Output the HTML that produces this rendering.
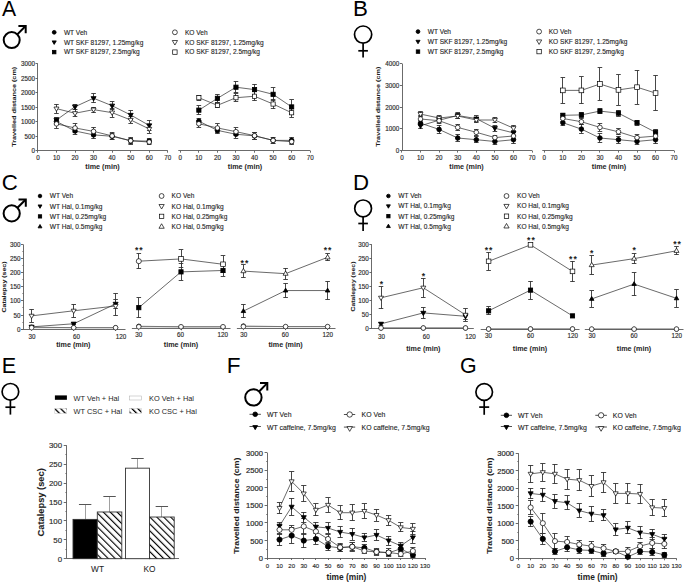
<!DOCTYPE html>
<html><head><meta charset="utf-8"><style>
html,body{margin:0;padding:0;background:#fff;width:685px;height:583px;overflow:hidden}
svg{display:block;font-family:"Liberation Sans", sans-serif}
</style></head><body>
<svg width="685" height="583" viewBox="0 0 685 583">
<rect width="685" height="583" fill="#fff"/>
<text transform="translate(1.88 15.70) scale(0.98 1)" font-size="21.6" fill="#000">A</text>
<circle cx="11.7" cy="40.1" r="8.0" fill="none" stroke="#000" stroke-width="2.0"/>
<line x1="17.32" y1="34.40" x2="25.14" y2="26.47" stroke="#000" stroke-width="2.0"/>
<polyline points="18.40,25.90 25.70,25.90 25.70,33.20" fill="none" stroke="#000" stroke-width="2.0" stroke-linecap="butt" stroke-linejoin="miter"/>
<circle cx="54.20" cy="32.30" r="1.89" fill="#000" stroke="#000" stroke-width="0.85"/>
<text x="63.90" y="34.68" font-size="6.6" text-anchor="start" font-weight="normal" fill="#1e1e1e" stroke="#1e1e1e" stroke-width="0.12">WT Veh</text>
<polygon points="52.15,40.89 56.25,40.89 54.20,44.41" fill="#000" stroke="#000" stroke-width="0.85" stroke-linejoin="miter"/>
<text x="63.90" y="44.58" font-size="6.6" text-anchor="start" font-weight="normal" fill="#1e1e1e" stroke="#1e1e1e" stroke-width="0.12">WT SKF 81297, 1.25mg/kg</text>
<rect x="52.48" y="50.38" width="3.44" height="3.44" fill="#000" stroke="#000" stroke-width="0.85"/>
<text x="63.90" y="54.48" font-size="6.6" text-anchor="start" font-weight="normal" fill="#1e1e1e" stroke="#1e1e1e" stroke-width="0.12">WT SKF 81297, 2.5mg/kg</text>
<circle cx="174.90" cy="32.30" r="2.42" fill="#fff" stroke="#000" stroke-width="0.7"/>
<text x="184.90" y="34.68" font-size="6.6" text-anchor="start" font-weight="normal" fill="#1e1e1e" stroke="#1e1e1e" stroke-width="0.12">KO Veh</text>
<polygon points="172.28,40.52 177.53,40.52 174.90,45.03" fill="#fff" stroke="#000" stroke-width="0.7" stroke-linejoin="miter"/>
<text x="184.90" y="44.58" font-size="6.6" text-anchor="start" font-weight="normal" fill="#1e1e1e" stroke="#1e1e1e" stroke-width="0.12">KO SKF 81297, 1.25mg/kg</text>
<rect x="172.69" y="49.89" width="4.41" height="4.41" fill="#fff" stroke="#000" stroke-width="0.7"/>
<text x="184.90" y="54.48" font-size="6.6" text-anchor="start" font-weight="normal" fill="#1e1e1e" stroke="#1e1e1e" stroke-width="0.12">KO SKF 81297, 2.5mg/kg</text>
<line x1="37.50" y1="150.70" x2="37.50" y2="63.80" stroke="#5a5a5a" stroke-width="0.9"/>
<line x1="35.50" y1="150.50" x2="37.90" y2="150.50" stroke="#5a5a5a" stroke-width="0.9"/>
<text x="34.90" y="153.00" font-size="6.3" text-anchor="end" font-weight="normal" fill="#2a2a2a" stroke="#2a2a2a" stroke-width="0.15">0</text>
<line x1="35.50" y1="136.50" x2="37.90" y2="136.50" stroke="#5a5a5a" stroke-width="0.9"/>
<text x="34.90" y="139.00" font-size="6.3" text-anchor="end" font-weight="normal" fill="#2a2a2a" stroke="#2a2a2a" stroke-width="0.15">500</text>
<line x1="35.50" y1="121.50" x2="37.90" y2="121.50" stroke="#5a5a5a" stroke-width="0.9"/>
<text x="34.90" y="124.00" font-size="6.3" text-anchor="end" font-weight="normal" fill="#2a2a2a" stroke="#2a2a2a" stroke-width="0.15">1000</text>
<line x1="35.50" y1="107.50" x2="37.90" y2="107.50" stroke="#5a5a5a" stroke-width="0.9"/>
<text x="34.90" y="110.00" font-size="6.3" text-anchor="end" font-weight="normal" fill="#2a2a2a" stroke="#2a2a2a" stroke-width="0.15">1500</text>
<line x1="35.50" y1="92.50" x2="37.90" y2="92.50" stroke="#5a5a5a" stroke-width="0.9"/>
<text x="34.90" y="95.00" font-size="6.3" text-anchor="end" font-weight="normal" fill="#2a2a2a" stroke="#2a2a2a" stroke-width="0.15">2000</text>
<line x1="35.50" y1="78.50" x2="37.90" y2="78.50" stroke="#5a5a5a" stroke-width="0.9"/>
<text x="34.90" y="81.00" font-size="6.3" text-anchor="end" font-weight="normal" fill="#2a2a2a" stroke="#2a2a2a" stroke-width="0.15">2500</text>
<line x1="35.50" y1="63.50" x2="37.90" y2="63.50" stroke="#5a5a5a" stroke-width="0.9"/>
<text x="34.90" y="66.00" font-size="6.3" text-anchor="end" font-weight="normal" fill="#2a2a2a" stroke="#2a2a2a" stroke-width="0.15">3000</text>
<line x1="37.90" y1="150.50" x2="167.80" y2="150.50" stroke="#5a5a5a" stroke-width="0.9"/>
<line x1="37.50" y1="150.70" x2="37.50" y2="152.70" stroke="#5a5a5a" stroke-width="0.9"/>
<text x="37.90" y="160.10" font-size="6.3" text-anchor="middle" font-weight="normal" fill="#2a2a2a" stroke="#2a2a2a" stroke-width="0.15">0</text>
<line x1="56.50" y1="150.70" x2="56.50" y2="152.70" stroke="#5a5a5a" stroke-width="0.9"/>
<text x="56.46" y="160.10" font-size="6.3" text-anchor="middle" font-weight="normal" fill="#2a2a2a" stroke="#2a2a2a" stroke-width="0.15">10</text>
<line x1="75.50" y1="150.70" x2="75.50" y2="152.70" stroke="#5a5a5a" stroke-width="0.9"/>
<text x="75.01" y="160.10" font-size="6.3" text-anchor="middle" font-weight="normal" fill="#2a2a2a" stroke="#2a2a2a" stroke-width="0.15">20</text>
<line x1="93.50" y1="150.70" x2="93.50" y2="152.70" stroke="#5a5a5a" stroke-width="0.9"/>
<text x="93.57" y="160.10" font-size="6.3" text-anchor="middle" font-weight="normal" fill="#2a2a2a" stroke="#2a2a2a" stroke-width="0.15">30</text>
<line x1="112.50" y1="150.70" x2="112.50" y2="152.70" stroke="#5a5a5a" stroke-width="0.9"/>
<text x="112.13" y="160.10" font-size="6.3" text-anchor="middle" font-weight="normal" fill="#2a2a2a" stroke="#2a2a2a" stroke-width="0.15">40</text>
<line x1="130.50" y1="150.70" x2="130.50" y2="152.70" stroke="#5a5a5a" stroke-width="0.9"/>
<text x="130.69" y="160.10" font-size="6.3" text-anchor="middle" font-weight="normal" fill="#2a2a2a" stroke="#2a2a2a" stroke-width="0.15">50</text>
<line x1="149.50" y1="150.70" x2="149.50" y2="152.70" stroke="#5a5a5a" stroke-width="0.9"/>
<text x="149.24" y="160.10" font-size="6.3" text-anchor="middle" font-weight="normal" fill="#2a2a2a" stroke="#2a2a2a" stroke-width="0.15">60</text>
<line x1="167.50" y1="150.70" x2="167.50" y2="152.70" stroke="#5a5a5a" stroke-width="0.9"/>
<text x="167.80" y="160.10" font-size="6.3" text-anchor="middle" font-weight="normal" fill="#2a2a2a" stroke="#2a2a2a" stroke-width="0.15">70</text>
<line x1="178.30" y1="150.50" x2="310.20" y2="150.50" stroke="#5a5a5a" stroke-width="0.9"/>
<line x1="180.50" y1="150.70" x2="180.50" y2="152.70" stroke="#5a5a5a" stroke-width="0.9"/>
<text x="180.30" y="160.10" font-size="6.3" text-anchor="middle" font-weight="normal" fill="#2a2a2a" stroke="#2a2a2a" stroke-width="0.15">0</text>
<line x1="198.50" y1="150.70" x2="198.50" y2="152.70" stroke="#5a5a5a" stroke-width="0.9"/>
<text x="198.86" y="160.10" font-size="6.3" text-anchor="middle" font-weight="normal" fill="#2a2a2a" stroke="#2a2a2a" stroke-width="0.15">10</text>
<line x1="217.50" y1="150.70" x2="217.50" y2="152.70" stroke="#5a5a5a" stroke-width="0.9"/>
<text x="217.41" y="160.10" font-size="6.3" text-anchor="middle" font-weight="normal" fill="#2a2a2a" stroke="#2a2a2a" stroke-width="0.15">20</text>
<line x1="235.50" y1="150.70" x2="235.50" y2="152.70" stroke="#5a5a5a" stroke-width="0.9"/>
<text x="235.97" y="160.10" font-size="6.3" text-anchor="middle" font-weight="normal" fill="#2a2a2a" stroke="#2a2a2a" stroke-width="0.15">30</text>
<line x1="254.50" y1="150.70" x2="254.50" y2="152.70" stroke="#5a5a5a" stroke-width="0.9"/>
<text x="254.53" y="160.10" font-size="6.3" text-anchor="middle" font-weight="normal" fill="#2a2a2a" stroke="#2a2a2a" stroke-width="0.15">40</text>
<line x1="273.50" y1="150.70" x2="273.50" y2="152.70" stroke="#5a5a5a" stroke-width="0.9"/>
<text x="273.09" y="160.10" font-size="6.3" text-anchor="middle" font-weight="normal" fill="#2a2a2a" stroke="#2a2a2a" stroke-width="0.15">50</text>
<line x1="291.50" y1="150.70" x2="291.50" y2="152.70" stroke="#5a5a5a" stroke-width="0.9"/>
<text x="291.64" y="160.10" font-size="6.3" text-anchor="middle" font-weight="normal" fill="#2a2a2a" stroke="#2a2a2a" stroke-width="0.15">60</text>
<line x1="310.50" y1="150.70" x2="310.50" y2="152.70" stroke="#5a5a5a" stroke-width="0.9"/>
<text x="310.20" y="160.10" font-size="6.3" text-anchor="middle" font-weight="normal" fill="#2a2a2a" stroke="#2a2a2a" stroke-width="0.15">70</text>
<text transform="translate(13.60 106.80) rotate(-90) scale(1 0.83)" font-size="7.26" text-anchor="middle" font-weight="bold" fill="#1e1e1e" stroke="#1e1e1e" stroke-width="0.1" dominant-baseline="central">Travelled distance (cm)</text>
<text x="102.50" y="169.30" font-size="7.2" text-anchor="middle" font-weight="bold" fill="#1e1e1e">time (min)</text>
<text x="245.00" y="169.30" font-size="7.2" text-anchor="middle" font-weight="bold" fill="#1e1e1e">time (min)</text>
<line x1="56.50" y1="121.47" x2="56.50" y2="118.00" stroke="#333" stroke-width="0.9"/>
<line x1="54.16" y1="117.50" x2="58.76" y2="117.50" stroke="#333" stroke-width="0.9"/>
<line x1="56.50" y1="121.47" x2="56.50" y2="124.95" stroke="#333" stroke-width="0.9"/>
<line x1="54.16" y1="124.50" x2="58.76" y2="124.50" stroke="#333" stroke-width="0.9"/>
<line x1="75.50" y1="130.97" x2="75.50" y2="127.50" stroke="#333" stroke-width="0.9"/>
<line x1="72.71" y1="127.50" x2="77.31" y2="127.50" stroke="#333" stroke-width="0.9"/>
<line x1="75.50" y1="130.97" x2="75.50" y2="134.45" stroke="#333" stroke-width="0.9"/>
<line x1="72.71" y1="134.50" x2="77.31" y2="134.50" stroke="#333" stroke-width="0.9"/>
<line x1="93.50" y1="134.88" x2="93.50" y2="130.83" stroke="#333" stroke-width="0.9"/>
<line x1="91.27" y1="130.50" x2="95.87" y2="130.50" stroke="#333" stroke-width="0.9"/>
<line x1="93.50" y1="134.88" x2="93.50" y2="138.94" stroke="#333" stroke-width="0.9"/>
<line x1="91.27" y1="138.50" x2="95.87" y2="138.50" stroke="#333" stroke-width="0.9"/>
<line x1="112.50" y1="136.27" x2="112.50" y2="133.09" stroke="#333" stroke-width="0.9"/>
<line x1="109.83" y1="133.50" x2="114.43" y2="133.50" stroke="#333" stroke-width="0.9"/>
<line x1="112.50" y1="136.27" x2="112.50" y2="139.46" stroke="#333" stroke-width="0.9"/>
<line x1="109.83" y1="139.50" x2="114.43" y2="139.50" stroke="#333" stroke-width="0.9"/>
<line x1="130.50" y1="140.79" x2="130.50" y2="138.19" stroke="#333" stroke-width="0.9"/>
<line x1="128.39" y1="138.50" x2="132.99" y2="138.50" stroke="#333" stroke-width="0.9"/>
<line x1="130.50" y1="140.79" x2="130.50" y2="143.40" stroke="#333" stroke-width="0.9"/>
<line x1="128.39" y1="143.50" x2="132.99" y2="143.50" stroke="#333" stroke-width="0.9"/>
<line x1="149.50" y1="141.14" x2="149.50" y2="138.82" stroke="#333" stroke-width="0.9"/>
<line x1="146.94" y1="138.50" x2="151.54" y2="138.50" stroke="#333" stroke-width="0.9"/>
<line x1="149.50" y1="141.14" x2="149.50" y2="143.46" stroke="#333" stroke-width="0.9"/>
<line x1="146.94" y1="143.50" x2="151.54" y2="143.50" stroke="#333" stroke-width="0.9"/>
<line x1="56.50" y1="123.88" x2="56.50" y2="119.53" stroke="#333" stroke-width="0.9"/>
<line x1="54.16" y1="119.50" x2="58.76" y2="119.50" stroke="#333" stroke-width="0.9"/>
<line x1="56.50" y1="123.88" x2="56.50" y2="128.22" stroke="#333" stroke-width="0.9"/>
<line x1="54.16" y1="128.50" x2="58.76" y2="128.50" stroke="#333" stroke-width="0.9"/>
<line x1="75.50" y1="127.96" x2="75.50" y2="123.62" stroke="#333" stroke-width="0.9"/>
<line x1="72.71" y1="123.50" x2="77.31" y2="123.50" stroke="#333" stroke-width="0.9"/>
<line x1="75.50" y1="127.96" x2="75.50" y2="132.31" stroke="#333" stroke-width="0.9"/>
<line x1="72.71" y1="132.50" x2="77.31" y2="132.50" stroke="#333" stroke-width="0.9"/>
<line x1="93.50" y1="131.38" x2="93.50" y2="127.03" stroke="#333" stroke-width="0.9"/>
<line x1="91.27" y1="127.50" x2="95.87" y2="127.50" stroke="#333" stroke-width="0.9"/>
<line x1="93.50" y1="131.38" x2="93.50" y2="135.72" stroke="#333" stroke-width="0.9"/>
<line x1="91.27" y1="135.50" x2="95.87" y2="135.50" stroke="#333" stroke-width="0.9"/>
<line x1="112.50" y1="135.87" x2="112.50" y2="132.10" stroke="#333" stroke-width="0.9"/>
<line x1="109.83" y1="132.50" x2="114.43" y2="132.50" stroke="#333" stroke-width="0.9"/>
<line x1="112.50" y1="135.87" x2="112.50" y2="139.63" stroke="#333" stroke-width="0.9"/>
<line x1="109.83" y1="139.50" x2="114.43" y2="139.50" stroke="#333" stroke-width="0.9"/>
<line x1="130.50" y1="140.79" x2="130.50" y2="137.03" stroke="#333" stroke-width="0.9"/>
<line x1="128.39" y1="137.50" x2="132.99" y2="137.50" stroke="#333" stroke-width="0.9"/>
<line x1="130.50" y1="140.79" x2="130.50" y2="144.56" stroke="#333" stroke-width="0.9"/>
<line x1="128.39" y1="144.50" x2="132.99" y2="144.50" stroke="#333" stroke-width="0.9"/>
<line x1="149.50" y1="142.01" x2="149.50" y2="139.11" stroke="#333" stroke-width="0.9"/>
<line x1="146.94" y1="139.50" x2="151.54" y2="139.50" stroke="#333" stroke-width="0.9"/>
<line x1="149.50" y1="142.01" x2="149.50" y2="144.91" stroke="#333" stroke-width="0.9"/>
<line x1="146.94" y1="144.50" x2="151.54" y2="144.50" stroke="#333" stroke-width="0.9"/>
<line x1="56.50" y1="119.97" x2="56.50" y2="117.36" stroke="#333" stroke-width="0.9"/>
<line x1="54.16" y1="117.50" x2="58.76" y2="117.50" stroke="#333" stroke-width="0.9"/>
<line x1="56.50" y1="119.97" x2="56.50" y2="122.57" stroke="#333" stroke-width="0.9"/>
<line x1="54.16" y1="122.50" x2="58.76" y2="122.50" stroke="#333" stroke-width="0.9"/>
<line x1="75.50" y1="106.76" x2="75.50" y2="104.44" stroke="#333" stroke-width="0.9"/>
<line x1="72.71" y1="104.50" x2="77.31" y2="104.50" stroke="#333" stroke-width="0.9"/>
<line x1="75.50" y1="106.76" x2="75.50" y2="109.07" stroke="#333" stroke-width="0.9"/>
<line x1="72.71" y1="109.50" x2="77.31" y2="109.50" stroke="#333" stroke-width="0.9"/>
<line x1="93.50" y1="98.24" x2="93.50" y2="93.61" stroke="#333" stroke-width="0.9"/>
<line x1="91.27" y1="93.50" x2="95.87" y2="93.50" stroke="#333" stroke-width="0.9"/>
<line x1="93.50" y1="98.24" x2="93.50" y2="102.88" stroke="#333" stroke-width="0.9"/>
<line x1="91.27" y1="102.50" x2="95.87" y2="102.50" stroke="#333" stroke-width="0.9"/>
<line x1="112.50" y1="105.74" x2="112.50" y2="101.60" stroke="#333" stroke-width="0.9"/>
<line x1="109.83" y1="101.50" x2="114.43" y2="101.50" stroke="#333" stroke-width="0.9"/>
<line x1="112.50" y1="105.74" x2="112.50" y2="109.89" stroke="#333" stroke-width="0.9"/>
<line x1="109.83" y1="109.50" x2="114.43" y2="109.50" stroke="#333" stroke-width="0.9"/>
<line x1="130.50" y1="114.96" x2="130.50" y2="110.32" stroke="#333" stroke-width="0.9"/>
<line x1="128.39" y1="110.50" x2="132.99" y2="110.50" stroke="#333" stroke-width="0.9"/>
<line x1="130.50" y1="114.96" x2="130.50" y2="119.59" stroke="#333" stroke-width="0.9"/>
<line x1="128.39" y1="119.50" x2="132.99" y2="119.50" stroke="#333" stroke-width="0.9"/>
<line x1="149.50" y1="125.47" x2="149.50" y2="120.40" stroke="#333" stroke-width="0.9"/>
<line x1="146.94" y1="120.50" x2="151.54" y2="120.50" stroke="#333" stroke-width="0.9"/>
<line x1="149.50" y1="125.47" x2="149.50" y2="130.54" stroke="#333" stroke-width="0.9"/>
<line x1="146.94" y1="130.50" x2="151.54" y2="130.50" stroke="#333" stroke-width="0.9"/>
<line x1="56.50" y1="108.64" x2="56.50" y2="104.15" stroke="#333" stroke-width="0.9"/>
<line x1="54.16" y1="104.50" x2="58.76" y2="104.50" stroke="#333" stroke-width="0.9"/>
<line x1="56.50" y1="108.64" x2="56.50" y2="113.13" stroke="#333" stroke-width="0.9"/>
<line x1="54.16" y1="113.50" x2="58.76" y2="113.50" stroke="#333" stroke-width="0.9"/>
<line x1="75.50" y1="113.25" x2="75.50" y2="109.77" stroke="#333" stroke-width="0.9"/>
<line x1="72.71" y1="109.50" x2="77.31" y2="109.50" stroke="#333" stroke-width="0.9"/>
<line x1="75.50" y1="113.25" x2="75.50" y2="116.72" stroke="#333" stroke-width="0.9"/>
<line x1="72.71" y1="116.50" x2="77.31" y2="116.50" stroke="#333" stroke-width="0.9"/>
<line x1="93.50" y1="109.65" x2="93.50" y2="107.19" stroke="#333" stroke-width="0.9"/>
<line x1="91.27" y1="107.50" x2="95.87" y2="107.50" stroke="#333" stroke-width="0.9"/>
<line x1="93.50" y1="109.65" x2="93.50" y2="112.12" stroke="#333" stroke-width="0.9"/>
<line x1="91.27" y1="112.50" x2="95.87" y2="112.50" stroke="#333" stroke-width="0.9"/>
<line x1="112.50" y1="112.67" x2="112.50" y2="108.32" stroke="#333" stroke-width="0.9"/>
<line x1="109.83" y1="108.50" x2="114.43" y2="108.50" stroke="#333" stroke-width="0.9"/>
<line x1="112.50" y1="112.67" x2="112.50" y2="117.01" stroke="#333" stroke-width="0.9"/>
<line x1="109.83" y1="117.50" x2="114.43" y2="117.50" stroke="#333" stroke-width="0.9"/>
<line x1="130.50" y1="119.97" x2="130.50" y2="116.78" stroke="#333" stroke-width="0.9"/>
<line x1="128.39" y1="116.50" x2="132.99" y2="116.50" stroke="#333" stroke-width="0.9"/>
<line x1="130.50" y1="119.97" x2="130.50" y2="123.15" stroke="#333" stroke-width="0.9"/>
<line x1="128.39" y1="123.50" x2="132.99" y2="123.50" stroke="#333" stroke-width="0.9"/>
<line x1="149.50" y1="128.97" x2="149.50" y2="124.92" stroke="#333" stroke-width="0.9"/>
<line x1="146.94" y1="124.50" x2="151.54" y2="124.50" stroke="#333" stroke-width="0.9"/>
<line x1="149.50" y1="128.97" x2="149.50" y2="133.03" stroke="#333" stroke-width="0.9"/>
<line x1="146.94" y1="133.50" x2="151.54" y2="133.50" stroke="#333" stroke-width="0.9"/>
<polyline points="56.46,121.47 75.01,130.97 93.57,134.88 112.13,136.27 130.69,140.79 149.24,141.14" fill="none" stroke="#2a2a2a" stroke-width="0.7"/>
<polyline points="56.46,123.88 75.01,127.96 93.57,131.38 112.13,135.87 130.69,140.79 149.24,142.01" fill="none" stroke="#2a2a2a" stroke-width="0.7"/>
<polyline points="56.46,119.97 75.01,106.76 93.57,98.24 112.13,105.74 130.69,114.96 149.24,125.47" fill="none" stroke="#2a2a2a" stroke-width="0.7"/>
<polyline points="56.46,108.64 75.01,113.25 93.57,109.65 112.13,112.67 130.69,119.97 149.24,128.97" fill="none" stroke="#2a2a2a" stroke-width="0.7"/>
<polygon points="53.96,118.37 58.96,118.37 56.46,122.67" fill="#000" stroke="#000" stroke-width="0.85" stroke-linejoin="miter"/>
<polygon points="72.51,105.16 77.51,105.16 75.01,109.46" fill="#000" stroke="#000" stroke-width="0.85" stroke-linejoin="miter"/>
<polygon points="91.07,96.64 96.07,96.64 93.57,100.94" fill="#000" stroke="#000" stroke-width="0.85" stroke-linejoin="miter"/>
<polygon points="109.63,104.14 114.63,104.14 112.13,108.44" fill="#000" stroke="#000" stroke-width="0.85" stroke-linejoin="miter"/>
<polygon points="128.19,113.36 133.19,113.36 130.69,117.66" fill="#000" stroke="#000" stroke-width="0.85" stroke-linejoin="miter"/>
<polygon points="146.74,123.87 151.74,123.87 149.24,128.17" fill="#000" stroke="#000" stroke-width="0.85" stroke-linejoin="miter"/>
<polygon points="53.96,107.04 58.96,107.04 56.46,111.34" fill="#fff" stroke="#000" stroke-width="0.7" stroke-linejoin="miter"/>
<polygon points="72.51,111.65 77.51,111.65 75.01,115.95" fill="#fff" stroke="#000" stroke-width="0.7" stroke-linejoin="miter"/>
<polygon points="91.07,108.05 96.07,108.05 93.57,112.35" fill="#fff" stroke="#000" stroke-width="0.7" stroke-linejoin="miter"/>
<polygon points="109.63,111.07 114.63,111.07 112.13,115.37" fill="#fff" stroke="#000" stroke-width="0.7" stroke-linejoin="miter"/>
<polygon points="128.19,118.37 133.19,118.37 130.69,122.67" fill="#fff" stroke="#000" stroke-width="0.7" stroke-linejoin="miter"/>
<polygon points="146.74,127.38 151.74,127.38 149.24,131.67" fill="#fff" stroke="#000" stroke-width="0.7" stroke-linejoin="miter"/>
<circle cx="56.46" cy="121.47" r="2.30" fill="#000" stroke="#000" stroke-width="0.85"/>
<circle cx="75.01" cy="130.97" r="2.30" fill="#000" stroke="#000" stroke-width="0.85"/>
<circle cx="93.57" cy="134.88" r="2.30" fill="#000" stroke="#000" stroke-width="0.85"/>
<circle cx="112.13" cy="136.27" r="2.30" fill="#000" stroke="#000" stroke-width="0.85"/>
<circle cx="130.69" cy="140.79" r="2.30" fill="#000" stroke="#000" stroke-width="0.85"/>
<circle cx="149.24" cy="141.14" r="2.30" fill="#000" stroke="#000" stroke-width="0.85"/>
<circle cx="56.46" cy="123.88" r="2.30" fill="#fff" stroke="#000" stroke-width="0.7"/>
<circle cx="75.01" cy="127.96" r="2.30" fill="#fff" stroke="#000" stroke-width="0.7"/>
<circle cx="93.57" cy="131.38" r="2.30" fill="#fff" stroke="#000" stroke-width="0.7"/>
<circle cx="112.13" cy="135.87" r="2.30" fill="#fff" stroke="#000" stroke-width="0.7"/>
<circle cx="130.69" cy="140.79" r="2.30" fill="#fff" stroke="#000" stroke-width="0.7"/>
<circle cx="149.24" cy="142.01" r="2.30" fill="#fff" stroke="#000" stroke-width="0.7"/>
<line x1="198.50" y1="121.15" x2="198.50" y2="118.26" stroke="#333" stroke-width="0.9"/>
<line x1="196.56" y1="118.50" x2="201.16" y2="118.50" stroke="#333" stroke-width="0.9"/>
<line x1="198.50" y1="121.15" x2="198.50" y2="124.05" stroke="#333" stroke-width="0.9"/>
<line x1="196.56" y1="124.50" x2="201.16" y2="124.50" stroke="#333" stroke-width="0.9"/>
<line x1="217.50" y1="130.37" x2="217.50" y2="127.18" stroke="#333" stroke-width="0.9"/>
<line x1="215.11" y1="127.50" x2="219.71" y2="127.50" stroke="#333" stroke-width="0.9"/>
<line x1="217.50" y1="130.37" x2="217.50" y2="133.55" stroke="#333" stroke-width="0.9"/>
<line x1="215.11" y1="133.50" x2="219.71" y2="133.50" stroke="#333" stroke-width="0.9"/>
<line x1="235.50" y1="134.28" x2="235.50" y2="130.51" stroke="#333" stroke-width="0.9"/>
<line x1="233.67" y1="130.50" x2="238.27" y2="130.50" stroke="#333" stroke-width="0.9"/>
<line x1="235.50" y1="134.28" x2="235.50" y2="138.04" stroke="#333" stroke-width="0.9"/>
<line x1="233.67" y1="138.50" x2="238.27" y2="138.50" stroke="#333" stroke-width="0.9"/>
<line x1="254.50" y1="135.87" x2="254.50" y2="132.68" stroke="#333" stroke-width="0.9"/>
<line x1="252.23" y1="132.50" x2="256.83" y2="132.50" stroke="#333" stroke-width="0.9"/>
<line x1="254.50" y1="135.87" x2="254.50" y2="139.06" stroke="#333" stroke-width="0.9"/>
<line x1="252.23" y1="139.50" x2="256.83" y2="139.50" stroke="#333" stroke-width="0.9"/>
<line x1="273.50" y1="140.39" x2="273.50" y2="137.49" stroke="#333" stroke-width="0.9"/>
<line x1="270.79" y1="137.50" x2="275.39" y2="137.50" stroke="#333" stroke-width="0.9"/>
<line x1="273.50" y1="140.39" x2="273.50" y2="143.28" stroke="#333" stroke-width="0.9"/>
<line x1="270.79" y1="143.50" x2="275.39" y2="143.50" stroke="#333" stroke-width="0.9"/>
<line x1="291.50" y1="140.39" x2="291.50" y2="137.49" stroke="#333" stroke-width="0.9"/>
<line x1="289.34" y1="137.50" x2="293.94" y2="137.50" stroke="#333" stroke-width="0.9"/>
<line x1="291.50" y1="140.39" x2="291.50" y2="143.28" stroke="#333" stroke-width="0.9"/>
<line x1="289.34" y1="143.50" x2="293.94" y2="143.50" stroke="#333" stroke-width="0.9"/>
<line x1="198.50" y1="123.76" x2="198.50" y2="120.28" stroke="#333" stroke-width="0.9"/>
<line x1="196.56" y1="120.50" x2="201.16" y2="120.50" stroke="#333" stroke-width="0.9"/>
<line x1="198.50" y1="123.76" x2="198.50" y2="127.24" stroke="#333" stroke-width="0.9"/>
<line x1="196.56" y1="127.50" x2="201.16" y2="127.50" stroke="#333" stroke-width="0.9"/>
<line x1="217.50" y1="127.96" x2="217.50" y2="123.91" stroke="#333" stroke-width="0.9"/>
<line x1="215.11" y1="123.50" x2="219.71" y2="123.50" stroke="#333" stroke-width="0.9"/>
<line x1="217.50" y1="127.96" x2="217.50" y2="132.02" stroke="#333" stroke-width="0.9"/>
<line x1="215.11" y1="132.50" x2="219.71" y2="132.50" stroke="#333" stroke-width="0.9"/>
<line x1="235.50" y1="131.67" x2="235.50" y2="127.61" stroke="#333" stroke-width="0.9"/>
<line x1="233.67" y1="127.50" x2="238.27" y2="127.50" stroke="#333" stroke-width="0.9"/>
<line x1="235.50" y1="131.67" x2="235.50" y2="135.72" stroke="#333" stroke-width="0.9"/>
<line x1="233.67" y1="135.50" x2="238.27" y2="135.50" stroke="#333" stroke-width="0.9"/>
<line x1="254.50" y1="135.67" x2="254.50" y2="132.19" stroke="#333" stroke-width="0.9"/>
<line x1="252.23" y1="132.50" x2="256.83" y2="132.50" stroke="#333" stroke-width="0.9"/>
<line x1="254.50" y1="135.67" x2="254.50" y2="139.14" stroke="#333" stroke-width="0.9"/>
<line x1="252.23" y1="139.50" x2="256.83" y2="139.50" stroke="#333" stroke-width="0.9"/>
<line x1="273.50" y1="140.39" x2="273.50" y2="137.20" stroke="#333" stroke-width="0.9"/>
<line x1="270.79" y1="137.50" x2="275.39" y2="137.50" stroke="#333" stroke-width="0.9"/>
<line x1="273.50" y1="140.39" x2="273.50" y2="143.57" stroke="#333" stroke-width="0.9"/>
<line x1="270.79" y1="143.50" x2="275.39" y2="143.50" stroke="#333" stroke-width="0.9"/>
<line x1="291.50" y1="141.69" x2="291.50" y2="139.08" stroke="#333" stroke-width="0.9"/>
<line x1="289.34" y1="139.50" x2="293.94" y2="139.50" stroke="#333" stroke-width="0.9"/>
<line x1="291.50" y1="141.69" x2="291.50" y2="144.30" stroke="#333" stroke-width="0.9"/>
<line x1="289.34" y1="144.50" x2="293.94" y2="144.50" stroke="#333" stroke-width="0.9"/>
<line x1="198.50" y1="110.15" x2="198.50" y2="105.80" stroke="#333" stroke-width="0.9"/>
<line x1="196.56" y1="105.50" x2="201.16" y2="105.50" stroke="#333" stroke-width="0.9"/>
<line x1="198.50" y1="110.15" x2="198.50" y2="114.49" stroke="#333" stroke-width="0.9"/>
<line x1="196.56" y1="114.50" x2="201.16" y2="114.50" stroke="#333" stroke-width="0.9"/>
<line x1="217.50" y1="98.33" x2="217.50" y2="94.56" stroke="#333" stroke-width="0.9"/>
<line x1="215.11" y1="94.50" x2="219.71" y2="94.50" stroke="#333" stroke-width="0.9"/>
<line x1="217.50" y1="98.33" x2="217.50" y2="102.09" stroke="#333" stroke-width="0.9"/>
<line x1="215.11" y1="102.50" x2="219.71" y2="102.50" stroke="#333" stroke-width="0.9"/>
<line x1="235.50" y1="87.21" x2="235.50" y2="81.41" stroke="#333" stroke-width="0.9"/>
<line x1="233.67" y1="81.50" x2="238.27" y2="81.50" stroke="#333" stroke-width="0.9"/>
<line x1="235.50" y1="87.21" x2="235.50" y2="93.00" stroke="#333" stroke-width="0.9"/>
<line x1="233.67" y1="92.50" x2="238.27" y2="92.50" stroke="#333" stroke-width="0.9"/>
<line x1="254.50" y1="89.61" x2="254.50" y2="84.11" stroke="#333" stroke-width="0.9"/>
<line x1="252.23" y1="84.50" x2="256.83" y2="84.50" stroke="#333" stroke-width="0.9"/>
<line x1="254.50" y1="89.61" x2="254.50" y2="95.11" stroke="#333" stroke-width="0.9"/>
<line x1="252.23" y1="95.50" x2="256.83" y2="95.50" stroke="#333" stroke-width="0.9"/>
<line x1="273.50" y1="94.33" x2="273.50" y2="87.67" stroke="#333" stroke-width="0.9"/>
<line x1="270.79" y1="87.50" x2="275.39" y2="87.50" stroke="#333" stroke-width="0.9"/>
<line x1="273.50" y1="94.33" x2="273.50" y2="100.99" stroke="#333" stroke-width="0.9"/>
<line x1="270.79" y1="100.50" x2="275.39" y2="100.50" stroke="#333" stroke-width="0.9"/>
<line x1="291.50" y1="106.93" x2="291.50" y2="99.98" stroke="#333" stroke-width="0.9"/>
<line x1="289.34" y1="99.50" x2="293.94" y2="99.50" stroke="#333" stroke-width="0.9"/>
<line x1="291.50" y1="106.93" x2="291.50" y2="113.88" stroke="#333" stroke-width="0.9"/>
<line x1="289.34" y1="113.50" x2="293.94" y2="113.50" stroke="#333" stroke-width="0.9"/>
<line x1="198.50" y1="97.72" x2="198.50" y2="95.40" stroke="#333" stroke-width="0.9"/>
<line x1="196.56" y1="95.50" x2="201.16" y2="95.50" stroke="#333" stroke-width="0.9"/>
<line x1="198.50" y1="97.72" x2="198.50" y2="100.04" stroke="#333" stroke-width="0.9"/>
<line x1="196.56" y1="100.50" x2="201.16" y2="100.50" stroke="#333" stroke-width="0.9"/>
<line x1="217.50" y1="105.34" x2="217.50" y2="102.73" stroke="#333" stroke-width="0.9"/>
<line x1="215.11" y1="102.50" x2="219.71" y2="102.50" stroke="#333" stroke-width="0.9"/>
<line x1="217.50" y1="105.34" x2="217.50" y2="107.95" stroke="#333" stroke-width="0.9"/>
<line x1="215.11" y1="107.50" x2="219.71" y2="107.50" stroke="#333" stroke-width="0.9"/>
<line x1="235.50" y1="97.72" x2="235.50" y2="93.95" stroke="#333" stroke-width="0.9"/>
<line x1="233.67" y1="93.50" x2="238.27" y2="93.50" stroke="#333" stroke-width="0.9"/>
<line x1="235.50" y1="97.72" x2="235.50" y2="101.49" stroke="#333" stroke-width="0.9"/>
<line x1="233.67" y1="101.50" x2="238.27" y2="101.50" stroke="#333" stroke-width="0.9"/>
<line x1="254.50" y1="96.24" x2="254.50" y2="91.90" stroke="#333" stroke-width="0.9"/>
<line x1="252.23" y1="91.50" x2="256.83" y2="91.50" stroke="#333" stroke-width="0.9"/>
<line x1="254.50" y1="96.24" x2="254.50" y2="100.59" stroke="#333" stroke-width="0.9"/>
<line x1="252.23" y1="100.50" x2="256.83" y2="100.50" stroke="#333" stroke-width="0.9"/>
<line x1="273.50" y1="104.03" x2="273.50" y2="99.11" stroke="#333" stroke-width="0.9"/>
<line x1="270.79" y1="99.50" x2="275.39" y2="99.50" stroke="#333" stroke-width="0.9"/>
<line x1="273.50" y1="104.03" x2="273.50" y2="108.96" stroke="#333" stroke-width="0.9"/>
<line x1="270.79" y1="108.50" x2="275.39" y2="108.50" stroke="#333" stroke-width="0.9"/>
<line x1="291.50" y1="112.75" x2="291.50" y2="108.12" stroke="#333" stroke-width="0.9"/>
<line x1="289.34" y1="108.50" x2="293.94" y2="108.50" stroke="#333" stroke-width="0.9"/>
<line x1="291.50" y1="112.75" x2="291.50" y2="117.39" stroke="#333" stroke-width="0.9"/>
<line x1="289.34" y1="117.50" x2="293.94" y2="117.50" stroke="#333" stroke-width="0.9"/>
<polyline points="198.86,121.15 217.41,130.37 235.97,134.28 254.53,135.87 273.09,140.39 291.64,140.39" fill="none" stroke="#2a2a2a" stroke-width="0.7"/>
<polyline points="198.86,123.76 217.41,127.96 235.97,131.67 254.53,135.67 273.09,140.39 291.64,141.69" fill="none" stroke="#2a2a2a" stroke-width="0.7"/>
<polyline points="198.86,110.15 217.41,98.33 235.97,87.21 254.53,89.61 273.09,94.33 291.64,106.93" fill="none" stroke="#2a2a2a" stroke-width="0.7"/>
<polyline points="198.86,97.72 217.41,105.34 235.97,97.72 254.53,96.24 273.09,104.03 291.64,112.75" fill="none" stroke="#2a2a2a" stroke-width="0.7"/>
<rect x="196.76" y="108.05" width="4.20" height="4.20" fill="#000" stroke="#000" stroke-width="0.85"/>
<rect x="215.31" y="96.23" width="4.20" height="4.20" fill="#000" stroke="#000" stroke-width="0.85"/>
<rect x="233.87" y="85.11" width="4.20" height="4.20" fill="#000" stroke="#000" stroke-width="0.85"/>
<rect x="252.43" y="87.51" width="4.20" height="4.20" fill="#000" stroke="#000" stroke-width="0.85"/>
<rect x="270.99" y="92.23" width="4.20" height="4.20" fill="#000" stroke="#000" stroke-width="0.85"/>
<rect x="289.54" y="104.83" width="4.20" height="4.20" fill="#000" stroke="#000" stroke-width="0.85"/>
<rect x="196.76" y="95.62" width="4.20" height="4.20" fill="#fff" stroke="#000" stroke-width="0.7"/>
<rect x="215.31" y="103.24" width="4.20" height="4.20" fill="#fff" stroke="#000" stroke-width="0.7"/>
<rect x="233.87" y="95.62" width="4.20" height="4.20" fill="#fff" stroke="#000" stroke-width="0.7"/>
<rect x="252.43" y="94.14" width="4.20" height="4.20" fill="#fff" stroke="#000" stroke-width="0.7"/>
<rect x="270.99" y="101.93" width="4.20" height="4.20" fill="#fff" stroke="#000" stroke-width="0.7"/>
<rect x="289.54" y="110.65" width="4.20" height="4.20" fill="#fff" stroke="#000" stroke-width="0.7"/>
<circle cx="198.86" cy="121.15" r="2.30" fill="#000" stroke="#000" stroke-width="0.85"/>
<circle cx="217.41" cy="130.37" r="2.30" fill="#000" stroke="#000" stroke-width="0.85"/>
<circle cx="235.97" cy="134.28" r="2.30" fill="#000" stroke="#000" stroke-width="0.85"/>
<circle cx="254.53" cy="135.87" r="2.30" fill="#000" stroke="#000" stroke-width="0.85"/>
<circle cx="273.09" cy="140.39" r="2.30" fill="#000" stroke="#000" stroke-width="0.85"/>
<circle cx="291.64" cy="140.39" r="2.30" fill="#000" stroke="#000" stroke-width="0.85"/>
<circle cx="198.86" cy="123.76" r="2.30" fill="#fff" stroke="#000" stroke-width="0.7"/>
<circle cx="217.41" cy="127.96" r="2.30" fill="#fff" stroke="#000" stroke-width="0.7"/>
<circle cx="235.97" cy="131.67" r="2.30" fill="#fff" stroke="#000" stroke-width="0.7"/>
<circle cx="254.53" cy="135.67" r="2.30" fill="#fff" stroke="#000" stroke-width="0.7"/>
<circle cx="273.09" cy="140.39" r="2.30" fill="#fff" stroke="#000" stroke-width="0.7"/>
<circle cx="291.64" cy="141.69" r="2.30" fill="#fff" stroke="#000" stroke-width="0.7"/>
<text transform="translate(353.10 15.90) scale(1.035 1)" font-size="21.6" fill="#000">B</text>
<circle cx="363.1" cy="34.6" r="8.6" fill="none" stroke="#000" stroke-width="1.7"/>
<line x1="363.1" y1="43.2" x2="363.1" y2="57.4" stroke="#000" stroke-width="1.7"/>
<line x1="358.3" y1="50.8" x2="367.90000000000003" y2="50.8" stroke="#000" stroke-width="1.7"/>
<circle cx="418.00" cy="31.60" r="1.89" fill="#000" stroke="#000" stroke-width="0.85"/>
<text x="427.70" y="33.98" font-size="6.6" text-anchor="start" font-weight="normal" fill="#1e1e1e" stroke="#1e1e1e" stroke-width="0.12">WT Veh</text>
<polygon points="415.95,40.29 420.05,40.29 418.00,43.81" fill="#000" stroke="#000" stroke-width="0.85" stroke-linejoin="miter"/>
<text x="427.70" y="43.98" font-size="6.6" text-anchor="start" font-weight="normal" fill="#1e1e1e" stroke="#1e1e1e" stroke-width="0.12">WT SKF 81297, 1.25mg/kg</text>
<rect x="416.28" y="49.88" width="3.44" height="3.44" fill="#000" stroke="#000" stroke-width="0.85"/>
<text x="427.70" y="53.98" font-size="6.6" text-anchor="start" font-weight="normal" fill="#1e1e1e" stroke="#1e1e1e" stroke-width="0.12">WT SKF 81297, 2.5mg/kg</text>
<circle cx="539.10" cy="31.60" r="2.42" fill="#fff" stroke="#000" stroke-width="0.7"/>
<text x="548.70" y="33.98" font-size="6.6" text-anchor="start" font-weight="normal" fill="#1e1e1e" stroke="#1e1e1e" stroke-width="0.12">KO Veh</text>
<polygon points="536.48,39.92 541.73,39.92 539.10,44.44" fill="#fff" stroke="#000" stroke-width="0.7" stroke-linejoin="miter"/>
<text x="548.70" y="43.98" font-size="6.6" text-anchor="start" font-weight="normal" fill="#1e1e1e" stroke="#1e1e1e" stroke-width="0.12">KO SKF 81297, 1.25mg/kg</text>
<rect x="536.89" y="49.40" width="4.41" height="4.41" fill="#fff" stroke="#000" stroke-width="0.7"/>
<text x="548.70" y="53.98" font-size="6.6" text-anchor="start" font-weight="normal" fill="#1e1e1e" stroke="#1e1e1e" stroke-width="0.12">KO SKF 81297, 2.5mg/kg</text>
<line x1="402.50" y1="150.60" x2="402.50" y2="63.70" stroke="#5a5a5a" stroke-width="0.9"/>
<line x1="399.80" y1="150.50" x2="402.20" y2="150.50" stroke="#5a5a5a" stroke-width="0.9"/>
<text x="399.20" y="153.00" font-size="6.3" text-anchor="end" font-weight="normal" fill="#2a2a2a" stroke="#2a2a2a" stroke-width="0.15">0</text>
<line x1="399.80" y1="128.50" x2="402.20" y2="128.50" stroke="#5a5a5a" stroke-width="0.9"/>
<text x="399.20" y="131.00" font-size="6.3" text-anchor="end" font-weight="normal" fill="#2a2a2a" stroke="#2a2a2a" stroke-width="0.15">1000</text>
<line x1="399.80" y1="107.50" x2="402.20" y2="107.50" stroke="#5a5a5a" stroke-width="0.9"/>
<text x="399.20" y="110.00" font-size="6.3" text-anchor="end" font-weight="normal" fill="#2a2a2a" stroke="#2a2a2a" stroke-width="0.15">2000</text>
<line x1="399.80" y1="85.50" x2="402.20" y2="85.50" stroke="#5a5a5a" stroke-width="0.9"/>
<text x="399.20" y="88.00" font-size="6.3" text-anchor="end" font-weight="normal" fill="#2a2a2a" stroke="#2a2a2a" stroke-width="0.15">3000</text>
<line x1="399.80" y1="63.50" x2="402.20" y2="63.50" stroke="#5a5a5a" stroke-width="0.9"/>
<text x="399.20" y="66.00" font-size="6.3" text-anchor="end" font-weight="normal" fill="#2a2a2a" stroke="#2a2a2a" stroke-width="0.15">4000</text>
<line x1="402.20" y1="150.50" x2="532.10" y2="150.50" stroke="#5a5a5a" stroke-width="0.9"/>
<line x1="401.50" y1="150.60" x2="401.50" y2="152.60" stroke="#5a5a5a" stroke-width="0.9"/>
<text x="401.90" y="160.00" font-size="6.3" text-anchor="middle" font-weight="normal" fill="#2a2a2a" stroke="#2a2a2a" stroke-width="0.15">0</text>
<line x1="420.50" y1="150.60" x2="420.50" y2="152.60" stroke="#5a5a5a" stroke-width="0.9"/>
<text x="420.50" y="160.00" font-size="6.3" text-anchor="middle" font-weight="normal" fill="#2a2a2a" stroke="#2a2a2a" stroke-width="0.15">10</text>
<line x1="439.50" y1="150.60" x2="439.50" y2="152.60" stroke="#5a5a5a" stroke-width="0.9"/>
<text x="439.10" y="160.00" font-size="6.3" text-anchor="middle" font-weight="normal" fill="#2a2a2a" stroke="#2a2a2a" stroke-width="0.15">20</text>
<line x1="457.50" y1="150.60" x2="457.50" y2="152.60" stroke="#5a5a5a" stroke-width="0.9"/>
<text x="457.70" y="160.00" font-size="6.3" text-anchor="middle" font-weight="normal" fill="#2a2a2a" stroke="#2a2a2a" stroke-width="0.15">30</text>
<line x1="476.50" y1="150.60" x2="476.50" y2="152.60" stroke="#5a5a5a" stroke-width="0.9"/>
<text x="476.30" y="160.00" font-size="6.3" text-anchor="middle" font-weight="normal" fill="#2a2a2a" stroke="#2a2a2a" stroke-width="0.15">40</text>
<line x1="494.50" y1="150.60" x2="494.50" y2="152.60" stroke="#5a5a5a" stroke-width="0.9"/>
<text x="494.90" y="160.00" font-size="6.3" text-anchor="middle" font-weight="normal" fill="#2a2a2a" stroke="#2a2a2a" stroke-width="0.15">50</text>
<line x1="513.50" y1="150.60" x2="513.50" y2="152.60" stroke="#5a5a5a" stroke-width="0.9"/>
<text x="513.50" y="160.00" font-size="6.3" text-anchor="middle" font-weight="normal" fill="#2a2a2a" stroke="#2a2a2a" stroke-width="0.15">60</text>
<line x1="532.50" y1="150.60" x2="532.50" y2="152.60" stroke="#5a5a5a" stroke-width="0.9"/>
<text x="532.10" y="160.00" font-size="6.3" text-anchor="middle" font-weight="normal" fill="#2a2a2a" stroke="#2a2a2a" stroke-width="0.15">70</text>
<line x1="542.30" y1="150.50" x2="674.10" y2="150.50" stroke="#5a5a5a" stroke-width="0.9"/>
<line x1="544.50" y1="150.60" x2="544.50" y2="152.60" stroke="#5a5a5a" stroke-width="0.9"/>
<text x="544.30" y="160.00" font-size="6.3" text-anchor="middle" font-weight="normal" fill="#2a2a2a" stroke="#2a2a2a" stroke-width="0.15">0</text>
<line x1="562.50" y1="150.60" x2="562.50" y2="152.60" stroke="#5a5a5a" stroke-width="0.9"/>
<text x="562.84" y="160.00" font-size="6.3" text-anchor="middle" font-weight="normal" fill="#2a2a2a" stroke="#2a2a2a" stroke-width="0.15">10</text>
<line x1="581.50" y1="150.60" x2="581.50" y2="152.60" stroke="#5a5a5a" stroke-width="0.9"/>
<text x="581.39" y="160.00" font-size="6.3" text-anchor="middle" font-weight="normal" fill="#2a2a2a" stroke="#2a2a2a" stroke-width="0.15">20</text>
<line x1="599.50" y1="150.60" x2="599.50" y2="152.60" stroke="#5a5a5a" stroke-width="0.9"/>
<text x="599.93" y="160.00" font-size="6.3" text-anchor="middle" font-weight="normal" fill="#2a2a2a" stroke="#2a2a2a" stroke-width="0.15">30</text>
<line x1="618.50" y1="150.60" x2="618.50" y2="152.60" stroke="#5a5a5a" stroke-width="0.9"/>
<text x="618.47" y="160.00" font-size="6.3" text-anchor="middle" font-weight="normal" fill="#2a2a2a" stroke="#2a2a2a" stroke-width="0.15">40</text>
<line x1="637.50" y1="150.60" x2="637.50" y2="152.60" stroke="#5a5a5a" stroke-width="0.9"/>
<text x="637.01" y="160.00" font-size="6.3" text-anchor="middle" font-weight="normal" fill="#2a2a2a" stroke="#2a2a2a" stroke-width="0.15">50</text>
<line x1="655.50" y1="150.60" x2="655.50" y2="152.60" stroke="#5a5a5a" stroke-width="0.9"/>
<text x="655.56" y="160.00" font-size="6.3" text-anchor="middle" font-weight="normal" fill="#2a2a2a" stroke="#2a2a2a" stroke-width="0.15">60</text>
<line x1="674.50" y1="150.60" x2="674.50" y2="152.60" stroke="#5a5a5a" stroke-width="0.9"/>
<text x="674.10" y="160.00" font-size="6.3" text-anchor="middle" font-weight="normal" fill="#2a2a2a" stroke="#2a2a2a" stroke-width="0.15">70</text>
<text transform="translate(377.90 106.70) rotate(-90) scale(1 0.85)" font-size="7.26" text-anchor="middle" font-weight="bold" fill="#1e1e1e" stroke="#1e1e1e" stroke-width="0.1" dominant-baseline="central">Travelled distance (cm)</text>
<text x="466.50" y="169.30" font-size="7.2" text-anchor="middle" font-weight="bold" fill="#1e1e1e">time (min)</text>
<text x="609.00" y="169.30" font-size="7.2" text-anchor="middle" font-weight="bold" fill="#1e1e1e">time (min)</text>
<line x1="420.50" y1="123.15" x2="420.50" y2="120.56" stroke="#333" stroke-width="0.9"/>
<line x1="418.20" y1="120.50" x2="422.80" y2="120.50" stroke="#333" stroke-width="0.9"/>
<line x1="420.50" y1="123.15" x2="420.50" y2="125.74" stroke="#333" stroke-width="0.9"/>
<line x1="418.20" y1="125.50" x2="422.80" y2="125.50" stroke="#333" stroke-width="0.9"/>
<line x1="439.50" y1="129.42" x2="439.50" y2="125.10" stroke="#333" stroke-width="0.9"/>
<line x1="436.80" y1="125.50" x2="441.40" y2="125.50" stroke="#333" stroke-width="0.9"/>
<line x1="439.50" y1="129.42" x2="439.50" y2="133.74" stroke="#333" stroke-width="0.9"/>
<line x1="436.80" y1="133.50" x2="441.40" y2="133.50" stroke="#333" stroke-width="0.9"/>
<line x1="457.50" y1="138.01" x2="457.50" y2="134.56" stroke="#333" stroke-width="0.9"/>
<line x1="455.40" y1="134.50" x2="460.00" y2="134.50" stroke="#333" stroke-width="0.9"/>
<line x1="457.50" y1="138.01" x2="457.50" y2="141.47" stroke="#333" stroke-width="0.9"/>
<line x1="455.40" y1="141.50" x2="460.00" y2="141.50" stroke="#333" stroke-width="0.9"/>
<line x1="476.50" y1="139.70" x2="476.50" y2="136.89" stroke="#333" stroke-width="0.9"/>
<line x1="474.00" y1="136.50" x2="478.60" y2="136.50" stroke="#333" stroke-width="0.9"/>
<line x1="476.50" y1="139.70" x2="476.50" y2="142.51" stroke="#333" stroke-width="0.9"/>
<line x1="474.00" y1="142.50" x2="478.60" y2="142.50" stroke="#333" stroke-width="0.9"/>
<line x1="494.50" y1="141.51" x2="494.50" y2="138.49" stroke="#333" stroke-width="0.9"/>
<line x1="492.60" y1="138.50" x2="497.20" y2="138.50" stroke="#333" stroke-width="0.9"/>
<line x1="494.50" y1="141.51" x2="494.50" y2="144.54" stroke="#333" stroke-width="0.9"/>
<line x1="492.60" y1="144.50" x2="497.20" y2="144.50" stroke="#333" stroke-width="0.9"/>
<line x1="513.50" y1="139.70" x2="513.50" y2="135.81" stroke="#333" stroke-width="0.9"/>
<line x1="511.20" y1="135.50" x2="515.80" y2="135.50" stroke="#333" stroke-width="0.9"/>
<line x1="513.50" y1="139.70" x2="513.50" y2="143.59" stroke="#333" stroke-width="0.9"/>
<line x1="511.20" y1="143.50" x2="515.80" y2="143.50" stroke="#333" stroke-width="0.9"/>
<line x1="420.50" y1="119.00" x2="420.50" y2="115.76" stroke="#333" stroke-width="0.9"/>
<line x1="418.20" y1="115.50" x2="422.80" y2="115.50" stroke="#333" stroke-width="0.9"/>
<line x1="420.50" y1="119.00" x2="420.50" y2="122.24" stroke="#333" stroke-width="0.9"/>
<line x1="418.20" y1="122.50" x2="422.80" y2="122.50" stroke="#333" stroke-width="0.9"/>
<line x1="439.50" y1="120.71" x2="439.50" y2="117.90" stroke="#333" stroke-width="0.9"/>
<line x1="436.80" y1="117.50" x2="441.40" y2="117.50" stroke="#333" stroke-width="0.9"/>
<line x1="439.50" y1="120.71" x2="439.50" y2="123.52" stroke="#333" stroke-width="0.9"/>
<line x1="436.80" y1="123.50" x2="441.40" y2="123.50" stroke="#333" stroke-width="0.9"/>
<line x1="457.50" y1="127.41" x2="457.50" y2="124.17" stroke="#333" stroke-width="0.9"/>
<line x1="455.40" y1="124.50" x2="460.00" y2="124.50" stroke="#333" stroke-width="0.9"/>
<line x1="457.50" y1="127.41" x2="457.50" y2="130.65" stroke="#333" stroke-width="0.9"/>
<line x1="455.40" y1="130.50" x2="460.00" y2="130.50" stroke="#333" stroke-width="0.9"/>
<line x1="476.50" y1="132.31" x2="476.50" y2="129.29" stroke="#333" stroke-width="0.9"/>
<line x1="474.00" y1="129.50" x2="478.60" y2="129.50" stroke="#333" stroke-width="0.9"/>
<line x1="476.50" y1="132.31" x2="476.50" y2="135.33" stroke="#333" stroke-width="0.9"/>
<line x1="474.00" y1="135.50" x2="478.60" y2="135.50" stroke="#333" stroke-width="0.9"/>
<line x1="494.50" y1="137.60" x2="494.50" y2="135.01" stroke="#333" stroke-width="0.9"/>
<line x1="492.60" y1="135.50" x2="497.20" y2="135.50" stroke="#333" stroke-width="0.9"/>
<line x1="494.50" y1="137.60" x2="494.50" y2="140.19" stroke="#333" stroke-width="0.9"/>
<line x1="492.60" y1="140.50" x2="497.20" y2="140.50" stroke="#333" stroke-width="0.9"/>
<line x1="513.50" y1="136.00" x2="513.50" y2="132.76" stroke="#333" stroke-width="0.9"/>
<line x1="511.20" y1="132.50" x2="515.80" y2="132.50" stroke="#333" stroke-width="0.9"/>
<line x1="513.50" y1="136.00" x2="513.50" y2="139.24" stroke="#333" stroke-width="0.9"/>
<line x1="511.20" y1="139.50" x2="515.80" y2="139.50" stroke="#333" stroke-width="0.9"/>
<line x1="420.50" y1="125.81" x2="420.50" y2="123.00" stroke="#333" stroke-width="0.9"/>
<line x1="418.20" y1="123.50" x2="422.80" y2="123.50" stroke="#333" stroke-width="0.9"/>
<line x1="420.50" y1="125.81" x2="420.50" y2="128.62" stroke="#333" stroke-width="0.9"/>
<line x1="418.20" y1="128.50" x2="422.80" y2="128.50" stroke="#333" stroke-width="0.9"/>
<line x1="439.50" y1="120.19" x2="439.50" y2="117.82" stroke="#333" stroke-width="0.9"/>
<line x1="436.80" y1="117.50" x2="441.40" y2="117.50" stroke="#333" stroke-width="0.9"/>
<line x1="439.50" y1="120.19" x2="439.50" y2="122.57" stroke="#333" stroke-width="0.9"/>
<line x1="436.80" y1="122.50" x2="441.40" y2="122.50" stroke="#333" stroke-width="0.9"/>
<line x1="457.50" y1="115.51" x2="457.50" y2="112.70" stroke="#333" stroke-width="0.9"/>
<line x1="455.40" y1="112.50" x2="460.00" y2="112.50" stroke="#333" stroke-width="0.9"/>
<line x1="457.50" y1="115.51" x2="457.50" y2="118.31" stroke="#333" stroke-width="0.9"/>
<line x1="455.40" y1="118.50" x2="460.00" y2="118.50" stroke="#333" stroke-width="0.9"/>
<line x1="476.50" y1="118.62" x2="476.50" y2="115.81" stroke="#333" stroke-width="0.9"/>
<line x1="474.00" y1="115.50" x2="478.60" y2="115.50" stroke="#333" stroke-width="0.9"/>
<line x1="476.50" y1="118.62" x2="476.50" y2="121.42" stroke="#333" stroke-width="0.9"/>
<line x1="474.00" y1="121.50" x2="478.60" y2="121.50" stroke="#333" stroke-width="0.9"/>
<line x1="494.50" y1="128.21" x2="494.50" y2="125.40" stroke="#333" stroke-width="0.9"/>
<line x1="492.60" y1="125.50" x2="497.20" y2="125.50" stroke="#333" stroke-width="0.9"/>
<line x1="494.50" y1="128.21" x2="494.50" y2="131.01" stroke="#333" stroke-width="0.9"/>
<line x1="492.60" y1="131.50" x2="497.20" y2="131.50" stroke="#333" stroke-width="0.9"/>
<line x1="513.50" y1="132.89" x2="513.50" y2="130.30" stroke="#333" stroke-width="0.9"/>
<line x1="511.20" y1="130.50" x2="515.80" y2="130.50" stroke="#333" stroke-width="0.9"/>
<line x1="513.50" y1="132.89" x2="513.50" y2="135.49" stroke="#333" stroke-width="0.9"/>
<line x1="511.20" y1="135.50" x2="515.80" y2="135.50" stroke="#333" stroke-width="0.9"/>
<line x1="420.50" y1="114.10" x2="420.50" y2="111.51" stroke="#333" stroke-width="0.9"/>
<line x1="418.20" y1="111.50" x2="422.80" y2="111.50" stroke="#333" stroke-width="0.9"/>
<line x1="420.50" y1="114.10" x2="420.50" y2="116.69" stroke="#333" stroke-width="0.9"/>
<line x1="418.20" y1="116.50" x2="422.80" y2="116.50" stroke="#333" stroke-width="0.9"/>
<line x1="439.50" y1="118.01" x2="439.50" y2="115.64" stroke="#333" stroke-width="0.9"/>
<line x1="436.80" y1="115.50" x2="441.40" y2="115.50" stroke="#333" stroke-width="0.9"/>
<line x1="439.50" y1="118.01" x2="439.50" y2="120.39" stroke="#333" stroke-width="0.9"/>
<line x1="436.80" y1="120.50" x2="441.40" y2="120.50" stroke="#333" stroke-width="0.9"/>
<line x1="457.50" y1="116.00" x2="457.50" y2="113.84" stroke="#333" stroke-width="0.9"/>
<line x1="455.40" y1="113.50" x2="460.00" y2="113.50" stroke="#333" stroke-width="0.9"/>
<line x1="457.50" y1="116.00" x2="457.50" y2="118.16" stroke="#333" stroke-width="0.9"/>
<line x1="455.40" y1="118.50" x2="460.00" y2="118.50" stroke="#333" stroke-width="0.9"/>
<line x1="476.50" y1="120.00" x2="476.50" y2="117.41" stroke="#333" stroke-width="0.9"/>
<line x1="474.00" y1="117.50" x2="478.60" y2="117.50" stroke="#333" stroke-width="0.9"/>
<line x1="476.50" y1="120.00" x2="476.50" y2="122.59" stroke="#333" stroke-width="0.9"/>
<line x1="474.00" y1="122.50" x2="478.60" y2="122.50" stroke="#333" stroke-width="0.9"/>
<line x1="494.50" y1="120.00" x2="494.50" y2="117.19" stroke="#333" stroke-width="0.9"/>
<line x1="492.60" y1="117.50" x2="497.20" y2="117.50" stroke="#333" stroke-width="0.9"/>
<line x1="494.50" y1="120.00" x2="494.50" y2="122.81" stroke="#333" stroke-width="0.9"/>
<line x1="492.60" y1="122.50" x2="497.20" y2="122.50" stroke="#333" stroke-width="0.9"/>
<line x1="513.50" y1="128.21" x2="513.50" y2="125.18" stroke="#333" stroke-width="0.9"/>
<line x1="511.20" y1="125.50" x2="515.80" y2="125.50" stroke="#333" stroke-width="0.9"/>
<line x1="513.50" y1="128.21" x2="513.50" y2="131.23" stroke="#333" stroke-width="0.9"/>
<line x1="511.20" y1="131.50" x2="515.80" y2="131.50" stroke="#333" stroke-width="0.9"/>
<polyline points="420.50,123.15 439.10,129.42 457.70,138.01 476.30,139.70 494.90,141.51 513.50,139.70" fill="none" stroke="#2a2a2a" stroke-width="0.7"/>
<polyline points="420.50,119.00 439.10,120.71 457.70,127.41 476.30,132.31 494.90,137.60 513.50,136.00" fill="none" stroke="#2a2a2a" stroke-width="0.7"/>
<polyline points="420.50,125.81 439.10,120.19 457.70,115.51 476.30,118.62 494.90,128.21 513.50,132.89" fill="none" stroke="#2a2a2a" stroke-width="0.7"/>
<polyline points="420.50,114.10 439.10,118.01 457.70,116.00 476.30,120.00 494.90,120.00 513.50,128.21" fill="none" stroke="#2a2a2a" stroke-width="0.7"/>
<polygon points="418.00,124.21 423.00,124.21 420.50,128.51" fill="#000" stroke="#000" stroke-width="0.85" stroke-linejoin="miter"/>
<polygon points="436.60,118.59 441.60,118.59 439.10,122.89" fill="#000" stroke="#000" stroke-width="0.85" stroke-linejoin="miter"/>
<polygon points="455.20,113.91 460.20,113.91 457.70,118.21" fill="#000" stroke="#000" stroke-width="0.85" stroke-linejoin="miter"/>
<polygon points="473.80,117.02 478.80,117.02 476.30,121.32" fill="#000" stroke="#000" stroke-width="0.85" stroke-linejoin="miter"/>
<polygon points="492.40,126.61 497.40,126.61 494.90,130.91" fill="#000" stroke="#000" stroke-width="0.85" stroke-linejoin="miter"/>
<polygon points="511.00,131.29 516.00,131.29 513.50,135.59" fill="#000" stroke="#000" stroke-width="0.85" stroke-linejoin="miter"/>
<polygon points="418.00,112.50 423.00,112.50 420.50,116.80" fill="#fff" stroke="#000" stroke-width="0.7" stroke-linejoin="miter"/>
<polygon points="436.60,116.41 441.60,116.41 439.10,120.71" fill="#fff" stroke="#000" stroke-width="0.7" stroke-linejoin="miter"/>
<polygon points="455.20,114.40 460.20,114.40 457.70,118.70" fill="#fff" stroke="#000" stroke-width="0.7" stroke-linejoin="miter"/>
<polygon points="473.80,118.40 478.80,118.40 476.30,122.70" fill="#fff" stroke="#000" stroke-width="0.7" stroke-linejoin="miter"/>
<polygon points="492.40,118.40 497.40,118.40 494.90,122.70" fill="#fff" stroke="#000" stroke-width="0.7" stroke-linejoin="miter"/>
<polygon points="511.00,126.61 516.00,126.61 513.50,130.91" fill="#fff" stroke="#000" stroke-width="0.7" stroke-linejoin="miter"/>
<circle cx="420.50" cy="123.15" r="2.30" fill="#000" stroke="#000" stroke-width="0.85"/>
<circle cx="439.10" cy="129.42" r="2.30" fill="#000" stroke="#000" stroke-width="0.85"/>
<circle cx="457.70" cy="138.01" r="2.30" fill="#000" stroke="#000" stroke-width="0.85"/>
<circle cx="476.30" cy="139.70" r="2.30" fill="#000" stroke="#000" stroke-width="0.85"/>
<circle cx="494.90" cy="141.51" r="2.30" fill="#000" stroke="#000" stroke-width="0.85"/>
<circle cx="513.50" cy="139.70" r="2.30" fill="#000" stroke="#000" stroke-width="0.85"/>
<circle cx="420.50" cy="119.00" r="2.30" fill="#fff" stroke="#000" stroke-width="0.7"/>
<circle cx="439.10" cy="120.71" r="2.30" fill="#fff" stroke="#000" stroke-width="0.7"/>
<circle cx="457.70" cy="127.41" r="2.30" fill="#fff" stroke="#000" stroke-width="0.7"/>
<circle cx="476.30" cy="132.31" r="2.30" fill="#fff" stroke="#000" stroke-width="0.7"/>
<circle cx="494.90" cy="137.60" r="2.30" fill="#fff" stroke="#000" stroke-width="0.7"/>
<circle cx="513.50" cy="136.00" r="2.30" fill="#fff" stroke="#000" stroke-width="0.7"/>
<line x1="562.50" y1="122.70" x2="562.50" y2="119.46" stroke="#333" stroke-width="0.9"/>
<line x1="560.54" y1="119.50" x2="565.14" y2="119.50" stroke="#333" stroke-width="0.9"/>
<line x1="562.50" y1="122.70" x2="562.50" y2="125.94" stroke="#333" stroke-width="0.9"/>
<line x1="560.54" y1="125.50" x2="565.14" y2="125.50" stroke="#333" stroke-width="0.9"/>
<line x1="581.50" y1="129.10" x2="581.50" y2="124.99" stroke="#333" stroke-width="0.9"/>
<line x1="579.09" y1="124.50" x2="583.69" y2="124.50" stroke="#333" stroke-width="0.9"/>
<line x1="581.50" y1="129.10" x2="581.50" y2="133.20" stroke="#333" stroke-width="0.9"/>
<line x1="579.09" y1="133.50" x2="583.69" y2="133.50" stroke="#333" stroke-width="0.9"/>
<line x1="599.50" y1="138.00" x2="599.50" y2="133.68" stroke="#333" stroke-width="0.9"/>
<line x1="597.63" y1="133.50" x2="602.23" y2="133.50" stroke="#333" stroke-width="0.9"/>
<line x1="599.50" y1="138.00" x2="599.50" y2="142.32" stroke="#333" stroke-width="0.9"/>
<line x1="597.63" y1="142.50" x2="602.23" y2="142.50" stroke="#333" stroke-width="0.9"/>
<line x1="618.50" y1="139.70" x2="618.50" y2="136.25" stroke="#333" stroke-width="0.9"/>
<line x1="616.17" y1="136.50" x2="620.77" y2="136.50" stroke="#333" stroke-width="0.9"/>
<line x1="618.50" y1="139.70" x2="618.50" y2="143.16" stroke="#333" stroke-width="0.9"/>
<line x1="616.17" y1="143.50" x2="620.77" y2="143.50" stroke="#333" stroke-width="0.9"/>
<line x1="637.50" y1="141.41" x2="637.50" y2="138.17" stroke="#333" stroke-width="0.9"/>
<line x1="634.71" y1="138.50" x2="639.31" y2="138.50" stroke="#333" stroke-width="0.9"/>
<line x1="637.50" y1="141.41" x2="637.50" y2="144.65" stroke="#333" stroke-width="0.9"/>
<line x1="634.71" y1="144.50" x2="639.31" y2="144.50" stroke="#333" stroke-width="0.9"/>
<line x1="655.50" y1="139.70" x2="655.50" y2="135.82" stroke="#333" stroke-width="0.9"/>
<line x1="653.26" y1="135.50" x2="657.86" y2="135.50" stroke="#333" stroke-width="0.9"/>
<line x1="655.50" y1="139.70" x2="655.50" y2="143.59" stroke="#333" stroke-width="0.9"/>
<line x1="653.26" y1="143.50" x2="657.86" y2="143.50" stroke="#333" stroke-width="0.9"/>
<line x1="562.50" y1="118.49" x2="562.50" y2="115.68" stroke="#333" stroke-width="0.9"/>
<line x1="560.54" y1="115.50" x2="565.14" y2="115.50" stroke="#333" stroke-width="0.9"/>
<line x1="562.50" y1="118.49" x2="562.50" y2="121.30" stroke="#333" stroke-width="0.9"/>
<line x1="560.54" y1="121.50" x2="565.14" y2="121.50" stroke="#333" stroke-width="0.9"/>
<line x1="581.50" y1="121.71" x2="581.50" y2="118.47" stroke="#333" stroke-width="0.9"/>
<line x1="579.09" y1="118.50" x2="583.69" y2="118.50" stroke="#333" stroke-width="0.9"/>
<line x1="581.50" y1="121.71" x2="581.50" y2="124.95" stroke="#333" stroke-width="0.9"/>
<line x1="579.09" y1="124.50" x2="583.69" y2="124.50" stroke="#333" stroke-width="0.9"/>
<line x1="599.50" y1="127.39" x2="599.50" y2="123.72" stroke="#333" stroke-width="0.9"/>
<line x1="597.63" y1="123.50" x2="602.23" y2="123.50" stroke="#333" stroke-width="0.9"/>
<line x1="599.50" y1="127.39" x2="599.50" y2="131.06" stroke="#333" stroke-width="0.9"/>
<line x1="597.63" y1="131.50" x2="602.23" y2="131.50" stroke="#333" stroke-width="0.9"/>
<line x1="618.50" y1="131.80" x2="618.50" y2="128.77" stroke="#333" stroke-width="0.9"/>
<line x1="616.17" y1="128.50" x2="620.77" y2="128.50" stroke="#333" stroke-width="0.9"/>
<line x1="618.50" y1="131.80" x2="618.50" y2="134.82" stroke="#333" stroke-width="0.9"/>
<line x1="616.17" y1="134.50" x2="620.77" y2="134.50" stroke="#333" stroke-width="0.9"/>
<line x1="637.50" y1="137.61" x2="637.50" y2="134.80" stroke="#333" stroke-width="0.9"/>
<line x1="634.71" y1="134.50" x2="639.31" y2="134.50" stroke="#333" stroke-width="0.9"/>
<line x1="637.50" y1="137.61" x2="637.50" y2="140.42" stroke="#333" stroke-width="0.9"/>
<line x1="634.71" y1="140.50" x2="639.31" y2="140.50" stroke="#333" stroke-width="0.9"/>
<line x1="655.50" y1="136.10" x2="655.50" y2="132.86" stroke="#333" stroke-width="0.9"/>
<line x1="653.26" y1="132.50" x2="657.86" y2="132.50" stroke="#333" stroke-width="0.9"/>
<line x1="655.50" y1="136.10" x2="655.50" y2="139.34" stroke="#333" stroke-width="0.9"/>
<line x1="653.26" y1="139.50" x2="657.86" y2="139.50" stroke="#333" stroke-width="0.9"/>
<line x1="562.50" y1="115.30" x2="562.50" y2="113.14" stroke="#333" stroke-width="0.9"/>
<line x1="560.54" y1="113.50" x2="565.14" y2="113.50" stroke="#333" stroke-width="0.9"/>
<line x1="562.50" y1="115.30" x2="562.50" y2="117.46" stroke="#333" stroke-width="0.9"/>
<line x1="560.54" y1="117.50" x2="565.14" y2="117.50" stroke="#333" stroke-width="0.9"/>
<line x1="581.50" y1="114.91" x2="581.50" y2="112.75" stroke="#333" stroke-width="0.9"/>
<line x1="579.09" y1="112.50" x2="583.69" y2="112.50" stroke="#333" stroke-width="0.9"/>
<line x1="581.50" y1="114.91" x2="581.50" y2="117.07" stroke="#333" stroke-width="0.9"/>
<line x1="579.09" y1="117.50" x2="583.69" y2="117.50" stroke="#333" stroke-width="0.9"/>
<line x1="599.50" y1="111.10" x2="599.50" y2="108.73" stroke="#333" stroke-width="0.9"/>
<line x1="597.63" y1="108.50" x2="602.23" y2="108.50" stroke="#333" stroke-width="0.9"/>
<line x1="599.50" y1="111.10" x2="599.50" y2="113.48" stroke="#333" stroke-width="0.9"/>
<line x1="597.63" y1="113.50" x2="602.23" y2="113.50" stroke="#333" stroke-width="0.9"/>
<line x1="618.50" y1="113.20" x2="618.50" y2="110.39" stroke="#333" stroke-width="0.9"/>
<line x1="616.17" y1="110.50" x2="620.77" y2="110.50" stroke="#333" stroke-width="0.9"/>
<line x1="618.50" y1="113.20" x2="618.50" y2="116.01" stroke="#333" stroke-width="0.9"/>
<line x1="616.17" y1="116.50" x2="620.77" y2="116.50" stroke="#333" stroke-width="0.9"/>
<line x1="637.50" y1="122.70" x2="637.50" y2="120.33" stroke="#333" stroke-width="0.9"/>
<line x1="634.71" y1="120.50" x2="639.31" y2="120.50" stroke="#333" stroke-width="0.9"/>
<line x1="637.50" y1="122.70" x2="637.50" y2="125.08" stroke="#333" stroke-width="0.9"/>
<line x1="634.71" y1="125.50" x2="639.31" y2="125.50" stroke="#333" stroke-width="0.9"/>
<line x1="655.50" y1="132.29" x2="655.50" y2="129.70" stroke="#333" stroke-width="0.9"/>
<line x1="653.26" y1="129.50" x2="657.86" y2="129.50" stroke="#333" stroke-width="0.9"/>
<line x1="655.50" y1="132.29" x2="655.50" y2="134.89" stroke="#333" stroke-width="0.9"/>
<line x1="653.26" y1="134.50" x2="657.86" y2="134.50" stroke="#333" stroke-width="0.9"/>
<line x1="562.50" y1="90.39" x2="562.50" y2="77.43" stroke="#333" stroke-width="0.9"/>
<line x1="560.54" y1="77.50" x2="565.14" y2="77.50" stroke="#333" stroke-width="0.9"/>
<line x1="562.50" y1="90.39" x2="562.50" y2="103.35" stroke="#333" stroke-width="0.9"/>
<line x1="560.54" y1="103.50" x2="565.14" y2="103.50" stroke="#333" stroke-width="0.9"/>
<line x1="581.50" y1="90.39" x2="581.50" y2="77.00" stroke="#333" stroke-width="0.9"/>
<line x1="579.09" y1="76.50" x2="583.69" y2="76.50" stroke="#333" stroke-width="0.9"/>
<line x1="581.50" y1="90.39" x2="581.50" y2="103.78" stroke="#333" stroke-width="0.9"/>
<line x1="579.09" y1="103.50" x2="583.69" y2="103.50" stroke="#333" stroke-width="0.9"/>
<line x1="599.50" y1="84.00" x2="599.50" y2="67.80" stroke="#333" stroke-width="0.9"/>
<line x1="597.63" y1="67.50" x2="602.23" y2="67.50" stroke="#333" stroke-width="0.9"/>
<line x1="599.50" y1="84.00" x2="599.50" y2="100.20" stroke="#333" stroke-width="0.9"/>
<line x1="597.63" y1="100.50" x2="602.23" y2="100.50" stroke="#333" stroke-width="0.9"/>
<line x1="618.50" y1="89.89" x2="618.50" y2="74.77" stroke="#333" stroke-width="0.9"/>
<line x1="616.17" y1="74.50" x2="620.77" y2="74.50" stroke="#333" stroke-width="0.9"/>
<line x1="618.50" y1="89.89" x2="618.50" y2="105.01" stroke="#333" stroke-width="0.9"/>
<line x1="616.17" y1="105.50" x2="620.77" y2="105.50" stroke="#333" stroke-width="0.9"/>
<line x1="637.50" y1="87.19" x2="637.50" y2="70.35" stroke="#333" stroke-width="0.9"/>
<line x1="634.71" y1="70.50" x2="639.31" y2="70.50" stroke="#333" stroke-width="0.9"/>
<line x1="637.50" y1="87.19" x2="637.50" y2="104.04" stroke="#333" stroke-width="0.9"/>
<line x1="634.71" y1="104.50" x2="639.31" y2="104.50" stroke="#333" stroke-width="0.9"/>
<line x1="655.50" y1="93.09" x2="655.50" y2="75.59" stroke="#333" stroke-width="0.9"/>
<line x1="653.26" y1="75.50" x2="657.86" y2="75.50" stroke="#333" stroke-width="0.9"/>
<line x1="655.50" y1="93.09" x2="655.50" y2="110.59" stroke="#333" stroke-width="0.9"/>
<line x1="653.26" y1="110.50" x2="657.86" y2="110.50" stroke="#333" stroke-width="0.9"/>
<polyline points="562.84,122.70 581.39,129.10 599.93,138.00 618.47,139.70 637.01,141.41 655.56,139.70" fill="none" stroke="#2a2a2a" stroke-width="0.7"/>
<polyline points="562.84,118.49 581.39,121.71 599.93,127.39 618.47,131.80 637.01,137.61 655.56,136.10" fill="none" stroke="#2a2a2a" stroke-width="0.7"/>
<polyline points="562.84,115.30 581.39,114.91 599.93,111.10 618.47,113.20 637.01,122.70 655.56,132.29" fill="none" stroke="#2a2a2a" stroke-width="0.7"/>
<polyline points="562.84,90.39 581.39,90.39 599.93,84.00 618.47,89.89 637.01,87.19 655.56,93.09" fill="none" stroke="#2a2a2a" stroke-width="0.7"/>
<rect x="560.74" y="113.20" width="4.20" height="4.20" fill="#000" stroke="#000" stroke-width="0.85"/>
<rect x="579.29" y="112.81" width="4.20" height="4.20" fill="#000" stroke="#000" stroke-width="0.85"/>
<rect x="597.83" y="109.00" width="4.20" height="4.20" fill="#000" stroke="#000" stroke-width="0.85"/>
<rect x="616.37" y="111.10" width="4.20" height="4.20" fill="#000" stroke="#000" stroke-width="0.85"/>
<rect x="634.91" y="120.60" width="4.20" height="4.20" fill="#000" stroke="#000" stroke-width="0.85"/>
<rect x="653.46" y="130.19" width="4.20" height="4.20" fill="#000" stroke="#000" stroke-width="0.85"/>
<rect x="560.49" y="88.04" width="4.70" height="4.70" fill="#fff" stroke="#000" stroke-width="0.7"/>
<rect x="579.03" y="88.04" width="4.70" height="4.70" fill="#fff" stroke="#000" stroke-width="0.7"/>
<rect x="597.58" y="81.64" width="4.70" height="4.70" fill="#fff" stroke="#000" stroke-width="0.7"/>
<rect x="616.12" y="87.54" width="4.70" height="4.70" fill="#fff" stroke="#000" stroke-width="0.7"/>
<rect x="634.66" y="84.84" width="4.70" height="4.70" fill="#fff" stroke="#000" stroke-width="0.7"/>
<rect x="653.21" y="90.74" width="4.70" height="4.70" fill="#fff" stroke="#000" stroke-width="0.7"/>
<circle cx="562.84" cy="122.70" r="2.30" fill="#000" stroke="#000" stroke-width="0.85"/>
<circle cx="581.39" cy="129.10" r="2.30" fill="#000" stroke="#000" stroke-width="0.85"/>
<circle cx="599.93" cy="138.00" r="2.30" fill="#000" stroke="#000" stroke-width="0.85"/>
<circle cx="618.47" cy="139.70" r="2.30" fill="#000" stroke="#000" stroke-width="0.85"/>
<circle cx="637.01" cy="141.41" r="2.30" fill="#000" stroke="#000" stroke-width="0.85"/>
<circle cx="655.56" cy="139.70" r="2.30" fill="#000" stroke="#000" stroke-width="0.85"/>
<circle cx="562.84" cy="118.49" r="2.30" fill="#fff" stroke="#000" stroke-width="0.7"/>
<circle cx="581.39" cy="121.71" r="2.30" fill="#fff" stroke="#000" stroke-width="0.7"/>
<circle cx="599.93" cy="127.39" r="2.30" fill="#fff" stroke="#000" stroke-width="0.7"/>
<circle cx="618.47" cy="131.80" r="2.30" fill="#fff" stroke="#000" stroke-width="0.7"/>
<circle cx="637.01" cy="137.61" r="2.30" fill="#fff" stroke="#000" stroke-width="0.7"/>
<circle cx="655.56" cy="136.10" r="2.30" fill="#fff" stroke="#000" stroke-width="0.7"/>
<text transform="translate(1.75 189.85) scale(1.03 1)" font-size="21.6" fill="#000">C</text>
<circle cx="11.7" cy="213.4" r="8.1" fill="none" stroke="#000" stroke-width="2.0"/>
<line x1="17.47" y1="207.71" x2="25.23" y2="200.06" stroke="#000" stroke-width="2.0"/>
<polyline points="18.50,199.50 25.80,199.50 25.80,206.80" fill="none" stroke="#000" stroke-width="2.0" stroke-linecap="butt" stroke-linejoin="miter"/>
<circle cx="40.00" cy="196.00" r="1.79" fill="#000" stroke="#000" stroke-width="0.85"/>
<text x="49.80" y="198.38" font-size="6.6" text-anchor="start" font-weight="normal" fill="#1e1e1e" stroke="#1e1e1e" stroke-width="0.12">WT Veh</text>
<polygon points="38.05,204.95 41.95,204.95 40.00,208.31" fill="#000" stroke="#000" stroke-width="0.85" stroke-linejoin="miter"/>
<text x="49.80" y="208.58" font-size="6.6" text-anchor="start" font-weight="normal" fill="#1e1e1e" stroke="#1e1e1e" stroke-width="0.12">WT Hal, 0.1mg/kg</text>
<rect x="38.36" y="214.76" width="3.28" height="3.28" fill="#000" stroke="#000" stroke-width="0.85"/>
<text x="49.80" y="218.78" font-size="6.6" text-anchor="start" font-weight="normal" fill="#1e1e1e" stroke="#1e1e1e" stroke-width="0.12">WT Hal, 0.25mg/kg</text>
<polygon points="38.05,227.85 41.95,227.85 40.00,224.49" fill="#000" stroke="#000" stroke-width="0.85" stroke-linejoin="miter"/>
<text x="49.80" y="228.98" font-size="6.6" text-anchor="start" font-weight="normal" fill="#1e1e1e" stroke="#1e1e1e" stroke-width="0.12">WT Hal, 0.5mg/kg</text>
<circle cx="161.60" cy="196.00" r="2.42" fill="#fff" stroke="#000" stroke-width="0.7"/>
<text x="171.60" y="198.38" font-size="6.6" text-anchor="start" font-weight="normal" fill="#1e1e1e" stroke="#1e1e1e" stroke-width="0.12">KO Veh</text>
<polygon points="158.97,204.52 164.22,204.52 161.60,209.03" fill="#fff" stroke="#000" stroke-width="0.7" stroke-linejoin="miter"/>
<text x="171.60" y="208.58" font-size="6.6" text-anchor="start" font-weight="normal" fill="#1e1e1e" stroke="#1e1e1e" stroke-width="0.12">KO Hal, 0.1mg/kg</text>
<rect x="159.39" y="214.19" width="4.41" height="4.41" fill="#fff" stroke="#000" stroke-width="0.7"/>
<text x="171.60" y="218.78" font-size="6.6" text-anchor="start" font-weight="normal" fill="#1e1e1e" stroke="#1e1e1e" stroke-width="0.12">KO Hal, 0.25mg/kg</text>
<polygon points="158.97,228.28 164.22,228.28 161.60,223.76" fill="#fff" stroke="#000" stroke-width="0.7" stroke-linejoin="miter"/>
<text x="171.60" y="228.98" font-size="6.6" text-anchor="start" font-weight="normal" fill="#1e1e1e" stroke="#1e1e1e" stroke-width="0.12">KO Hal, 0.5mg/kg</text>
<line x1="23.50" y1="329.10" x2="23.50" y2="244.60" stroke="#5a5a5a" stroke-width="0.9"/>
<line x1="21.00" y1="329.50" x2="23.40" y2="329.50" stroke="#5a5a5a" stroke-width="0.9"/>
<text x="20.40" y="332.00" font-size="6.3" text-anchor="end" font-weight="normal" fill="#2a2a2a" stroke="#2a2a2a" stroke-width="0.15">0</text>
<line x1="21.00" y1="315.50" x2="23.40" y2="315.50" stroke="#5a5a5a" stroke-width="0.9"/>
<text x="20.40" y="318.00" font-size="6.3" text-anchor="end" font-weight="normal" fill="#2a2a2a" stroke="#2a2a2a" stroke-width="0.15">50</text>
<line x1="21.00" y1="300.50" x2="23.40" y2="300.50" stroke="#5a5a5a" stroke-width="0.9"/>
<text x="20.40" y="303.00" font-size="6.3" text-anchor="end" font-weight="normal" fill="#2a2a2a" stroke="#2a2a2a" stroke-width="0.15">100</text>
<line x1="21.00" y1="286.50" x2="23.40" y2="286.50" stroke="#5a5a5a" stroke-width="0.9"/>
<text x="20.40" y="289.00" font-size="6.3" text-anchor="end" font-weight="normal" fill="#2a2a2a" stroke="#2a2a2a" stroke-width="0.15">150</text>
<line x1="21.00" y1="272.50" x2="23.40" y2="272.50" stroke="#5a5a5a" stroke-width="0.9"/>
<text x="20.40" y="275.00" font-size="6.3" text-anchor="end" font-weight="normal" fill="#2a2a2a" stroke="#2a2a2a" stroke-width="0.15">200</text>
<line x1="21.00" y1="258.50" x2="23.40" y2="258.50" stroke="#5a5a5a" stroke-width="0.9"/>
<text x="20.40" y="261.00" font-size="6.3" text-anchor="end" font-weight="normal" fill="#2a2a2a" stroke="#2a2a2a" stroke-width="0.15">250</text>
<line x1="21.00" y1="244.50" x2="23.40" y2="244.50" stroke="#5a5a5a" stroke-width="0.9"/>
<text x="20.40" y="247.00" font-size="6.3" text-anchor="end" font-weight="normal" fill="#2a2a2a" stroke="#2a2a2a" stroke-width="0.15">300</text>
<line x1="22.40" y1="322.50" x2="23.40" y2="322.50" stroke="#5a5a5a" stroke-width="0.8"/>
<line x1="22.40" y1="307.50" x2="23.40" y2="307.50" stroke="#5a5a5a" stroke-width="0.8"/>
<line x1="22.40" y1="293.50" x2="23.40" y2="293.50" stroke="#5a5a5a" stroke-width="0.8"/>
<line x1="22.40" y1="279.50" x2="23.40" y2="279.50" stroke="#5a5a5a" stroke-width="0.8"/>
<line x1="22.40" y1="265.50" x2="23.40" y2="265.50" stroke="#5a5a5a" stroke-width="0.8"/>
<line x1="22.40" y1="251.50" x2="23.40" y2="251.50" stroke="#5a5a5a" stroke-width="0.8"/>
<line x1="21.20" y1="329.50" x2="125.50" y2="329.50" stroke="#5a5a5a" stroke-width="0.9"/>
<line x1="31.50" y1="329.10" x2="31.50" y2="330.90" stroke="#5a5a5a" stroke-width="0.8"/>
<line x1="73.50" y1="329.10" x2="73.50" y2="330.90" stroke="#5a5a5a" stroke-width="0.8"/>
<line x1="115.50" y1="329.10" x2="115.50" y2="330.90" stroke="#5a5a5a" stroke-width="0.8"/>
<line x1="138.50" y1="328.50" x2="138.50" y2="330.30" stroke="#5a5a5a" stroke-width="0.8"/>
<line x1="181.50" y1="328.50" x2="181.50" y2="330.30" stroke="#5a5a5a" stroke-width="0.8"/>
<line x1="223.50" y1="328.50" x2="223.50" y2="330.30" stroke="#5a5a5a" stroke-width="0.8"/>
<line x1="243.50" y1="328.30" x2="243.50" y2="330.10" stroke="#5a5a5a" stroke-width="0.8"/>
<line x1="285.50" y1="328.30" x2="285.50" y2="330.10" stroke="#5a5a5a" stroke-width="0.8"/>
<line x1="327.50" y1="328.30" x2="327.50" y2="330.10" stroke="#5a5a5a" stroke-width="0.8"/>
<line x1="131.90" y1="328.50" x2="230.50" y2="328.50" stroke="#5a5a5a" stroke-width="0.9"/>
<line x1="236.90" y1="328.50" x2="335.50" y2="328.50" stroke="#5a5a5a" stroke-width="0.9"/>
<text x="32.00" y="339.00" font-size="6.3" text-anchor="middle" font-weight="normal" fill="#2a2a2a" stroke="#2a2a2a" stroke-width="0.15">30</text>
<text x="76.50" y="339.00" font-size="6.3" text-anchor="middle" font-weight="normal" fill="#2a2a2a" stroke="#2a2a2a" stroke-width="0.15">60</text>
<text x="120.90" y="339.00" font-size="6.3" text-anchor="middle" font-weight="normal" fill="#2a2a2a" stroke="#2a2a2a" stroke-width="0.15">120</text>
<text x="138.80" y="337.00" font-size="6.3" text-anchor="middle" font-weight="normal" fill="#2a2a2a" stroke="#2a2a2a" stroke-width="0.15">30</text>
<text x="180.60" y="337.00" font-size="6.3" text-anchor="middle" font-weight="normal" fill="#2a2a2a" stroke="#2a2a2a" stroke-width="0.15">60</text>
<text x="222.80" y="337.00" font-size="6.3" text-anchor="middle" font-weight="normal" fill="#2a2a2a" stroke="#2a2a2a" stroke-width="0.15">120</text>
<text x="243.80" y="337.00" font-size="6.3" text-anchor="middle" font-weight="normal" fill="#2a2a2a" stroke="#2a2a2a" stroke-width="0.15">30</text>
<text x="285.30" y="337.00" font-size="6.3" text-anchor="middle" font-weight="normal" fill="#2a2a2a" stroke="#2a2a2a" stroke-width="0.15">60</text>
<text x="327.80" y="337.00" font-size="6.3" text-anchor="middle" font-weight="normal" fill="#2a2a2a" stroke="#2a2a2a" stroke-width="0.15">120</text>
<text transform="translate(3.60 287.00) rotate(-90) scale(1 0.9)" font-size="6.95" text-anchor="middle" font-weight="bold" fill="#1e1e1e" stroke="#1e1e1e" stroke-width="0.1" dominant-baseline="central">Catalepsy (sec)</text>
<text x="73.30" y="346.80" font-size="7.2" text-anchor="middle" font-weight="bold" fill="#1e1e1e">time (min)</text>
<text x="181.00" y="346.80" font-size="7.2" text-anchor="middle" font-weight="bold" fill="#1e1e1e">time (min)</text>
<text x="285.60" y="346.80" font-size="7.2" text-anchor="middle" font-weight="bold" fill="#1e1e1e">time (min)</text>
<line x1="31.50" y1="327.13" x2="31.50" y2="326.28" stroke="#333" stroke-width="0.9"/>
<line x1="29.30" y1="326.50" x2="33.90" y2="326.50" stroke="#333" stroke-width="0.9"/>
<line x1="31.50" y1="327.13" x2="31.50" y2="327.97" stroke="#333" stroke-width="0.9"/>
<line x1="29.30" y1="327.50" x2="33.90" y2="327.50" stroke="#333" stroke-width="0.9"/>
<line x1="31.50" y1="326.85" x2="31.50" y2="325.72" stroke="#333" stroke-width="0.9"/>
<line x1="29.30" y1="325.50" x2="33.90" y2="325.50" stroke="#333" stroke-width="0.9"/>
<line x1="31.50" y1="326.85" x2="31.50" y2="327.97" stroke="#333" stroke-width="0.9"/>
<line x1="29.30" y1="327.50" x2="33.90" y2="327.50" stroke="#333" stroke-width="0.9"/>
<line x1="73.50" y1="323.75" x2="73.50" y2="322.62" stroke="#333" stroke-width="0.9"/>
<line x1="71.40" y1="322.50" x2="76.00" y2="322.50" stroke="#333" stroke-width="0.9"/>
<line x1="73.50" y1="323.75" x2="73.50" y2="324.88" stroke="#333" stroke-width="0.9"/>
<line x1="71.40" y1="324.50" x2="76.00" y2="324.50" stroke="#333" stroke-width="0.9"/>
<line x1="115.50" y1="303.89" x2="115.50" y2="299.38" stroke="#333" stroke-width="0.9"/>
<line x1="113.30" y1="299.50" x2="117.90" y2="299.50" stroke="#333" stroke-width="0.9"/>
<line x1="115.50" y1="303.89" x2="115.50" y2="308.40" stroke="#333" stroke-width="0.9"/>
<line x1="113.30" y1="308.50" x2="117.90" y2="308.50" stroke="#333" stroke-width="0.9"/>
<line x1="31.50" y1="315.86" x2="31.50" y2="309.38" stroke="#333" stroke-width="0.9"/>
<line x1="29.30" y1="309.50" x2="33.90" y2="309.50" stroke="#333" stroke-width="0.9"/>
<line x1="31.50" y1="315.86" x2="31.50" y2="322.34" stroke="#333" stroke-width="0.9"/>
<line x1="29.30" y1="322.50" x2="33.90" y2="322.50" stroke="#333" stroke-width="0.9"/>
<line x1="73.50" y1="310.79" x2="73.50" y2="304.03" stroke="#333" stroke-width="0.9"/>
<line x1="71.40" y1="304.50" x2="76.00" y2="304.50" stroke="#333" stroke-width="0.9"/>
<line x1="73.50" y1="310.79" x2="73.50" y2="317.55" stroke="#333" stroke-width="0.9"/>
<line x1="71.40" y1="317.50" x2="76.00" y2="317.50" stroke="#333" stroke-width="0.9"/>
<line x1="115.50" y1="306.00" x2="115.50" y2="293.61" stroke="#333" stroke-width="0.9"/>
<line x1="113.30" y1="293.50" x2="117.90" y2="293.50" stroke="#333" stroke-width="0.9"/>
<line x1="115.50" y1="306.00" x2="115.50" y2="315.58" stroke="#333" stroke-width="0.9"/>
<line x1="113.30" y1="315.50" x2="117.90" y2="315.50" stroke="#333" stroke-width="0.9"/>
<polyline points="31.60,327.13 73.70,327.69 115.60,327.69" fill="none" stroke="#555" stroke-width="0.7"/>
<polyline points="31.60,326.85 73.70,323.75 115.60,303.89" fill="none" stroke="#2a2a2a" stroke-width="0.7"/>
<polyline points="31.60,315.86 73.70,310.79 115.60,306.00" fill="none" stroke="#2a2a2a" stroke-width="0.7"/>
<polyline points="31.60,327.69 73.70,327.69 115.60,327.69" fill="none" stroke="#666" stroke-width="0.7"/>
<circle cx="31.60" cy="327.13" r="2.18" fill="#000" stroke="#000" stroke-width="0.85"/>
<circle cx="73.70" cy="327.69" r="2.18" fill="#000" stroke="#000" stroke-width="0.85"/>
<circle cx="115.60" cy="327.69" r="2.18" fill="#000" stroke="#000" stroke-width="0.85"/>
<polygon points="29.10,325.25 34.10,325.25 31.60,329.55" fill="#000" stroke="#000" stroke-width="0.85" stroke-linejoin="miter"/>
<polygon points="71.20,322.15 76.20,322.15 73.70,326.45" fill="#000" stroke="#000" stroke-width="0.85" stroke-linejoin="miter"/>
<polygon points="113.10,302.29 118.10,302.29 115.60,306.59" fill="#000" stroke="#000" stroke-width="0.85" stroke-linejoin="miter"/>
<polygon points="29.10,314.26 34.10,314.26 31.60,318.56" fill="#fff" stroke="#000" stroke-width="0.7" stroke-linejoin="miter"/>
<polygon points="71.20,309.19 76.20,309.19 73.70,313.49" fill="#fff" stroke="#000" stroke-width="0.7" stroke-linejoin="miter"/>
<polygon points="113.10,304.40 118.10,304.40 115.60,308.70" fill="#fff" stroke="#000" stroke-width="0.7" stroke-linejoin="miter"/>
<circle cx="31.60" cy="327.69" r="2.30" fill="#fff" stroke="#333" stroke-width="0.7"/>
<circle cx="73.70" cy="327.69" r="2.30" fill="#fff" stroke="#333" stroke-width="0.7"/>
<circle cx="115.60" cy="327.69" r="2.30" fill="#fff" stroke="#333" stroke-width="0.7"/>
<line x1="138.50" y1="307.66" x2="138.50" y2="297.80" stroke="#333" stroke-width="0.9"/>
<line x1="136.50" y1="297.50" x2="141.10" y2="297.50" stroke="#333" stroke-width="0.9"/>
<line x1="138.50" y1="307.66" x2="138.50" y2="317.51" stroke="#333" stroke-width="0.9"/>
<line x1="136.50" y1="317.50" x2="141.10" y2="317.50" stroke="#333" stroke-width="0.9"/>
<line x1="181.50" y1="271.88" x2="181.50" y2="263.44" stroke="#333" stroke-width="0.9"/>
<line x1="178.70" y1="263.50" x2="183.30" y2="263.50" stroke="#333" stroke-width="0.9"/>
<line x1="181.50" y1="271.88" x2="181.50" y2="280.33" stroke="#333" stroke-width="0.9"/>
<line x1="178.70" y1="280.50" x2="183.30" y2="280.50" stroke="#333" stroke-width="0.9"/>
<line x1="223.50" y1="270.48" x2="223.50" y2="264.84" stroke="#333" stroke-width="0.9"/>
<line x1="220.70" y1="264.50" x2="225.30" y2="264.50" stroke="#333" stroke-width="0.9"/>
<line x1="223.50" y1="270.48" x2="223.50" y2="276.11" stroke="#333" stroke-width="0.9"/>
<line x1="220.70" y1="276.50" x2="225.30" y2="276.50" stroke="#333" stroke-width="0.9"/>
<line x1="138.50" y1="261.18" x2="138.50" y2="253.58" stroke="#333" stroke-width="0.9"/>
<line x1="136.50" y1="253.50" x2="141.10" y2="253.50" stroke="#333" stroke-width="0.9"/>
<line x1="138.50" y1="261.18" x2="138.50" y2="268.79" stroke="#333" stroke-width="0.9"/>
<line x1="136.50" y1="268.50" x2="141.10" y2="268.50" stroke="#333" stroke-width="0.9"/>
<line x1="181.50" y1="258.93" x2="181.50" y2="249.91" stroke="#333" stroke-width="0.9"/>
<line x1="178.70" y1="249.50" x2="183.30" y2="249.50" stroke="#333" stroke-width="0.9"/>
<line x1="181.50" y1="258.93" x2="181.50" y2="267.94" stroke="#333" stroke-width="0.9"/>
<line x1="178.70" y1="267.50" x2="183.30" y2="267.50" stroke="#333" stroke-width="0.9"/>
<line x1="223.50" y1="264.28" x2="223.50" y2="255.83" stroke="#333" stroke-width="0.9"/>
<line x1="220.70" y1="255.50" x2="225.30" y2="255.50" stroke="#333" stroke-width="0.9"/>
<line x1="223.50" y1="264.28" x2="223.50" y2="272.73" stroke="#333" stroke-width="0.9"/>
<line x1="220.70" y1="272.50" x2="225.30" y2="272.50" stroke="#333" stroke-width="0.9"/>
<polyline points="138.80,326.25 181.00,326.81 223.00,326.81" fill="none" stroke="#555" stroke-width="0.7"/>
<polyline points="138.80,307.66 181.00,271.88 223.00,270.48" fill="none" stroke="#2a2a2a" stroke-width="0.7"/>
<polyline points="138.80,261.18 181.00,258.93 223.00,264.28" fill="none" stroke="#2a2a2a" stroke-width="0.7"/>
<polyline points="138.80,326.81 181.00,326.81 223.00,326.81" fill="none" stroke="#666" stroke-width="0.7"/>
<circle cx="138.80" cy="326.25" r="2.18" fill="#000" stroke="#000" stroke-width="0.85"/>
<circle cx="181.00" cy="326.81" r="2.18" fill="#000" stroke="#000" stroke-width="0.85"/>
<circle cx="223.00" cy="326.81" r="2.18" fill="#000" stroke="#000" stroke-width="0.85"/>
<rect x="136.70" y="305.56" width="4.20" height="4.20" fill="#000" stroke="#000" stroke-width="0.85"/>
<rect x="178.90" y="269.78" width="4.20" height="4.20" fill="#000" stroke="#000" stroke-width="0.85"/>
<rect x="220.90" y="268.38" width="4.20" height="4.20" fill="#000" stroke="#000" stroke-width="0.85"/>
<circle cx="138.80" cy="261.18" r="2.53" fill="#fff" stroke="#000" stroke-width="0.7"/>
<rect x="178.69" y="256.62" width="4.62" height="4.62" fill="#fff" stroke="#000" stroke-width="0.7"/>
<rect x="220.69" y="261.97" width="4.62" height="4.62" fill="#fff" stroke="#000" stroke-width="0.7"/>
<circle cx="138.80" cy="326.81" r="2.30" fill="#fff" stroke="#333" stroke-width="0.7"/>
<circle cx="181.00" cy="326.81" r="2.30" fill="#fff" stroke="#333" stroke-width="0.7"/>
<circle cx="223.00" cy="326.81" r="2.30" fill="#fff" stroke="#333" stroke-width="0.7"/>
<text x="136.60" y="253.10" font-size="8.6" text-anchor="middle" font-weight="bold" fill="#222">*</text>
<text x="141.00" y="253.10" font-size="8.6" text-anchor="middle" font-weight="bold" fill="#222">*</text>
<line x1="243.50" y1="311.12" x2="243.50" y2="304.36" stroke="#333" stroke-width="0.9"/>
<line x1="241.10" y1="304.50" x2="245.70" y2="304.50" stroke="#333" stroke-width="0.9"/>
<line x1="243.50" y1="311.12" x2="243.50" y2="317.88" stroke="#333" stroke-width="0.9"/>
<line x1="241.10" y1="317.50" x2="245.70" y2="317.50" stroke="#333" stroke-width="0.9"/>
<line x1="285.50" y1="290.56" x2="285.50" y2="283.51" stroke="#333" stroke-width="0.9"/>
<line x1="283.30" y1="283.50" x2="287.90" y2="283.50" stroke="#333" stroke-width="0.9"/>
<line x1="285.50" y1="290.56" x2="285.50" y2="297.60" stroke="#333" stroke-width="0.9"/>
<line x1="283.30" y1="297.50" x2="287.90" y2="297.50" stroke="#333" stroke-width="0.9"/>
<line x1="327.50" y1="290.56" x2="327.50" y2="281.54" stroke="#333" stroke-width="0.9"/>
<line x1="325.30" y1="281.50" x2="329.90" y2="281.50" stroke="#333" stroke-width="0.9"/>
<line x1="327.50" y1="290.56" x2="327.50" y2="299.57" stroke="#333" stroke-width="0.9"/>
<line x1="325.30" y1="299.50" x2="329.90" y2="299.50" stroke="#333" stroke-width="0.9"/>
<line x1="243.50" y1="271.12" x2="243.50" y2="264.93" stroke="#333" stroke-width="0.9"/>
<line x1="241.10" y1="264.50" x2="245.70" y2="264.50" stroke="#333" stroke-width="0.9"/>
<line x1="243.50" y1="271.12" x2="243.50" y2="277.32" stroke="#333" stroke-width="0.9"/>
<line x1="241.10" y1="277.50" x2="245.70" y2="277.50" stroke="#333" stroke-width="0.9"/>
<line x1="285.50" y1="273.66" x2="285.50" y2="268.02" stroke="#333" stroke-width="0.9"/>
<line x1="283.30" y1="268.50" x2="287.90" y2="268.50" stroke="#333" stroke-width="0.9"/>
<line x1="285.50" y1="273.66" x2="285.50" y2="279.29" stroke="#333" stroke-width="0.9"/>
<line x1="283.30" y1="279.50" x2="287.90" y2="279.50" stroke="#333" stroke-width="0.9"/>
<line x1="327.50" y1="257.32" x2="327.50" y2="253.66" stroke="#333" stroke-width="0.9"/>
<line x1="325.30" y1="253.50" x2="329.90" y2="253.50" stroke="#333" stroke-width="0.9"/>
<line x1="327.50" y1="257.32" x2="327.50" y2="260.98" stroke="#333" stroke-width="0.9"/>
<line x1="325.30" y1="260.50" x2="329.90" y2="260.50" stroke="#333" stroke-width="0.9"/>
<polyline points="243.40,326.05 285.60,326.61 327.60,326.61" fill="none" stroke="#555" stroke-width="0.7"/>
<polyline points="243.40,311.12 285.60,290.56 327.60,290.56" fill="none" stroke="#2a2a2a" stroke-width="0.7"/>
<polyline points="243.40,271.12 285.60,273.66 327.60,257.32" fill="none" stroke="#2a2a2a" stroke-width="0.7"/>
<polyline points="243.40,326.61 285.60,326.61 327.60,326.61" fill="none" stroke="#666" stroke-width="0.7"/>
<circle cx="243.40" cy="326.05" r="2.18" fill="#000" stroke="#000" stroke-width="0.85"/>
<circle cx="285.60" cy="326.61" r="2.18" fill="#000" stroke="#000" stroke-width="0.85"/>
<circle cx="327.60" cy="326.61" r="2.18" fill="#000" stroke="#000" stroke-width="0.85"/>
<polygon points="241.15,312.56 245.65,312.56 243.40,308.69" fill="#000" stroke="#000" stroke-width="0.85" stroke-linejoin="miter"/>
<polygon points="283.35,292.00 287.85,292.00 285.60,288.13" fill="#000" stroke="#000" stroke-width="0.85" stroke-linejoin="miter"/>
<polygon points="325.35,292.00 329.85,292.00 327.60,288.13" fill="#000" stroke="#000" stroke-width="0.85" stroke-linejoin="miter"/>
<polygon points="240.90,272.72 245.90,272.72 243.40,268.42" fill="#fff" stroke="#000" stroke-width="0.7" stroke-linejoin="miter"/>
<polygon points="283.10,275.26 288.10,275.26 285.60,270.96" fill="#fff" stroke="#000" stroke-width="0.7" stroke-linejoin="miter"/>
<polygon points="325.10,258.92 330.10,258.92 327.60,254.62" fill="#fff" stroke="#000" stroke-width="0.7" stroke-linejoin="miter"/>
<circle cx="243.40" cy="326.61" r="2.30" fill="#fff" stroke="#333" stroke-width="0.7"/>
<circle cx="285.60" cy="326.61" r="2.30" fill="#fff" stroke="#333" stroke-width="0.7"/>
<circle cx="327.60" cy="326.61" r="2.30" fill="#fff" stroke="#333" stroke-width="0.7"/>
<text x="242.20" y="265.60" font-size="8.6" text-anchor="middle" font-weight="bold" fill="#222">*</text>
<text x="246.60" y="265.60" font-size="8.6" text-anchor="middle" font-weight="bold" fill="#222">*</text>
<text x="325.40" y="253.10" font-size="8.6" text-anchor="middle" font-weight="bold" fill="#222">*</text>
<text x="329.80" y="253.10" font-size="8.6" text-anchor="middle" font-weight="bold" fill="#222">*</text>
<text transform="translate(353.10 189.50) scale(1.03 1)" font-size="21.6" fill="#000">D</text>
<circle cx="363.1" cy="208.4" r="8.4" fill="none" stroke="#000" stroke-width="1.7"/>
<line x1="363.1" y1="216.8" x2="363.1" y2="230.9" stroke="#000" stroke-width="1.7"/>
<line x1="358.3" y1="223.5" x2="367.90000000000003" y2="223.5" stroke="#000" stroke-width="1.7"/>
<circle cx="388.40" cy="196.00" r="1.79" fill="#000" stroke="#000" stroke-width="0.85"/>
<text x="398.20" y="198.38" font-size="6.6" text-anchor="start" font-weight="normal" fill="#1e1e1e" stroke="#1e1e1e" stroke-width="0.12">WT Veh</text>
<polygon points="386.45,204.85 390.35,204.85 388.40,208.21" fill="#000" stroke="#000" stroke-width="0.85" stroke-linejoin="miter"/>
<text x="398.20" y="208.48" font-size="6.6" text-anchor="start" font-weight="normal" fill="#1e1e1e" stroke="#1e1e1e" stroke-width="0.12">WT Hal, 0.1mg/kg</text>
<rect x="386.76" y="214.56" width="3.28" height="3.28" fill="#000" stroke="#000" stroke-width="0.85"/>
<text x="398.20" y="218.58" font-size="6.6" text-anchor="start" font-weight="normal" fill="#1e1e1e" stroke="#1e1e1e" stroke-width="0.12">WT Hal, 0.25mg/kg</text>
<polygon points="386.45,227.55 390.35,227.55 388.40,224.19" fill="#000" stroke="#000" stroke-width="0.85" stroke-linejoin="miter"/>
<text x="398.20" y="228.68" font-size="6.6" text-anchor="start" font-weight="normal" fill="#1e1e1e" stroke="#1e1e1e" stroke-width="0.12">WT Hal, 0.5mg/kg</text>
<circle cx="506.50" cy="196.00" r="2.42" fill="#fff" stroke="#000" stroke-width="0.7"/>
<text x="517.00" y="198.38" font-size="6.6" text-anchor="start" font-weight="normal" fill="#1e1e1e" stroke="#1e1e1e" stroke-width="0.12">KO Veh</text>
<polygon points="503.88,204.42 509.12,204.42 506.50,208.94" fill="#fff" stroke="#000" stroke-width="0.7" stroke-linejoin="miter"/>
<text x="517.00" y="208.48" font-size="6.6" text-anchor="start" font-weight="normal" fill="#1e1e1e" stroke="#1e1e1e" stroke-width="0.12">KO Hal, 0.1mg/kg</text>
<rect x="504.30" y="213.99" width="4.41" height="4.41" fill="#fff" stroke="#000" stroke-width="0.7"/>
<text x="517.00" y="218.58" font-size="6.6" text-anchor="start" font-weight="normal" fill="#1e1e1e" stroke="#1e1e1e" stroke-width="0.12">KO Hal, 0.25mg/kg</text>
<polygon points="503.88,227.98 509.12,227.98 506.50,223.47" fill="#fff" stroke="#000" stroke-width="0.7" stroke-linejoin="miter"/>
<text x="517.00" y="228.68" font-size="6.6" text-anchor="start" font-weight="normal" fill="#1e1e1e" stroke="#1e1e1e" stroke-width="0.12">KO Hal, 0.5mg/kg</text>
<line x1="371.50" y1="328.30" x2="371.50" y2="244.40" stroke="#5a5a5a" stroke-width="0.9"/>
<line x1="369.40" y1="328.50" x2="371.80" y2="328.50" stroke="#5a5a5a" stroke-width="0.9"/>
<text x="368.80" y="331.00" font-size="6.3" text-anchor="end" font-weight="normal" fill="#2a2a2a" stroke="#2a2a2a" stroke-width="0.15">0</text>
<line x1="369.40" y1="314.50" x2="371.80" y2="314.50" stroke="#5a5a5a" stroke-width="0.9"/>
<text x="368.80" y="317.00" font-size="6.3" text-anchor="end" font-weight="normal" fill="#2a2a2a" stroke="#2a2a2a" stroke-width="0.15">50</text>
<line x1="369.40" y1="300.50" x2="371.80" y2="300.50" stroke="#5a5a5a" stroke-width="0.9"/>
<text x="368.80" y="303.00" font-size="6.3" text-anchor="end" font-weight="normal" fill="#2a2a2a" stroke="#2a2a2a" stroke-width="0.15">100</text>
<line x1="369.40" y1="286.50" x2="371.80" y2="286.50" stroke="#5a5a5a" stroke-width="0.9"/>
<text x="368.80" y="289.00" font-size="6.3" text-anchor="end" font-weight="normal" fill="#2a2a2a" stroke="#2a2a2a" stroke-width="0.15">150</text>
<line x1="369.40" y1="272.50" x2="371.80" y2="272.50" stroke="#5a5a5a" stroke-width="0.9"/>
<text x="368.80" y="275.00" font-size="6.3" text-anchor="end" font-weight="normal" fill="#2a2a2a" stroke="#2a2a2a" stroke-width="0.15">200</text>
<line x1="369.40" y1="258.50" x2="371.80" y2="258.50" stroke="#5a5a5a" stroke-width="0.9"/>
<text x="368.80" y="261.00" font-size="6.3" text-anchor="end" font-weight="normal" fill="#2a2a2a" stroke="#2a2a2a" stroke-width="0.15">250</text>
<line x1="369.40" y1="244.50" x2="371.80" y2="244.50" stroke="#5a5a5a" stroke-width="0.9"/>
<text x="368.80" y="247.00" font-size="6.3" text-anchor="end" font-weight="normal" fill="#2a2a2a" stroke="#2a2a2a" stroke-width="0.15">300</text>
<line x1="369.60" y1="328.50" x2="473.80" y2="328.50" stroke="#5a5a5a" stroke-width="0.9"/>
<line x1="381.50" y1="328.30" x2="381.50" y2="330.10" stroke="#5a5a5a" stroke-width="0.8"/>
<line x1="423.50" y1="328.30" x2="423.50" y2="330.10" stroke="#5a5a5a" stroke-width="0.8"/>
<line x1="465.50" y1="328.30" x2="465.50" y2="330.10" stroke="#5a5a5a" stroke-width="0.8"/>
<line x1="488.50" y1="329.30" x2="488.50" y2="331.10" stroke="#5a5a5a" stroke-width="0.8"/>
<line x1="530.50" y1="329.30" x2="530.50" y2="331.10" stroke="#5a5a5a" stroke-width="0.8"/>
<line x1="572.50" y1="329.30" x2="572.50" y2="331.10" stroke="#5a5a5a" stroke-width="0.8"/>
<line x1="591.50" y1="329.40" x2="591.50" y2="331.20" stroke="#5a5a5a" stroke-width="0.8"/>
<line x1="634.50" y1="329.40" x2="634.50" y2="331.20" stroke="#5a5a5a" stroke-width="0.8"/>
<line x1="676.50" y1="329.40" x2="676.50" y2="331.20" stroke="#5a5a5a" stroke-width="0.8"/>
<line x1="480.70" y1="329.50" x2="579.50" y2="329.50" stroke="#5a5a5a" stroke-width="0.9"/>
<line x1="584.80" y1="329.50" x2="683.50" y2="329.50" stroke="#5a5a5a" stroke-width="0.9"/>
<text x="381.60" y="339.00" font-size="6.3" text-anchor="middle" font-weight="normal" fill="#2a2a2a" stroke="#2a2a2a" stroke-width="0.15">30</text>
<text x="426.20" y="339.00" font-size="6.3" text-anchor="middle" font-weight="normal" fill="#2a2a2a" stroke="#2a2a2a" stroke-width="0.15">60</text>
<text x="470.40" y="339.00" font-size="6.3" text-anchor="middle" font-weight="normal" fill="#2a2a2a" stroke="#2a2a2a" stroke-width="0.15">120</text>
<text x="488.40" y="338.00" font-size="6.3" text-anchor="middle" font-weight="normal" fill="#2a2a2a" stroke="#2a2a2a" stroke-width="0.15">30</text>
<text x="530.50" y="338.00" font-size="6.3" text-anchor="middle" font-weight="normal" fill="#2a2a2a" stroke="#2a2a2a" stroke-width="0.15">60</text>
<text x="572.70" y="338.00" font-size="6.3" text-anchor="middle" font-weight="normal" fill="#2a2a2a" stroke="#2a2a2a" stroke-width="0.15">120</text>
<text x="591.90" y="338.00" font-size="6.3" text-anchor="middle" font-weight="normal" fill="#2a2a2a" stroke="#2a2a2a" stroke-width="0.15">30</text>
<text x="634.10" y="338.00" font-size="6.3" text-anchor="middle" font-weight="normal" fill="#2a2a2a" stroke="#2a2a2a" stroke-width="0.15">60</text>
<text x="676.70" y="338.00" font-size="6.3" text-anchor="middle" font-weight="normal" fill="#2a2a2a" stroke="#2a2a2a" stroke-width="0.15">120</text>
<text transform="translate(352.50 286.50) rotate(-90) scale(1 0.9)" font-size="6.8" text-anchor="middle" font-weight="bold" fill="#1e1e1e" stroke="#1e1e1e" stroke-width="0.1" dominant-baseline="central">Catalepsy (sec)</text>
<text x="423.30" y="350.60" font-size="7.2" text-anchor="middle" font-weight="bold" fill="#1e1e1e">time (min)</text>
<text x="530.00" y="350.60" font-size="7.2" text-anchor="middle" font-weight="bold" fill="#1e1e1e">time (min)</text>
<text x="634.00" y="350.60" font-size="7.2" text-anchor="middle" font-weight="bold" fill="#1e1e1e">time (min)</text>
<line x1="381.50" y1="323.82" x2="381.50" y2="322.43" stroke="#333" stroke-width="0.9"/>
<line x1="378.70" y1="322.50" x2="383.30" y2="322.50" stroke="#333" stroke-width="0.9"/>
<line x1="381.50" y1="323.82" x2="381.50" y2="325.22" stroke="#333" stroke-width="0.9"/>
<line x1="378.70" y1="325.50" x2="383.30" y2="325.50" stroke="#333" stroke-width="0.9"/>
<line x1="423.50" y1="312.92" x2="423.50" y2="307.32" stroke="#333" stroke-width="0.9"/>
<line x1="421.00" y1="307.50" x2="425.60" y2="307.50" stroke="#333" stroke-width="0.9"/>
<line x1="423.50" y1="312.92" x2="423.50" y2="318.51" stroke="#333" stroke-width="0.9"/>
<line x1="421.00" y1="318.50" x2="425.60" y2="318.50" stroke="#333" stroke-width="0.9"/>
<line x1="465.50" y1="316.27" x2="465.50" y2="313.48" stroke="#333" stroke-width="0.9"/>
<line x1="463.20" y1="313.50" x2="467.80" y2="313.50" stroke="#333" stroke-width="0.9"/>
<line x1="465.50" y1="316.27" x2="465.50" y2="319.07" stroke="#333" stroke-width="0.9"/>
<line x1="463.20" y1="319.50" x2="467.80" y2="319.50" stroke="#333" stroke-width="0.9"/>
<line x1="381.50" y1="297.81" x2="381.50" y2="286.90" stroke="#333" stroke-width="0.9"/>
<line x1="378.70" y1="286.50" x2="383.30" y2="286.50" stroke="#333" stroke-width="0.9"/>
<line x1="381.50" y1="297.81" x2="381.50" y2="308.72" stroke="#333" stroke-width="0.9"/>
<line x1="378.70" y1="308.50" x2="383.30" y2="308.50" stroke="#333" stroke-width="0.9"/>
<line x1="423.50" y1="287.74" x2="423.50" y2="278.23" stroke="#333" stroke-width="0.9"/>
<line x1="421.00" y1="278.50" x2="425.60" y2="278.50" stroke="#333" stroke-width="0.9"/>
<line x1="423.50" y1="287.74" x2="423.50" y2="297.25" stroke="#333" stroke-width="0.9"/>
<line x1="421.00" y1="297.50" x2="425.60" y2="297.50" stroke="#333" stroke-width="0.9"/>
<line x1="465.50" y1="314.87" x2="465.50" y2="308.72" stroke="#333" stroke-width="0.9"/>
<line x1="463.20" y1="308.50" x2="467.80" y2="308.50" stroke="#333" stroke-width="0.9"/>
<line x1="465.50" y1="314.87" x2="465.50" y2="321.03" stroke="#333" stroke-width="0.9"/>
<line x1="463.20" y1="321.50" x2="467.80" y2="321.50" stroke="#333" stroke-width="0.9"/>
<polyline points="381.00,328.02 423.30,328.02 465.50,328.02" fill="none" stroke="#555" stroke-width="0.7"/>
<polyline points="381.00,323.82 423.30,312.92 465.50,316.27" fill="none" stroke="#2a2a2a" stroke-width="0.7"/>
<polyline points="381.00,297.81 423.30,287.74 465.50,314.87" fill="none" stroke="#2a2a2a" stroke-width="0.7"/>
<polyline points="381.00,328.02 423.30,328.02 465.50,328.02" fill="none" stroke="#666" stroke-width="0.7"/>
<circle cx="381.00" cy="328.02" r="2.18" fill="#000" stroke="#000" stroke-width="0.85"/>
<circle cx="423.30" cy="328.02" r="2.18" fill="#000" stroke="#000" stroke-width="0.85"/>
<circle cx="465.50" cy="328.02" r="2.18" fill="#000" stroke="#000" stroke-width="0.85"/>
<polygon points="378.50,322.22 383.50,322.22 381.00,326.52" fill="#000" stroke="#000" stroke-width="0.85" stroke-linejoin="miter"/>
<polygon points="420.80,311.32 425.80,311.32 423.30,315.62" fill="#000" stroke="#000" stroke-width="0.85" stroke-linejoin="miter"/>
<polygon points="463.00,314.67 468.00,314.67 465.50,318.97" fill="#000" stroke="#000" stroke-width="0.85" stroke-linejoin="miter"/>
<polygon points="378.50,296.21 383.50,296.21 381.00,300.51" fill="#fff" stroke="#000" stroke-width="0.7" stroke-linejoin="miter"/>
<polygon points="420.80,286.14 425.80,286.14 423.30,290.44" fill="#fff" stroke="#000" stroke-width="0.7" stroke-linejoin="miter"/>
<polygon points="463.00,313.27 468.00,313.27 465.50,317.57" fill="#fff" stroke="#000" stroke-width="0.7" stroke-linejoin="miter"/>
<circle cx="381.00" cy="328.02" r="2.30" fill="#fff" stroke="#333" stroke-width="0.7"/>
<circle cx="423.30" cy="328.02" r="2.30" fill="#fff" stroke="#333" stroke-width="0.7"/>
<circle cx="465.50" cy="328.02" r="2.30" fill="#fff" stroke="#333" stroke-width="0.7"/>
<text x="381.40" y="286.70" font-size="8.6" text-anchor="middle" font-weight="bold" fill="#222">*</text>
<text x="423.40" y="279.20" font-size="8.6" text-anchor="middle" font-weight="bold" fill="#222">*</text>
<line x1="488.50" y1="310.84" x2="488.50" y2="306.92" stroke="#333" stroke-width="0.9"/>
<line x1="486.30" y1="306.50" x2="490.90" y2="306.50" stroke="#333" stroke-width="0.9"/>
<line x1="488.50" y1="310.84" x2="488.50" y2="314.76" stroke="#333" stroke-width="0.9"/>
<line x1="486.30" y1="314.50" x2="490.90" y2="314.50" stroke="#333" stroke-width="0.9"/>
<line x1="530.50" y1="290.14" x2="530.50" y2="281.19" stroke="#333" stroke-width="0.9"/>
<line x1="528.20" y1="281.50" x2="532.80" y2="281.50" stroke="#333" stroke-width="0.9"/>
<line x1="530.50" y1="290.14" x2="530.50" y2="299.09" stroke="#333" stroke-width="0.9"/>
<line x1="528.20" y1="299.50" x2="532.80" y2="299.50" stroke="#333" stroke-width="0.9"/>
<line x1="488.50" y1="261.33" x2="488.50" y2="252.38" stroke="#333" stroke-width="0.9"/>
<line x1="486.30" y1="252.50" x2="490.90" y2="252.50" stroke="#333" stroke-width="0.9"/>
<line x1="488.50" y1="261.33" x2="488.50" y2="270.28" stroke="#333" stroke-width="0.9"/>
<line x1="486.30" y1="270.50" x2="490.90" y2="270.50" stroke="#333" stroke-width="0.9"/>
<line x1="572.50" y1="271.40" x2="572.50" y2="261.05" stroke="#333" stroke-width="0.9"/>
<line x1="570.20" y1="261.50" x2="574.80" y2="261.50" stroke="#333" stroke-width="0.9"/>
<line x1="572.50" y1="271.40" x2="572.50" y2="281.75" stroke="#333" stroke-width="0.9"/>
<line x1="570.20" y1="281.50" x2="574.80" y2="281.50" stroke="#333" stroke-width="0.9"/>
<polyline points="488.60,329.02 530.50,329.02 572.50,329.02" fill="none" stroke="#555" stroke-width="0.7"/>
<polyline points="488.60,310.84 530.50,290.14 572.50,315.87" fill="none" stroke="#2a2a2a" stroke-width="0.7"/>
<polyline points="488.60,261.33 530.50,244.83 572.50,271.40" fill="none" stroke="#2a2a2a" stroke-width="0.7"/>
<polyline points="488.60,329.02 530.50,329.02 572.50,329.02" fill="none" stroke="#666" stroke-width="0.7"/>
<circle cx="488.60" cy="329.02" r="2.18" fill="#000" stroke="#000" stroke-width="0.85"/>
<circle cx="530.50" cy="329.02" r="2.18" fill="#000" stroke="#000" stroke-width="0.85"/>
<circle cx="572.50" cy="329.02" r="2.18" fill="#000" stroke="#000" stroke-width="0.85"/>
<rect x="486.50" y="308.74" width="4.20" height="4.20" fill="#000" stroke="#000" stroke-width="0.85"/>
<rect x="528.40" y="288.04" width="4.20" height="4.20" fill="#000" stroke="#000" stroke-width="0.85"/>
<rect x="570.40" y="313.77" width="4.20" height="4.20" fill="#000" stroke="#000" stroke-width="0.85"/>
<rect x="486.29" y="259.02" width="4.62" height="4.62" fill="#fff" stroke="#000" stroke-width="0.7"/>
<rect x="528.19" y="242.52" width="4.62" height="4.62" fill="#fff" stroke="#000" stroke-width="0.7"/>
<rect x="570.19" y="269.09" width="4.62" height="4.62" fill="#fff" stroke="#000" stroke-width="0.7"/>
<circle cx="488.60" cy="329.02" r="2.30" fill="#fff" stroke="#333" stroke-width="0.7"/>
<circle cx="530.50" cy="329.02" r="2.30" fill="#fff" stroke="#333" stroke-width="0.7"/>
<circle cx="572.50" cy="329.02" r="2.30" fill="#fff" stroke="#333" stroke-width="0.7"/>
<text x="486.40" y="253.10" font-size="8.6" text-anchor="middle" font-weight="bold" fill="#222">*</text>
<text x="490.80" y="253.10" font-size="8.6" text-anchor="middle" font-weight="bold" fill="#222">*</text>
<text x="528.80" y="242.90" font-size="8.6" text-anchor="middle" font-weight="bold" fill="#222">*</text>
<text x="533.20" y="242.90" font-size="8.6" text-anchor="middle" font-weight="bold" fill="#222">*</text>
<text x="570.70" y="262.00" font-size="8.6" text-anchor="middle" font-weight="bold" fill="#222">*</text>
<text x="575.10" y="262.00" font-size="8.6" text-anchor="middle" font-weight="bold" fill="#222">*</text>
<line x1="591.50" y1="298.91" x2="591.50" y2="290.80" stroke="#333" stroke-width="0.9"/>
<line x1="589.40" y1="290.50" x2="594.00" y2="290.50" stroke="#333" stroke-width="0.9"/>
<line x1="591.50" y1="298.91" x2="591.50" y2="307.02" stroke="#333" stroke-width="0.9"/>
<line x1="589.40" y1="307.50" x2="594.00" y2="307.50" stroke="#333" stroke-width="0.9"/>
<line x1="634.50" y1="284.09" x2="634.50" y2="272.62" stroke="#333" stroke-width="0.9"/>
<line x1="631.80" y1="272.50" x2="636.40" y2="272.50" stroke="#333" stroke-width="0.9"/>
<line x1="634.50" y1="284.09" x2="634.50" y2="295.56" stroke="#333" stroke-width="0.9"/>
<line x1="631.80" y1="295.50" x2="636.40" y2="295.50" stroke="#333" stroke-width="0.9"/>
<line x1="676.50" y1="298.35" x2="676.50" y2="289.68" stroke="#333" stroke-width="0.9"/>
<line x1="674.20" y1="289.50" x2="678.80" y2="289.50" stroke="#333" stroke-width="0.9"/>
<line x1="676.50" y1="298.35" x2="676.50" y2="307.02" stroke="#333" stroke-width="0.9"/>
<line x1="674.20" y1="307.50" x2="678.80" y2="307.50" stroke="#333" stroke-width="0.9"/>
<line x1="591.50" y1="265.07" x2="591.50" y2="255.56" stroke="#333" stroke-width="0.9"/>
<line x1="589.40" y1="255.50" x2="594.00" y2="255.50" stroke="#333" stroke-width="0.9"/>
<line x1="591.50" y1="265.07" x2="591.50" y2="274.58" stroke="#333" stroke-width="0.9"/>
<line x1="589.40" y1="274.50" x2="594.00" y2="274.50" stroke="#333" stroke-width="0.9"/>
<line x1="634.50" y1="258.64" x2="634.50" y2="253.60" stroke="#333" stroke-width="0.9"/>
<line x1="631.80" y1="253.50" x2="636.40" y2="253.50" stroke="#333" stroke-width="0.9"/>
<line x1="634.50" y1="258.64" x2="634.50" y2="263.67" stroke="#333" stroke-width="0.9"/>
<line x1="631.80" y1="263.50" x2="636.40" y2="263.50" stroke="#333" stroke-width="0.9"/>
<line x1="676.50" y1="250.80" x2="676.50" y2="246.89" stroke="#333" stroke-width="0.9"/>
<line x1="674.20" y1="246.50" x2="678.80" y2="246.50" stroke="#333" stroke-width="0.9"/>
<line x1="676.50" y1="250.80" x2="676.50" y2="254.72" stroke="#333" stroke-width="0.9"/>
<line x1="674.20" y1="254.50" x2="678.80" y2="254.50" stroke="#333" stroke-width="0.9"/>
<polyline points="591.70,329.12 634.10,329.12 676.50,329.12" fill="none" stroke="#555" stroke-width="0.7"/>
<polyline points="591.70,298.91 634.10,284.09 676.50,298.35" fill="none" stroke="#2a2a2a" stroke-width="0.7"/>
<polyline points="591.70,265.07 634.10,258.64 676.50,250.80" fill="none" stroke="#2a2a2a" stroke-width="0.7"/>
<polyline points="591.70,329.12 634.10,329.12 676.50,329.12" fill="none" stroke="#666" stroke-width="0.7"/>
<circle cx="591.70" cy="329.12" r="2.18" fill="#000" stroke="#000" stroke-width="0.85"/>
<circle cx="634.10" cy="329.12" r="2.18" fill="#000" stroke="#000" stroke-width="0.85"/>
<circle cx="676.50" cy="329.12" r="2.18" fill="#000" stroke="#000" stroke-width="0.85"/>
<polygon points="589.45,300.35 593.95,300.35 591.70,296.48" fill="#000" stroke="#000" stroke-width="0.85" stroke-linejoin="miter"/>
<polygon points="631.85,285.53 636.35,285.53 634.10,281.66" fill="#000" stroke="#000" stroke-width="0.85" stroke-linejoin="miter"/>
<polygon points="674.25,299.79 678.75,299.79 676.50,295.92" fill="#000" stroke="#000" stroke-width="0.85" stroke-linejoin="miter"/>
<polygon points="589.20,266.67 594.20,266.67 591.70,262.37" fill="#fff" stroke="#000" stroke-width="0.7" stroke-linejoin="miter"/>
<polygon points="631.60,260.24 636.60,260.24 634.10,255.94" fill="#fff" stroke="#000" stroke-width="0.7" stroke-linejoin="miter"/>
<polygon points="674.00,252.40 679.00,252.40 676.50,248.10" fill="#fff" stroke="#000" stroke-width="0.7" stroke-linejoin="miter"/>
<circle cx="591.70" cy="329.12" r="2.30" fill="#fff" stroke="#333" stroke-width="0.7"/>
<circle cx="634.10" cy="329.12" r="2.30" fill="#fff" stroke="#333" stroke-width="0.7"/>
<circle cx="676.50" cy="329.12" r="2.30" fill="#fff" stroke="#333" stroke-width="0.7"/>
<text x="591.70" y="255.50" font-size="8.6" text-anchor="middle" font-weight="bold" fill="#222">*</text>
<text x="634.10" y="252.70" font-size="8.6" text-anchor="middle" font-weight="bold" fill="#222">*</text>
<text x="674.90" y="247.00" font-size="8.6" text-anchor="middle" font-weight="bold" fill="#222">*</text>
<text x="679.30" y="247.00" font-size="8.6" text-anchor="middle" font-weight="bold" fill="#222">*</text>
<text transform="translate(1.75 373.30) scale(1.0 1)" font-size="21.6" fill="#000">E</text>
<circle cx="10.4" cy="391.8" r="8.3" fill="none" stroke="#000" stroke-width="1.7"/>
<line x1="10.4" y1="400.1" x2="10.4" y2="414.6" stroke="#000" stroke-width="1.7"/>
<line x1="5.4" y1="407.2" x2="15.4" y2="407.2" stroke="#000" stroke-width="1.7"/>
<defs><pattern id="hatch" patternUnits="userSpaceOnUse" width="4.9" height="4.9" patternTransform="translate(96.3 0) rotate(-45)"><rect width="4.9" height="4.9" fill="#fff"/><rect x="0" y="0" width="1.15" height="4.9" fill="#000"/></pattern><pattern id="hatch2" patternUnits="userSpaceOnUse" width="4.2" height="4.2" patternTransform="translate(55 0) rotate(-45)"><rect width="4.2" height="4.2" fill="#fff"/><rect x="0" y="0" width="1.3" height="4.2" fill="#000"/></pattern></defs>
<rect x="54.9" y="395.4" width="12.0" height="4.4" fill="#000"/>
<rect x="54.8" y="408.5" width="12.0" height="4.8" fill="url(#hatch2)" stroke="#bbb" stroke-width="0.4"/>
<rect x="129.5" y="396.0" width="12.0" height="4.0" fill="#fff" stroke="#aaa" stroke-width="0.5"/>
<rect x="129.5" y="408.5" width="12.0" height="4.8" fill="url(#hatch2)" stroke="#bbb" stroke-width="0.4"/>
<text x="73.60" y="401.00" font-size="7.4" text-anchor="start" font-weight="normal" fill="#1e1e1e">WT Veh + Hal</text>
<text x="73.60" y="414.10" font-size="7.4" text-anchor="start" font-weight="normal" fill="#1e1e1e">WT CSC + Hal</text>
<text x="149.00" y="401.00" font-size="7.4" text-anchor="start" font-weight="normal" fill="#1e1e1e">KO Veh + Hal</text>
<text x="149.00" y="414.10" font-size="7.4" text-anchor="start" font-weight="normal" fill="#1e1e1e">KO CSC + Hal</text>
<line x1="66.50" y1="558.70" x2="66.50" y2="445.30" stroke="#5a5a5a" stroke-width="0.9"/>
<line x1="63.70" y1="558.50" x2="66.60" y2="558.50" stroke="#5a5a5a" stroke-width="0.9"/>
<text x="62.10" y="562.00" font-size="7.9" text-anchor="end" font-weight="normal" fill="#2a2a2a" stroke="#2a2a2a" stroke-width="0.15">0</text>
<line x1="63.70" y1="539.50" x2="66.60" y2="539.50" stroke="#5a5a5a" stroke-width="0.9"/>
<text x="62.10" y="543.00" font-size="7.9" text-anchor="end" font-weight="normal" fill="#2a2a2a" stroke="#2a2a2a" stroke-width="0.15">50</text>
<line x1="63.70" y1="520.50" x2="66.60" y2="520.50" stroke="#5a5a5a" stroke-width="0.9"/>
<text x="62.10" y="524.00" font-size="7.9" text-anchor="end" font-weight="normal" fill="#2a2a2a" stroke="#2a2a2a" stroke-width="0.15">100</text>
<line x1="63.70" y1="502.50" x2="66.60" y2="502.50" stroke="#5a5a5a" stroke-width="0.9"/>
<text x="62.10" y="505.00" font-size="7.9" text-anchor="end" font-weight="normal" fill="#2a2a2a" stroke="#2a2a2a" stroke-width="0.15">150</text>
<line x1="63.70" y1="483.50" x2="66.60" y2="483.50" stroke="#5a5a5a" stroke-width="0.9"/>
<text x="62.10" y="486.00" font-size="7.9" text-anchor="end" font-weight="normal" fill="#2a2a2a" stroke="#2a2a2a" stroke-width="0.15">200</text>
<line x1="63.70" y1="464.50" x2="66.60" y2="464.50" stroke="#5a5a5a" stroke-width="0.9"/>
<text x="62.10" y="467.00" font-size="7.9" text-anchor="end" font-weight="normal" fill="#2a2a2a" stroke="#2a2a2a" stroke-width="0.15">250</text>
<line x1="63.70" y1="445.50" x2="66.60" y2="445.50" stroke="#5a5a5a" stroke-width="0.9"/>
<text x="62.10" y="448.00" font-size="7.9" text-anchor="end" font-weight="normal" fill="#2a2a2a" stroke="#2a2a2a" stroke-width="0.15">300</text>
<line x1="65.40" y1="549.50" x2="66.60" y2="549.50" stroke="#5a5a5a" stroke-width="0.8"/>
<line x1="65.40" y1="530.50" x2="66.60" y2="530.50" stroke="#5a5a5a" stroke-width="0.8"/>
<line x1="65.40" y1="511.50" x2="66.60" y2="511.50" stroke="#5a5a5a" stroke-width="0.8"/>
<line x1="65.40" y1="492.50" x2="66.60" y2="492.50" stroke="#5a5a5a" stroke-width="0.8"/>
<line x1="65.40" y1="473.50" x2="66.60" y2="473.50" stroke="#5a5a5a" stroke-width="0.8"/>
<line x1="65.40" y1="454.50" x2="66.60" y2="454.50" stroke="#5a5a5a" stroke-width="0.8"/>
<line x1="66.60" y1="558.50" x2="179.00" y2="558.50" stroke="#5a5a5a" stroke-width="0.9"/>
<text transform="translate(40.60 502.30) rotate(-90) scale(1 0.95)" font-size="9.3" text-anchor="middle" font-weight="bold" fill="#1e1e1e" stroke="#1e1e1e" stroke-width="0.1" dominant-baseline="central">Catalepsy (sec)</text>
<text x="97.50" y="572.20" font-size="8.3" text-anchor="middle" font-weight="normal" fill="#1e1e1e" stroke="#1e1e1e" stroke-width="0.05">WT</text>
<text x="149.50" y="572.20" font-size="8.3" text-anchor="middle" font-weight="normal" fill="#1e1e1e" stroke="#1e1e1e" stroke-width="0.05">KO</text>
<line x1="85.50" y1="519.39" x2="85.50" y2="504.27" stroke="#888" stroke-width="0.8"/>
<line x1="78.95" y1="504.50" x2="91.35" y2="504.50" stroke="#555" stroke-width="1.0"/>
<rect x="73.00" y="519.39" width="24.30" height="39.31" fill="#000" stroke="#333" stroke-width="0.9"/>
<line x1="109.50" y1="511.98" x2="109.50" y2="496.22" stroke="#888" stroke-width="0.8"/>
<line x1="103.35" y1="496.50" x2="115.75" y2="496.50" stroke="#555" stroke-width="1.0"/>
<rect x="97.30" y="511.98" width="24.50" height="46.72" fill="url(#hatch)" stroke="#333" stroke-width="0.9"/>
<line x1="137.50" y1="468.17" x2="137.50" y2="458.42" stroke="#888" stroke-width="0.8"/>
<line x1="131.30" y1="458.50" x2="143.70" y2="458.50" stroke="#555" stroke-width="1.0"/>
<rect x="125.50" y="468.17" width="24.00" height="90.53" fill="#fff" stroke="#333" stroke-width="0.9"/>
<line x1="161.50" y1="517.01" x2="161.50" y2="506.20" stroke="#888" stroke-width="0.8"/>
<line x1="155.65" y1="506.50" x2="168.05" y2="506.50" stroke="#555" stroke-width="1.0"/>
<rect x="149.50" y="517.01" width="24.70" height="41.69" fill="url(#hatch)" stroke="#333" stroke-width="0.9"/>
<text transform="translate(226.67 373.30) scale(1.045 1)" font-size="21.6" fill="#000">F</text>
<circle cx="253.4" cy="397.4" r="8.2" fill="none" stroke="#000" stroke-width="2.0"/>
<line x1="259.12" y1="391.52" x2="266.74" y2="383.67" stroke="#000" stroke-width="2.0"/>
<polyline points="260.00,383.10 267.30,383.10 267.30,390.40" fill="none" stroke="#000" stroke-width="2.0" stroke-linecap="butt" stroke-linejoin="miter"/>
<line x1="249.50" y1="414.30" x2="260.90" y2="414.30" stroke="#222" stroke-width="0.8"/>
<circle cx="255.20" cy="414.30" r="2.30" fill="#000" stroke="#000" stroke-width="0.85"/>
<text x="267.10" y="416.78" font-size="6.9" text-anchor="start" font-weight="normal" fill="#1e1e1e" stroke="#1e1e1e" stroke-width="0.12">WT Veh</text>
<line x1="249.50" y1="426.50" x2="260.90" y2="426.50" stroke="#222" stroke-width="0.8"/>
<polygon points="252.82,425.58 257.57,425.58 255.20,429.67" fill="#000" stroke="#000" stroke-width="0.85" stroke-linejoin="miter"/>
<text x="267.10" y="429.68" font-size="6.9" text-anchor="start" font-weight="normal" fill="#1e1e1e" stroke="#1e1e1e" stroke-width="0.12">WT caffeine, 7.5mg/kg</text>
<line x1="343.90" y1="414.50" x2="355.20" y2="414.50" stroke="#222" stroke-width="0.8"/>
<circle cx="349.70" cy="414.50" r="2.69" fill="#fff" stroke="#000" stroke-width="0.7"/>
<text x="361.60" y="416.98" font-size="6.9" text-anchor="start" font-weight="normal" fill="#1e1e1e" stroke="#1e1e1e" stroke-width="0.12">KO Veh</text>
<line x1="343.90" y1="427.10" x2="355.20" y2="427.10" stroke="#222" stroke-width="0.8"/>
<polygon points="346.95,426.64 352.45,426.64 349.70,431.37" fill="#fff" stroke="#000" stroke-width="0.7" stroke-linejoin="miter"/>
<text x="361.60" y="429.88" font-size="6.9" text-anchor="start" font-weight="normal" fill="#1e1e1e" stroke="#1e1e1e" stroke-width="0.12">KO caffeine, 7.5mg/kg</text>
<line x1="267.50" y1="558.00" x2="267.50" y2="452.90" stroke="#5a5a5a" stroke-width="0.9"/>
<line x1="264.60" y1="558.50" x2="267.40" y2="558.50" stroke="#5a5a5a" stroke-width="0.9"/>
<text x="263.00" y="561.00" font-size="7.6" text-anchor="end" font-weight="normal" fill="#2a2a2a" stroke="#2a2a2a" stroke-width="0.2">0</text>
<line x1="264.60" y1="540.50" x2="267.40" y2="540.50" stroke="#5a5a5a" stroke-width="0.9"/>
<text x="263.00" y="544.00" font-size="7.6" text-anchor="end" font-weight="normal" fill="#2a2a2a" stroke="#2a2a2a" stroke-width="0.2">500</text>
<line x1="264.60" y1="522.50" x2="267.40" y2="522.50" stroke="#5a5a5a" stroke-width="0.9"/>
<text x="263.00" y="526.00" font-size="7.6" text-anchor="end" font-weight="normal" fill="#2a2a2a" stroke="#2a2a2a" stroke-width="0.2">1000</text>
<line x1="264.60" y1="505.50" x2="267.40" y2="505.50" stroke="#5a5a5a" stroke-width="0.9"/>
<text x="263.00" y="508.00" font-size="7.6" text-anchor="end" font-weight="normal" fill="#2a2a2a" stroke="#2a2a2a" stroke-width="0.2">1500</text>
<line x1="264.60" y1="487.50" x2="267.40" y2="487.50" stroke="#5a5a5a" stroke-width="0.9"/>
<text x="263.00" y="491.00" font-size="7.6" text-anchor="end" font-weight="normal" fill="#2a2a2a" stroke="#2a2a2a" stroke-width="0.2">2000</text>
<line x1="264.60" y1="470.50" x2="267.40" y2="470.50" stroke="#5a5a5a" stroke-width="0.9"/>
<text x="263.00" y="473.00" font-size="7.6" text-anchor="end" font-weight="normal" fill="#2a2a2a" stroke="#2a2a2a" stroke-width="0.2">2500</text>
<line x1="264.60" y1="452.50" x2="267.40" y2="452.50" stroke="#5a5a5a" stroke-width="0.9"/>
<text x="263.00" y="456.00" font-size="7.6" text-anchor="end" font-weight="normal" fill="#2a2a2a" stroke="#2a2a2a" stroke-width="0.2">3000</text>
<line x1="266.20" y1="549.50" x2="267.40" y2="549.50" stroke="#5a5a5a" stroke-width="0.8"/>
<line x1="266.20" y1="531.50" x2="267.40" y2="531.50" stroke="#5a5a5a" stroke-width="0.8"/>
<line x1="266.20" y1="514.50" x2="267.40" y2="514.50" stroke="#5a5a5a" stroke-width="0.8"/>
<line x1="266.20" y1="496.50" x2="267.40" y2="496.50" stroke="#5a5a5a" stroke-width="0.8"/>
<line x1="266.20" y1="479.50" x2="267.40" y2="479.50" stroke="#5a5a5a" stroke-width="0.8"/>
<line x1="266.20" y1="461.50" x2="267.40" y2="461.50" stroke="#5a5a5a" stroke-width="0.8"/>
<line x1="267.40" y1="558.50" x2="425.00" y2="558.50" stroke="#5a5a5a" stroke-width="0.9"/>
<line x1="267.50" y1="558.00" x2="267.50" y2="560.00" stroke="#5a5a5a" stroke-width="0.9"/>
<text x="267.40" y="567.90" font-size="6.0" text-anchor="middle" font-weight="normal" fill="#2a2a2a" stroke="#2a2a2a" stroke-width="0.15">0</text>
<line x1="279.50" y1="558.00" x2="279.50" y2="560.00" stroke="#5a5a5a" stroke-width="0.9"/>
<text x="279.52" y="567.90" font-size="6.0" text-anchor="middle" font-weight="normal" fill="#2a2a2a" stroke="#2a2a2a" stroke-width="0.15">10</text>
<line x1="291.50" y1="558.00" x2="291.50" y2="560.00" stroke="#5a5a5a" stroke-width="0.9"/>
<text x="291.65" y="567.90" font-size="6.0" text-anchor="middle" font-weight="normal" fill="#2a2a2a" stroke="#2a2a2a" stroke-width="0.15">20</text>
<line x1="303.50" y1="558.00" x2="303.50" y2="560.00" stroke="#5a5a5a" stroke-width="0.9"/>
<text x="303.77" y="567.90" font-size="6.0" text-anchor="middle" font-weight="normal" fill="#2a2a2a" stroke="#2a2a2a" stroke-width="0.15">30</text>
<line x1="315.50" y1="558.00" x2="315.50" y2="560.00" stroke="#5a5a5a" stroke-width="0.9"/>
<text x="315.89" y="567.90" font-size="6.0" text-anchor="middle" font-weight="normal" fill="#2a2a2a" stroke="#2a2a2a" stroke-width="0.15">40</text>
<line x1="328.50" y1="558.00" x2="328.50" y2="560.00" stroke="#5a5a5a" stroke-width="0.9"/>
<text x="328.02" y="567.90" font-size="6.0" text-anchor="middle" font-weight="normal" fill="#2a2a2a" stroke="#2a2a2a" stroke-width="0.15">50</text>
<line x1="340.50" y1="558.00" x2="340.50" y2="560.00" stroke="#5a5a5a" stroke-width="0.9"/>
<text x="340.14" y="567.90" font-size="6.0" text-anchor="middle" font-weight="normal" fill="#2a2a2a" stroke="#2a2a2a" stroke-width="0.15">60</text>
<line x1="352.50" y1="558.00" x2="352.50" y2="560.00" stroke="#5a5a5a" stroke-width="0.9"/>
<text x="352.26" y="567.90" font-size="6.0" text-anchor="middle" font-weight="normal" fill="#2a2a2a" stroke="#2a2a2a" stroke-width="0.15">70</text>
<line x1="364.50" y1="558.00" x2="364.50" y2="560.00" stroke="#5a5a5a" stroke-width="0.9"/>
<text x="364.38" y="567.90" font-size="6.0" text-anchor="middle" font-weight="normal" fill="#2a2a2a" stroke="#2a2a2a" stroke-width="0.15">80</text>
<line x1="376.50" y1="558.00" x2="376.50" y2="560.00" stroke="#5a5a5a" stroke-width="0.9"/>
<text x="376.51" y="567.90" font-size="6.0" text-anchor="middle" font-weight="normal" fill="#2a2a2a" stroke="#2a2a2a" stroke-width="0.15">90</text>
<line x1="388.50" y1="558.00" x2="388.50" y2="560.00" stroke="#5a5a5a" stroke-width="0.9"/>
<text x="388.63" y="567.90" font-size="6.0" text-anchor="middle" font-weight="normal" fill="#2a2a2a" stroke="#2a2a2a" stroke-width="0.15">100</text>
<line x1="400.50" y1="558.00" x2="400.50" y2="560.00" stroke="#5a5a5a" stroke-width="0.9"/>
<text x="400.75" y="567.90" font-size="6.0" text-anchor="middle" font-weight="normal" fill="#2a2a2a" stroke="#2a2a2a" stroke-width="0.15">110</text>
<line x1="412.50" y1="558.00" x2="412.50" y2="560.00" stroke="#5a5a5a" stroke-width="0.9"/>
<text x="412.88" y="567.90" font-size="6.0" text-anchor="middle" font-weight="normal" fill="#2a2a2a" stroke="#2a2a2a" stroke-width="0.15">120</text>
<line x1="425.50" y1="558.00" x2="425.50" y2="560.00" stroke="#5a5a5a" stroke-width="0.9"/>
<text x="425.00" y="567.90" font-size="6.0" text-anchor="middle" font-weight="normal" fill="#2a2a2a" stroke="#2a2a2a" stroke-width="0.15">130</text>
<text transform="translate(237.20 505.80) rotate(-90) scale(1 0.78)" font-size="8.72" text-anchor="middle" font-weight="bold" fill="#1e1e1e" stroke="#1e1e1e" stroke-width="0.1" dominant-baseline="central">Travelled distance (cm)</text>
<text x="346.40" y="579.80" font-size="8.4" text-anchor="middle" font-weight="bold" fill="#1e1e1e">time (min)</text>
<line x1="279.50" y1="539.61" x2="279.50" y2="533.30" stroke="#333" stroke-width="0.9"/>
<line x1="276.92" y1="533.50" x2="282.12" y2="533.50" stroke="#333" stroke-width="0.9"/>
<line x1="279.50" y1="539.61" x2="279.50" y2="545.91" stroke="#333" stroke-width="0.9"/>
<line x1="276.92" y1="545.50" x2="282.12" y2="545.50" stroke="#333" stroke-width="0.9"/>
<line x1="291.50" y1="535.61" x2="291.50" y2="527.91" stroke="#333" stroke-width="0.9"/>
<line x1="289.05" y1="527.50" x2="294.25" y2="527.50" stroke="#333" stroke-width="0.9"/>
<line x1="291.50" y1="535.61" x2="291.50" y2="543.32" stroke="#333" stroke-width="0.9"/>
<line x1="289.05" y1="543.50" x2="294.25" y2="543.50" stroke="#333" stroke-width="0.9"/>
<line x1="303.50" y1="540.59" x2="303.50" y2="533.58" stroke="#333" stroke-width="0.9"/>
<line x1="301.17" y1="533.50" x2="306.37" y2="533.50" stroke="#333" stroke-width="0.9"/>
<line x1="303.50" y1="540.59" x2="303.50" y2="547.60" stroke="#333" stroke-width="0.9"/>
<line x1="301.17" y1="547.50" x2="306.37" y2="547.50" stroke="#333" stroke-width="0.9"/>
<line x1="315.50" y1="539.01" x2="315.50" y2="533.76" stroke="#333" stroke-width="0.9"/>
<line x1="313.29" y1="533.50" x2="318.49" y2="533.50" stroke="#333" stroke-width="0.9"/>
<line x1="315.50" y1="539.01" x2="315.50" y2="544.27" stroke="#333" stroke-width="0.9"/>
<line x1="313.29" y1="544.50" x2="318.49" y2="544.50" stroke="#333" stroke-width="0.9"/>
<line x1="328.50" y1="546.40" x2="328.50" y2="542.20" stroke="#333" stroke-width="0.9"/>
<line x1="325.42" y1="542.50" x2="330.62" y2="542.50" stroke="#333" stroke-width="0.9"/>
<line x1="328.50" y1="546.40" x2="328.50" y2="550.61" stroke="#333" stroke-width="0.9"/>
<line x1="325.42" y1="550.50" x2="330.62" y2="550.50" stroke="#333" stroke-width="0.9"/>
<line x1="340.50" y1="547.91" x2="340.50" y2="544.41" stroke="#333" stroke-width="0.9"/>
<line x1="337.54" y1="544.50" x2="342.74" y2="544.50" stroke="#333" stroke-width="0.9"/>
<line x1="340.50" y1="547.91" x2="340.50" y2="551.41" stroke="#333" stroke-width="0.9"/>
<line x1="337.54" y1="551.50" x2="342.74" y2="551.50" stroke="#333" stroke-width="0.9"/>
<line x1="352.50" y1="546.72" x2="352.50" y2="542.52" stroke="#333" stroke-width="0.9"/>
<line x1="349.66" y1="542.50" x2="354.86" y2="542.50" stroke="#333" stroke-width="0.9"/>
<line x1="352.50" y1="546.72" x2="352.50" y2="550.92" stroke="#333" stroke-width="0.9"/>
<line x1="349.66" y1="550.50" x2="354.86" y2="550.50" stroke="#333" stroke-width="0.9"/>
<line x1="364.50" y1="547.91" x2="364.50" y2="544.41" stroke="#333" stroke-width="0.9"/>
<line x1="361.78" y1="544.50" x2="366.98" y2="544.50" stroke="#333" stroke-width="0.9"/>
<line x1="364.50" y1="547.91" x2="364.50" y2="551.41" stroke="#333" stroke-width="0.9"/>
<line x1="361.78" y1="551.50" x2="366.98" y2="551.50" stroke="#333" stroke-width="0.9"/>
<line x1="376.50" y1="551.90" x2="376.50" y2="549.10" stroke="#333" stroke-width="0.9"/>
<line x1="373.91" y1="549.50" x2="379.11" y2="549.50" stroke="#333" stroke-width="0.9"/>
<line x1="376.50" y1="551.90" x2="376.50" y2="554.71" stroke="#333" stroke-width="0.9"/>
<line x1="373.91" y1="554.50" x2="379.11" y2="554.50" stroke="#333" stroke-width="0.9"/>
<line x1="388.50" y1="552.82" x2="388.50" y2="550.36" stroke="#333" stroke-width="0.9"/>
<line x1="386.03" y1="550.50" x2="391.23" y2="550.50" stroke="#333" stroke-width="0.9"/>
<line x1="388.50" y1="552.82" x2="388.50" y2="555.27" stroke="#333" stroke-width="0.9"/>
<line x1="386.03" y1="555.50" x2="391.23" y2="555.50" stroke="#333" stroke-width="0.9"/>
<line x1="400.50" y1="548.79" x2="400.50" y2="545.63" stroke="#333" stroke-width="0.9"/>
<line x1="398.15" y1="545.50" x2="403.35" y2="545.50" stroke="#333" stroke-width="0.9"/>
<line x1="400.50" y1="548.79" x2="400.50" y2="551.94" stroke="#333" stroke-width="0.9"/>
<line x1="398.15" y1="551.50" x2="403.35" y2="551.50" stroke="#333" stroke-width="0.9"/>
<line x1="412.50" y1="554.99" x2="412.50" y2="552.89" stroke="#333" stroke-width="0.9"/>
<line x1="410.28" y1="552.50" x2="415.48" y2="552.50" stroke="#333" stroke-width="0.9"/>
<line x1="412.50" y1="554.99" x2="412.50" y2="557.09" stroke="#333" stroke-width="0.9"/>
<line x1="410.28" y1="557.50" x2="415.48" y2="557.50" stroke="#333" stroke-width="0.9"/>
<line x1="279.50" y1="529.80" x2="279.50" y2="525.59" stroke="#333" stroke-width="0.9"/>
<line x1="276.92" y1="525.50" x2="282.12" y2="525.50" stroke="#333" stroke-width="0.9"/>
<line x1="279.50" y1="529.80" x2="279.50" y2="534.00" stroke="#333" stroke-width="0.9"/>
<line x1="276.92" y1="534.50" x2="282.12" y2="534.50" stroke="#333" stroke-width="0.9"/>
<line x1="291.50" y1="529.80" x2="291.50" y2="525.59" stroke="#333" stroke-width="0.9"/>
<line x1="289.05" y1="525.50" x2="294.25" y2="525.50" stroke="#333" stroke-width="0.9"/>
<line x1="291.50" y1="529.80" x2="291.50" y2="534.00" stroke="#333" stroke-width="0.9"/>
<line x1="289.05" y1="534.50" x2="294.25" y2="534.50" stroke="#333" stroke-width="0.9"/>
<line x1="303.50" y1="526.40" x2="303.50" y2="518.69" stroke="#333" stroke-width="0.9"/>
<line x1="301.17" y1="518.50" x2="306.37" y2="518.50" stroke="#333" stroke-width="0.9"/>
<line x1="303.50" y1="526.40" x2="303.50" y2="534.11" stroke="#333" stroke-width="0.9"/>
<line x1="301.17" y1="534.50" x2="306.37" y2="534.50" stroke="#333" stroke-width="0.9"/>
<line x1="315.50" y1="531.41" x2="315.50" y2="525.45" stroke="#333" stroke-width="0.9"/>
<line x1="313.29" y1="525.50" x2="318.49" y2="525.50" stroke="#333" stroke-width="0.9"/>
<line x1="315.50" y1="531.41" x2="315.50" y2="537.37" stroke="#333" stroke-width="0.9"/>
<line x1="313.29" y1="537.50" x2="318.49" y2="537.50" stroke="#333" stroke-width="0.9"/>
<line x1="328.50" y1="539.01" x2="328.50" y2="534.46" stroke="#333" stroke-width="0.9"/>
<line x1="325.42" y1="534.50" x2="330.62" y2="534.50" stroke="#333" stroke-width="0.9"/>
<line x1="328.50" y1="539.01" x2="328.50" y2="543.57" stroke="#333" stroke-width="0.9"/>
<line x1="325.42" y1="543.50" x2="330.62" y2="543.50" stroke="#333" stroke-width="0.9"/>
<line x1="340.50" y1="547.31" x2="340.50" y2="543.11" stroke="#333" stroke-width="0.9"/>
<line x1="337.54" y1="543.50" x2="342.74" y2="543.50" stroke="#333" stroke-width="0.9"/>
<line x1="340.50" y1="547.31" x2="340.50" y2="551.52" stroke="#333" stroke-width="0.9"/>
<line x1="337.54" y1="551.50" x2="342.74" y2="551.50" stroke="#333" stroke-width="0.9"/>
<line x1="352.50" y1="546.72" x2="352.50" y2="542.16" stroke="#333" stroke-width="0.9"/>
<line x1="349.66" y1="542.50" x2="354.86" y2="542.50" stroke="#333" stroke-width="0.9"/>
<line x1="352.50" y1="546.72" x2="352.50" y2="551.27" stroke="#333" stroke-width="0.9"/>
<line x1="349.66" y1="551.50" x2="354.86" y2="551.50" stroke="#333" stroke-width="0.9"/>
<line x1="364.50" y1="550.99" x2="364.50" y2="548.54" stroke="#333" stroke-width="0.9"/>
<line x1="361.78" y1="548.50" x2="366.98" y2="548.50" stroke="#333" stroke-width="0.9"/>
<line x1="364.50" y1="550.99" x2="364.50" y2="553.45" stroke="#333" stroke-width="0.9"/>
<line x1="361.78" y1="553.50" x2="366.98" y2="553.50" stroke="#333" stroke-width="0.9"/>
<line x1="376.50" y1="551.90" x2="376.50" y2="548.75" stroke="#333" stroke-width="0.9"/>
<line x1="373.91" y1="548.50" x2="379.11" y2="548.50" stroke="#333" stroke-width="0.9"/>
<line x1="376.50" y1="551.90" x2="376.50" y2="555.06" stroke="#333" stroke-width="0.9"/>
<line x1="373.91" y1="555.50" x2="379.11" y2="555.50" stroke="#333" stroke-width="0.9"/>
<line x1="388.50" y1="552.50" x2="388.50" y2="548.65" stroke="#333" stroke-width="0.9"/>
<line x1="386.03" y1="548.50" x2="391.23" y2="548.50" stroke="#333" stroke-width="0.9"/>
<line x1="388.50" y1="552.50" x2="388.50" y2="556.35" stroke="#333" stroke-width="0.9"/>
<line x1="386.03" y1="556.50" x2="391.23" y2="556.50" stroke="#333" stroke-width="0.9"/>
<line x1="400.50" y1="554.01" x2="400.50" y2="551.20" stroke="#333" stroke-width="0.9"/>
<line x1="398.15" y1="551.50" x2="403.35" y2="551.50" stroke="#333" stroke-width="0.9"/>
<line x1="400.50" y1="554.01" x2="400.50" y2="556.81" stroke="#333" stroke-width="0.9"/>
<line x1="398.15" y1="556.50" x2="403.35" y2="556.50" stroke="#333" stroke-width="0.9"/>
<line x1="412.50" y1="550.99" x2="412.50" y2="547.49" stroke="#333" stroke-width="0.9"/>
<line x1="410.28" y1="547.50" x2="415.48" y2="547.50" stroke="#333" stroke-width="0.9"/>
<line x1="412.50" y1="550.99" x2="412.50" y2="554.50" stroke="#333" stroke-width="0.9"/>
<line x1="410.28" y1="554.50" x2="415.48" y2="554.50" stroke="#333" stroke-width="0.9"/>
<line x1="279.50" y1="525.80" x2="279.50" y2="522.30" stroke="#333" stroke-width="0.9"/>
<line x1="276.92" y1="522.50" x2="282.12" y2="522.50" stroke="#333" stroke-width="0.9"/>
<line x1="279.50" y1="525.80" x2="279.50" y2="529.31" stroke="#333" stroke-width="0.9"/>
<line x1="276.92" y1="529.50" x2="282.12" y2="529.50" stroke="#333" stroke-width="0.9"/>
<line x1="291.50" y1="506.82" x2="291.50" y2="498.06" stroke="#333" stroke-width="0.9"/>
<line x1="289.05" y1="498.50" x2="294.25" y2="498.50" stroke="#333" stroke-width="0.9"/>
<line x1="291.50" y1="506.82" x2="291.50" y2="515.57" stroke="#333" stroke-width="0.9"/>
<line x1="289.05" y1="515.50" x2="294.25" y2="515.50" stroke="#333" stroke-width="0.9"/>
<line x1="303.50" y1="517.29" x2="303.50" y2="512.04" stroke="#333" stroke-width="0.9"/>
<line x1="301.17" y1="512.50" x2="306.37" y2="512.50" stroke="#333" stroke-width="0.9"/>
<line x1="303.50" y1="517.29" x2="303.50" y2="522.55" stroke="#333" stroke-width="0.9"/>
<line x1="301.17" y1="522.50" x2="306.37" y2="522.50" stroke="#333" stroke-width="0.9"/>
<line x1="315.50" y1="526.82" x2="315.50" y2="522.27" stroke="#333" stroke-width="0.9"/>
<line x1="313.29" y1="522.50" x2="318.49" y2="522.50" stroke="#333" stroke-width="0.9"/>
<line x1="315.50" y1="526.82" x2="315.50" y2="531.37" stroke="#333" stroke-width="0.9"/>
<line x1="313.29" y1="531.50" x2="318.49" y2="531.50" stroke="#333" stroke-width="0.9"/>
<line x1="328.50" y1="528.01" x2="328.50" y2="522.76" stroke="#333" stroke-width="0.9"/>
<line x1="325.42" y1="522.50" x2="330.62" y2="522.50" stroke="#333" stroke-width="0.9"/>
<line x1="328.50" y1="528.01" x2="328.50" y2="533.27" stroke="#333" stroke-width="0.9"/>
<line x1="325.42" y1="533.50" x2="330.62" y2="533.50" stroke="#333" stroke-width="0.9"/>
<line x1="340.50" y1="532.01" x2="340.50" y2="526.75" stroke="#333" stroke-width="0.9"/>
<line x1="337.54" y1="526.50" x2="342.74" y2="526.50" stroke="#333" stroke-width="0.9"/>
<line x1="340.50" y1="532.01" x2="340.50" y2="537.26" stroke="#333" stroke-width="0.9"/>
<line x1="337.54" y1="537.50" x2="342.74" y2="537.50" stroke="#333" stroke-width="0.9"/>
<line x1="352.50" y1="534.11" x2="352.50" y2="528.15" stroke="#333" stroke-width="0.9"/>
<line x1="349.66" y1="528.50" x2="354.86" y2="528.50" stroke="#333" stroke-width="0.9"/>
<line x1="352.50" y1="534.11" x2="352.50" y2="540.06" stroke="#333" stroke-width="0.9"/>
<line x1="349.66" y1="540.50" x2="354.86" y2="540.50" stroke="#333" stroke-width="0.9"/>
<line x1="364.50" y1="537.51" x2="364.50" y2="533.30" stroke="#333" stroke-width="0.9"/>
<line x1="361.78" y1="533.50" x2="366.98" y2="533.50" stroke="#333" stroke-width="0.9"/>
<line x1="364.50" y1="537.51" x2="364.50" y2="541.71" stroke="#333" stroke-width="0.9"/>
<line x1="361.78" y1="541.50" x2="366.98" y2="541.50" stroke="#333" stroke-width="0.9"/>
<line x1="376.50" y1="535.02" x2="376.50" y2="529.41" stroke="#333" stroke-width="0.9"/>
<line x1="373.91" y1="529.50" x2="379.11" y2="529.50" stroke="#333" stroke-width="0.9"/>
<line x1="376.50" y1="535.02" x2="376.50" y2="540.62" stroke="#333" stroke-width="0.9"/>
<line x1="373.91" y1="540.50" x2="379.11" y2="540.50" stroke="#333" stroke-width="0.9"/>
<line x1="388.50" y1="540.59" x2="388.50" y2="536.03" stroke="#333" stroke-width="0.9"/>
<line x1="386.03" y1="536.50" x2="391.23" y2="536.50" stroke="#333" stroke-width="0.9"/>
<line x1="388.50" y1="540.59" x2="388.50" y2="545.14" stroke="#333" stroke-width="0.9"/>
<line x1="386.03" y1="545.50" x2="391.23" y2="545.50" stroke="#333" stroke-width="0.9"/>
<line x1="400.50" y1="545.81" x2="400.50" y2="542.31" stroke="#333" stroke-width="0.9"/>
<line x1="398.15" y1="542.50" x2="403.35" y2="542.50" stroke="#333" stroke-width="0.9"/>
<line x1="400.50" y1="545.81" x2="400.50" y2="549.31" stroke="#333" stroke-width="0.9"/>
<line x1="398.15" y1="549.50" x2="403.35" y2="549.50" stroke="#333" stroke-width="0.9"/>
<line x1="412.50" y1="537.51" x2="412.50" y2="531.90" stroke="#333" stroke-width="0.9"/>
<line x1="410.28" y1="531.50" x2="415.48" y2="531.50" stroke="#333" stroke-width="0.9"/>
<line x1="412.50" y1="537.51" x2="412.50" y2="543.11" stroke="#333" stroke-width="0.9"/>
<line x1="410.28" y1="543.50" x2="415.48" y2="543.50" stroke="#333" stroke-width="0.9"/>
<line x1="279.50" y1="508.01" x2="279.50" y2="502.40" stroke="#333" stroke-width="0.9"/>
<line x1="276.92" y1="502.50" x2="282.12" y2="502.50" stroke="#333" stroke-width="0.9"/>
<line x1="279.50" y1="508.01" x2="279.50" y2="513.61" stroke="#333" stroke-width="0.9"/>
<line x1="276.92" y1="513.50" x2="282.12" y2="513.50" stroke="#333" stroke-width="0.9"/>
<line x1="291.50" y1="481.42" x2="291.50" y2="471.61" stroke="#333" stroke-width="0.9"/>
<line x1="289.05" y1="471.50" x2="294.25" y2="471.50" stroke="#333" stroke-width="0.9"/>
<line x1="291.50" y1="481.42" x2="291.50" y2="491.23" stroke="#333" stroke-width="0.9"/>
<line x1="289.05" y1="491.50" x2="294.25" y2="491.50" stroke="#333" stroke-width="0.9"/>
<line x1="303.50" y1="493.61" x2="303.50" y2="485.55" stroke="#333" stroke-width="0.9"/>
<line x1="301.17" y1="485.50" x2="306.37" y2="485.50" stroke="#333" stroke-width="0.9"/>
<line x1="303.50" y1="493.61" x2="303.50" y2="501.67" stroke="#333" stroke-width="0.9"/>
<line x1="301.17" y1="501.50" x2="306.37" y2="501.50" stroke="#333" stroke-width="0.9"/>
<line x1="315.50" y1="509.90" x2="315.50" y2="503.94" stroke="#333" stroke-width="0.9"/>
<line x1="313.29" y1="503.50" x2="318.49" y2="503.50" stroke="#333" stroke-width="0.9"/>
<line x1="315.50" y1="509.90" x2="315.50" y2="515.85" stroke="#333" stroke-width="0.9"/>
<line x1="313.29" y1="515.50" x2="318.49" y2="515.50" stroke="#333" stroke-width="0.9"/>
<line x1="328.50" y1="504.99" x2="328.50" y2="497.99" stroke="#333" stroke-width="0.9"/>
<line x1="325.42" y1="497.50" x2="330.62" y2="497.50" stroke="#333" stroke-width="0.9"/>
<line x1="328.50" y1="504.99" x2="328.50" y2="512.00" stroke="#333" stroke-width="0.9"/>
<line x1="325.42" y1="512.50" x2="330.62" y2="512.50" stroke="#333" stroke-width="0.9"/>
<line x1="340.50" y1="512.70" x2="340.50" y2="505.70" stroke="#333" stroke-width="0.9"/>
<line x1="337.54" y1="505.50" x2="342.74" y2="505.50" stroke="#333" stroke-width="0.9"/>
<line x1="340.50" y1="512.70" x2="340.50" y2="519.71" stroke="#333" stroke-width="0.9"/>
<line x1="337.54" y1="519.50" x2="342.74" y2="519.50" stroke="#333" stroke-width="0.9"/>
<line x1="352.50" y1="512.70" x2="352.50" y2="504.64" stroke="#333" stroke-width="0.9"/>
<line x1="349.66" y1="504.50" x2="354.86" y2="504.50" stroke="#333" stroke-width="0.9"/>
<line x1="352.50" y1="512.70" x2="352.50" y2="520.76" stroke="#333" stroke-width="0.9"/>
<line x1="349.66" y1="520.50" x2="354.86" y2="520.50" stroke="#333" stroke-width="0.9"/>
<line x1="364.50" y1="511.09" x2="364.50" y2="503.73" stroke="#333" stroke-width="0.9"/>
<line x1="361.78" y1="503.50" x2="366.98" y2="503.50" stroke="#333" stroke-width="0.9"/>
<line x1="364.50" y1="511.09" x2="364.50" y2="518.45" stroke="#333" stroke-width="0.9"/>
<line x1="361.78" y1="518.50" x2="366.98" y2="518.50" stroke="#333" stroke-width="0.9"/>
<line x1="376.50" y1="515.08" x2="376.50" y2="509.13" stroke="#333" stroke-width="0.9"/>
<line x1="373.91" y1="509.50" x2="379.11" y2="509.50" stroke="#333" stroke-width="0.9"/>
<line x1="376.50" y1="515.08" x2="376.50" y2="521.04" stroke="#333" stroke-width="0.9"/>
<line x1="373.91" y1="521.50" x2="379.11" y2="521.50" stroke="#333" stroke-width="0.9"/>
<line x1="388.50" y1="520.30" x2="388.50" y2="515.05" stroke="#333" stroke-width="0.9"/>
<line x1="386.03" y1="515.50" x2="391.23" y2="515.50" stroke="#333" stroke-width="0.9"/>
<line x1="388.50" y1="520.30" x2="388.50" y2="525.56" stroke="#333" stroke-width="0.9"/>
<line x1="386.03" y1="525.50" x2="391.23" y2="525.50" stroke="#333" stroke-width="0.9"/>
<line x1="400.50" y1="527.42" x2="400.50" y2="522.86" stroke="#333" stroke-width="0.9"/>
<line x1="398.15" y1="522.50" x2="403.35" y2="522.50" stroke="#333" stroke-width="0.9"/>
<line x1="400.50" y1="527.42" x2="400.50" y2="531.97" stroke="#333" stroke-width="0.9"/>
<line x1="398.15" y1="531.50" x2="403.35" y2="531.50" stroke="#333" stroke-width="0.9"/>
<line x1="412.50" y1="528.92" x2="412.50" y2="523.32" stroke="#333" stroke-width="0.9"/>
<line x1="410.28" y1="523.50" x2="415.48" y2="523.50" stroke="#333" stroke-width="0.9"/>
<line x1="412.50" y1="528.92" x2="412.50" y2="534.53" stroke="#333" stroke-width="0.9"/>
<line x1="410.28" y1="534.50" x2="415.48" y2="534.50" stroke="#333" stroke-width="0.9"/>
<polyline points="279.52,539.61 291.65,535.61 303.77,540.59 315.89,539.01 328.02,546.40 340.14,547.91 352.26,546.72 364.38,547.91 376.51,551.90 388.63,552.82 400.75,548.79 412.88,554.99" fill="none" stroke="#2a2a2a" stroke-width="0.7"/>
<polyline points="279.52,529.80 291.65,529.80 303.77,526.40 315.89,531.41 328.02,539.01 340.14,547.31 352.26,546.72 364.38,550.99 376.51,551.90 388.63,552.50 400.75,554.01 412.88,550.99" fill="none" stroke="#2a2a2a" stroke-width="0.7"/>
<polyline points="279.52,525.80 291.65,506.82 303.77,517.29 315.89,526.82 328.02,528.01 340.14,532.01 352.26,534.11 364.38,537.51 376.51,535.02 388.63,540.59 400.75,545.81 412.88,537.51" fill="none" stroke="#2a2a2a" stroke-width="0.7"/>
<polyline points="279.52,508.01 291.65,481.42 303.77,493.61 315.89,509.90 328.02,504.99 340.14,512.70 352.26,512.70 364.38,511.09 376.51,515.08 388.63,520.30 400.75,527.42 412.88,528.92" fill="none" stroke="#2a2a2a" stroke-width="0.7"/>
<polygon points="277.02,524.20 282.02,524.20 279.52,528.50" fill="#000" stroke="#000" stroke-width="0.85" stroke-linejoin="miter"/>
<polygon points="289.15,505.22 294.15,505.22 291.65,509.52" fill="#000" stroke="#000" stroke-width="0.85" stroke-linejoin="miter"/>
<polygon points="301.27,515.69 306.27,515.69 303.77,519.99" fill="#000" stroke="#000" stroke-width="0.85" stroke-linejoin="miter"/>
<polygon points="313.39,525.22 318.39,525.22 315.89,529.52" fill="#000" stroke="#000" stroke-width="0.85" stroke-linejoin="miter"/>
<polygon points="325.52,526.41 330.52,526.41 328.02,530.71" fill="#000" stroke="#000" stroke-width="0.85" stroke-linejoin="miter"/>
<polygon points="337.64,530.41 342.64,530.41 340.14,534.71" fill="#000" stroke="#000" stroke-width="0.85" stroke-linejoin="miter"/>
<polygon points="349.76,532.51 354.76,532.51 352.26,536.81" fill="#000" stroke="#000" stroke-width="0.85" stroke-linejoin="miter"/>
<polygon points="361.88,535.91 366.88,535.91 364.38,540.21" fill="#000" stroke="#000" stroke-width="0.85" stroke-linejoin="miter"/>
<polygon points="374.01,533.42 379.01,533.42 376.51,537.72" fill="#000" stroke="#000" stroke-width="0.85" stroke-linejoin="miter"/>
<polygon points="386.13,538.99 391.13,538.99 388.63,543.29" fill="#000" stroke="#000" stroke-width="0.85" stroke-linejoin="miter"/>
<polygon points="398.25,544.21 403.25,544.21 400.75,548.51" fill="#000" stroke="#000" stroke-width="0.85" stroke-linejoin="miter"/>
<polygon points="410.38,535.91 415.38,535.91 412.88,540.21" fill="#000" stroke="#000" stroke-width="0.85" stroke-linejoin="miter"/>
<polygon points="277.02,506.41 282.02,506.41 279.52,510.71" fill="#fff" stroke="#000" stroke-width="0.7" stroke-linejoin="miter"/>
<polygon points="289.15,479.82 294.15,479.82 291.65,484.12" fill="#fff" stroke="#000" stroke-width="0.7" stroke-linejoin="miter"/>
<polygon points="301.27,492.01 306.27,492.01 303.77,496.31" fill="#fff" stroke="#000" stroke-width="0.7" stroke-linejoin="miter"/>
<polygon points="313.39,508.30 318.39,508.30 315.89,512.60" fill="#fff" stroke="#000" stroke-width="0.7" stroke-linejoin="miter"/>
<polygon points="325.52,503.39 330.52,503.39 328.02,507.69" fill="#fff" stroke="#000" stroke-width="0.7" stroke-linejoin="miter"/>
<polygon points="337.64,511.10 342.64,511.10 340.14,515.40" fill="#fff" stroke="#000" stroke-width="0.7" stroke-linejoin="miter"/>
<polygon points="349.76,511.10 354.76,511.10 352.26,515.40" fill="#fff" stroke="#000" stroke-width="0.7" stroke-linejoin="miter"/>
<polygon points="361.88,509.49 366.88,509.49 364.38,513.79" fill="#fff" stroke="#000" stroke-width="0.7" stroke-linejoin="miter"/>
<polygon points="374.01,513.48 379.01,513.48 376.51,517.78" fill="#fff" stroke="#000" stroke-width="0.7" stroke-linejoin="miter"/>
<polygon points="386.13,518.70 391.13,518.70 388.63,523.00" fill="#fff" stroke="#000" stroke-width="0.7" stroke-linejoin="miter"/>
<polygon points="398.25,525.82 403.25,525.82 400.75,530.12" fill="#fff" stroke="#000" stroke-width="0.7" stroke-linejoin="miter"/>
<polygon points="410.38,527.32 415.38,527.32 412.88,531.62" fill="#fff" stroke="#000" stroke-width="0.7" stroke-linejoin="miter"/>
<circle cx="279.52" cy="539.61" r="2.58" fill="#000" stroke="#000" stroke-width="0.85"/>
<circle cx="291.65" cy="535.61" r="2.58" fill="#000" stroke="#000" stroke-width="0.85"/>
<circle cx="303.77" cy="540.59" r="2.58" fill="#000" stroke="#000" stroke-width="0.85"/>
<circle cx="315.89" cy="539.01" r="2.58" fill="#000" stroke="#000" stroke-width="0.85"/>
<circle cx="328.02" cy="546.40" r="2.58" fill="#000" stroke="#000" stroke-width="0.85"/>
<circle cx="340.14" cy="547.91" r="2.58" fill="#000" stroke="#000" stroke-width="0.85"/>
<circle cx="352.26" cy="546.72" r="2.58" fill="#000" stroke="#000" stroke-width="0.85"/>
<circle cx="364.38" cy="547.91" r="2.58" fill="#000" stroke="#000" stroke-width="0.85"/>
<circle cx="376.51" cy="551.90" r="2.58" fill="#000" stroke="#000" stroke-width="0.85"/>
<circle cx="388.63" cy="552.82" r="2.58" fill="#000" stroke="#000" stroke-width="0.85"/>
<circle cx="400.75" cy="548.79" r="2.58" fill="#000" stroke="#000" stroke-width="0.85"/>
<circle cx="412.88" cy="554.99" r="2.58" fill="#000" stroke="#000" stroke-width="0.85"/>
<circle cx="279.52" cy="529.80" r="2.58" fill="#fff" stroke="#000" stroke-width="0.7"/>
<circle cx="291.65" cy="529.80" r="2.58" fill="#fff" stroke="#000" stroke-width="0.7"/>
<circle cx="303.77" cy="526.40" r="2.58" fill="#fff" stroke="#000" stroke-width="0.7"/>
<circle cx="315.89" cy="531.41" r="2.58" fill="#fff" stroke="#000" stroke-width="0.7"/>
<circle cx="328.02" cy="539.01" r="2.58" fill="#fff" stroke="#000" stroke-width="0.7"/>
<circle cx="340.14" cy="547.31" r="2.58" fill="#fff" stroke="#000" stroke-width="0.7"/>
<circle cx="352.26" cy="546.72" r="2.58" fill="#fff" stroke="#000" stroke-width="0.7"/>
<circle cx="364.38" cy="550.99" r="2.58" fill="#fff" stroke="#000" stroke-width="0.7"/>
<circle cx="376.51" cy="551.90" r="2.58" fill="#fff" stroke="#000" stroke-width="0.7"/>
<circle cx="388.63" cy="552.50" r="2.58" fill="#fff" stroke="#000" stroke-width="0.7"/>
<circle cx="400.75" cy="554.01" r="2.58" fill="#fff" stroke="#000" stroke-width="0.7"/>
<circle cx="412.88" cy="550.99" r="2.58" fill="#fff" stroke="#000" stroke-width="0.7"/>
<text transform="translate(459.90 373.15) scale(0.99 1)" font-size="21.6" fill="#000">G</text>
<circle cx="484.2" cy="392.0" r="8.3" fill="none" stroke="#000" stroke-width="1.7"/>
<line x1="484.2" y1="400.3" x2="484.2" y2="414.8" stroke="#000" stroke-width="1.7"/>
<line x1="479.2" y1="407.1" x2="489.2" y2="407.1" stroke="#000" stroke-width="1.7"/>
<line x1="500.80" y1="415.30" x2="512.00" y2="415.30" stroke="#222" stroke-width="0.8"/>
<circle cx="506.40" cy="415.30" r="2.30" fill="#000" stroke="#000" stroke-width="0.85"/>
<text x="518.10" y="417.78" font-size="6.9" text-anchor="start" font-weight="normal" fill="#1e1e1e" stroke="#1e1e1e" stroke-width="0.12">WT Veh</text>
<line x1="500.80" y1="426.50" x2="512.00" y2="426.50" stroke="#222" stroke-width="0.8"/>
<polygon points="504.02,425.58 508.77,425.58 506.40,429.67" fill="#000" stroke="#000" stroke-width="0.85" stroke-linejoin="miter"/>
<text x="518.10" y="429.68" font-size="6.9" text-anchor="start" font-weight="normal" fill="#1e1e1e" stroke="#1e1e1e" stroke-width="0.12">WT caffeine, 7.5mg/kg</text>
<line x1="595.30" y1="415.30" x2="606.90" y2="415.30" stroke="#222" stroke-width="0.8"/>
<circle cx="601.10" cy="415.30" r="2.69" fill="#fff" stroke="#000" stroke-width="0.7"/>
<text x="612.80" y="417.78" font-size="6.9" text-anchor="start" font-weight="normal" fill="#1e1e1e" stroke="#1e1e1e" stroke-width="0.12">KO Veh</text>
<line x1="595.30" y1="427.00" x2="606.90" y2="427.00" stroke="#222" stroke-width="0.8"/>
<polygon points="598.35,426.54 603.85,426.54 601.10,431.27" fill="#fff" stroke="#000" stroke-width="0.7" stroke-linejoin="miter"/>
<text x="612.80" y="429.78" font-size="6.9" text-anchor="start" font-weight="normal" fill="#1e1e1e" stroke="#1e1e1e" stroke-width="0.12">KO caffeine, 7.5mg/kg</text>
<line x1="518.50" y1="558.30" x2="518.50" y2="453.20" stroke="#5a5a5a" stroke-width="0.9"/>
<line x1="515.70" y1="558.50" x2="518.50" y2="558.50" stroke="#5a5a5a" stroke-width="0.9"/>
<text x="514.10" y="561.00" font-size="7.6" text-anchor="end" font-weight="normal" fill="#2a2a2a" stroke="#2a2a2a" stroke-width="0.2">0</text>
<line x1="515.70" y1="540.50" x2="518.50" y2="540.50" stroke="#5a5a5a" stroke-width="0.9"/>
<text x="514.10" y="544.00" font-size="7.6" text-anchor="end" font-weight="normal" fill="#2a2a2a" stroke="#2a2a2a" stroke-width="0.2">500</text>
<line x1="515.70" y1="523.50" x2="518.50" y2="523.50" stroke="#5a5a5a" stroke-width="0.9"/>
<text x="514.10" y="526.00" font-size="7.6" text-anchor="end" font-weight="normal" fill="#2a2a2a" stroke="#2a2a2a" stroke-width="0.2">1000</text>
<line x1="515.70" y1="505.50" x2="518.50" y2="505.50" stroke="#5a5a5a" stroke-width="0.9"/>
<text x="514.10" y="509.00" font-size="7.6" text-anchor="end" font-weight="normal" fill="#2a2a2a" stroke="#2a2a2a" stroke-width="0.2">1500</text>
<line x1="515.70" y1="488.50" x2="518.50" y2="488.50" stroke="#5a5a5a" stroke-width="0.9"/>
<text x="514.10" y="491.00" font-size="7.6" text-anchor="end" font-weight="normal" fill="#2a2a2a" stroke="#2a2a2a" stroke-width="0.2">2000</text>
<line x1="515.70" y1="470.50" x2="518.50" y2="470.50" stroke="#5a5a5a" stroke-width="0.9"/>
<text x="514.10" y="474.00" font-size="7.6" text-anchor="end" font-weight="normal" fill="#2a2a2a" stroke="#2a2a2a" stroke-width="0.2">2500</text>
<line x1="515.70" y1="453.50" x2="518.50" y2="453.50" stroke="#5a5a5a" stroke-width="0.9"/>
<text x="514.10" y="456.00" font-size="7.6" text-anchor="end" font-weight="normal" fill="#2a2a2a" stroke="#2a2a2a" stroke-width="0.2">3000</text>
<line x1="517.30" y1="549.50" x2="518.50" y2="549.50" stroke="#5a5a5a" stroke-width="0.8"/>
<line x1="517.30" y1="532.50" x2="518.50" y2="532.50" stroke="#5a5a5a" stroke-width="0.8"/>
<line x1="517.30" y1="514.50" x2="518.50" y2="514.50" stroke="#5a5a5a" stroke-width="0.8"/>
<line x1="517.30" y1="496.50" x2="518.50" y2="496.50" stroke="#5a5a5a" stroke-width="0.8"/>
<line x1="517.30" y1="479.50" x2="518.50" y2="479.50" stroke="#5a5a5a" stroke-width="0.8"/>
<line x1="517.30" y1="461.50" x2="518.50" y2="461.50" stroke="#5a5a5a" stroke-width="0.8"/>
<line x1="518.50" y1="558.50" x2="676.50" y2="558.50" stroke="#5a5a5a" stroke-width="0.9"/>
<line x1="518.50" y1="558.30" x2="518.50" y2="560.30" stroke="#5a5a5a" stroke-width="0.9"/>
<text x="518.50" y="568.20" font-size="6.0" text-anchor="middle" font-weight="normal" fill="#2a2a2a" stroke="#2a2a2a" stroke-width="0.15">0</text>
<line x1="530.50" y1="558.30" x2="530.50" y2="560.30" stroke="#5a5a5a" stroke-width="0.9"/>
<text x="530.65" y="568.20" font-size="6.0" text-anchor="middle" font-weight="normal" fill="#2a2a2a" stroke="#2a2a2a" stroke-width="0.15">10</text>
<line x1="542.50" y1="558.30" x2="542.50" y2="560.30" stroke="#5a5a5a" stroke-width="0.9"/>
<text x="542.81" y="568.20" font-size="6.0" text-anchor="middle" font-weight="normal" fill="#2a2a2a" stroke="#2a2a2a" stroke-width="0.15">20</text>
<line x1="554.50" y1="558.30" x2="554.50" y2="560.30" stroke="#5a5a5a" stroke-width="0.9"/>
<text x="554.96" y="568.20" font-size="6.0" text-anchor="middle" font-weight="normal" fill="#2a2a2a" stroke="#2a2a2a" stroke-width="0.15">30</text>
<line x1="567.50" y1="558.30" x2="567.50" y2="560.30" stroke="#5a5a5a" stroke-width="0.9"/>
<text x="567.12" y="568.20" font-size="6.0" text-anchor="middle" font-weight="normal" fill="#2a2a2a" stroke="#2a2a2a" stroke-width="0.15">40</text>
<line x1="579.50" y1="558.30" x2="579.50" y2="560.30" stroke="#5a5a5a" stroke-width="0.9"/>
<text x="579.27" y="568.20" font-size="6.0" text-anchor="middle" font-weight="normal" fill="#2a2a2a" stroke="#2a2a2a" stroke-width="0.15">50</text>
<line x1="591.50" y1="558.30" x2="591.50" y2="560.30" stroke="#5a5a5a" stroke-width="0.9"/>
<text x="591.42" y="568.20" font-size="6.0" text-anchor="middle" font-weight="normal" fill="#2a2a2a" stroke="#2a2a2a" stroke-width="0.15">60</text>
<line x1="603.50" y1="558.30" x2="603.50" y2="560.30" stroke="#5a5a5a" stroke-width="0.9"/>
<text x="603.58" y="568.20" font-size="6.0" text-anchor="middle" font-weight="normal" fill="#2a2a2a" stroke="#2a2a2a" stroke-width="0.15">70</text>
<line x1="615.50" y1="558.30" x2="615.50" y2="560.30" stroke="#5a5a5a" stroke-width="0.9"/>
<text x="615.73" y="568.20" font-size="6.0" text-anchor="middle" font-weight="normal" fill="#2a2a2a" stroke="#2a2a2a" stroke-width="0.15">80</text>
<line x1="627.50" y1="558.30" x2="627.50" y2="560.30" stroke="#5a5a5a" stroke-width="0.9"/>
<text x="627.88" y="568.20" font-size="6.0" text-anchor="middle" font-weight="normal" fill="#2a2a2a" stroke="#2a2a2a" stroke-width="0.15">90</text>
<line x1="640.50" y1="558.30" x2="640.50" y2="560.30" stroke="#5a5a5a" stroke-width="0.9"/>
<text x="640.04" y="568.20" font-size="6.0" text-anchor="middle" font-weight="normal" fill="#2a2a2a" stroke="#2a2a2a" stroke-width="0.15">100</text>
<line x1="652.50" y1="558.30" x2="652.50" y2="560.30" stroke="#5a5a5a" stroke-width="0.9"/>
<text x="652.19" y="568.20" font-size="6.0" text-anchor="middle" font-weight="normal" fill="#2a2a2a" stroke="#2a2a2a" stroke-width="0.15">110</text>
<line x1="664.50" y1="558.30" x2="664.50" y2="560.30" stroke="#5a5a5a" stroke-width="0.9"/>
<text x="664.35" y="568.20" font-size="6.0" text-anchor="middle" font-weight="normal" fill="#2a2a2a" stroke="#2a2a2a" stroke-width="0.15">120</text>
<line x1="676.50" y1="558.30" x2="676.50" y2="560.30" stroke="#5a5a5a" stroke-width="0.9"/>
<text x="676.50" y="568.20" font-size="6.0" text-anchor="middle" font-weight="normal" fill="#2a2a2a" stroke="#2a2a2a" stroke-width="0.15">130</text>
<text transform="translate(489.90 505.80) rotate(-90) scale(1 0.78)" font-size="8.72" text-anchor="middle" font-weight="bold" fill="#1e1e1e" stroke="#1e1e1e" stroke-width="0.1" dominant-baseline="central">Travelled distance (cm)</text>
<text x="597.60" y="580.00" font-size="8.4" text-anchor="middle" font-weight="bold" fill="#1e1e1e">time (min)</text>
<line x1="530.50" y1="521.62" x2="530.50" y2="516.37" stroke="#333" stroke-width="0.9"/>
<line x1="528.05" y1="516.50" x2="533.25" y2="516.50" stroke="#333" stroke-width="0.9"/>
<line x1="530.50" y1="521.62" x2="530.50" y2="526.88" stroke="#333" stroke-width="0.9"/>
<line x1="528.05" y1="526.50" x2="533.25" y2="526.50" stroke="#333" stroke-width="0.9"/>
<line x1="542.50" y1="538.89" x2="542.50" y2="533.29" stroke="#333" stroke-width="0.9"/>
<line x1="540.21" y1="533.50" x2="545.41" y2="533.50" stroke="#333" stroke-width="0.9"/>
<line x1="542.50" y1="538.89" x2="542.50" y2="544.50" stroke="#333" stroke-width="0.9"/>
<line x1="540.21" y1="544.50" x2="545.41" y2="544.50" stroke="#333" stroke-width="0.9"/>
<line x1="554.50" y1="551.40" x2="554.50" y2="548.60" stroke="#333" stroke-width="0.9"/>
<line x1="552.36" y1="548.50" x2="557.56" y2="548.50" stroke="#333" stroke-width="0.9"/>
<line x1="554.50" y1="551.40" x2="554.50" y2="554.20" stroke="#333" stroke-width="0.9"/>
<line x1="552.36" y1="554.50" x2="557.56" y2="554.50" stroke="#333" stroke-width="0.9"/>
<line x1="567.50" y1="547.30" x2="567.50" y2="542.75" stroke="#333" stroke-width="0.9"/>
<line x1="564.52" y1="542.50" x2="569.72" y2="542.50" stroke="#333" stroke-width="0.9"/>
<line x1="567.50" y1="547.30" x2="567.50" y2="551.85" stroke="#333" stroke-width="0.9"/>
<line x1="564.52" y1="551.50" x2="569.72" y2="551.50" stroke="#333" stroke-width="0.9"/>
<line x1="579.50" y1="549.89" x2="579.50" y2="546.74" stroke="#333" stroke-width="0.9"/>
<line x1="576.67" y1="546.50" x2="581.87" y2="546.50" stroke="#333" stroke-width="0.9"/>
<line x1="579.50" y1="549.89" x2="579.50" y2="553.04" stroke="#333" stroke-width="0.9"/>
<line x1="576.67" y1="553.50" x2="581.87" y2="553.50" stroke="#333" stroke-width="0.9"/>
<line x1="591.50" y1="550.49" x2="591.50" y2="546.98" stroke="#333" stroke-width="0.9"/>
<line x1="588.82" y1="546.50" x2="594.02" y2="546.50" stroke="#333" stroke-width="0.9"/>
<line x1="591.50" y1="550.49" x2="591.50" y2="553.99" stroke="#333" stroke-width="0.9"/>
<line x1="588.82" y1="553.50" x2="594.02" y2="553.50" stroke="#333" stroke-width="0.9"/>
<line x1="603.50" y1="553.61" x2="603.50" y2="551.15" stroke="#333" stroke-width="0.9"/>
<line x1="600.98" y1="551.50" x2="606.18" y2="551.50" stroke="#333" stroke-width="0.9"/>
<line x1="603.50" y1="553.61" x2="603.50" y2="556.06" stroke="#333" stroke-width="0.9"/>
<line x1="600.98" y1="556.50" x2="606.18" y2="556.50" stroke="#333" stroke-width="0.9"/>
<line x1="615.50" y1="551.40" x2="615.50" y2="549.30" stroke="#333" stroke-width="0.9"/>
<line x1="613.13" y1="549.50" x2="618.33" y2="549.50" stroke="#333" stroke-width="0.9"/>
<line x1="615.50" y1="551.40" x2="615.50" y2="553.50" stroke="#333" stroke-width="0.9"/>
<line x1="613.13" y1="553.50" x2="618.33" y2="553.50" stroke="#333" stroke-width="0.9"/>
<line x1="627.50" y1="556.79" x2="627.50" y2="555.04" stroke="#333" stroke-width="0.9"/>
<line x1="625.28" y1="555.50" x2="630.48" y2="555.50" stroke="#333" stroke-width="0.9"/>
<line x1="627.50" y1="556.79" x2="627.50" y2="558.55" stroke="#333" stroke-width="0.9"/>
<line x1="625.28" y1="558.50" x2="630.48" y2="558.50" stroke="#333" stroke-width="0.9"/>
<line x1="640.50" y1="551.40" x2="640.50" y2="547.90" stroke="#333" stroke-width="0.9"/>
<line x1="637.44" y1="547.50" x2="642.64" y2="547.50" stroke="#333" stroke-width="0.9"/>
<line x1="640.50" y1="551.40" x2="640.50" y2="554.90" stroke="#333" stroke-width="0.9"/>
<line x1="637.44" y1="554.50" x2="642.64" y2="554.50" stroke="#333" stroke-width="0.9"/>
<line x1="652.50" y1="551.99" x2="652.50" y2="548.14" stroke="#333" stroke-width="0.9"/>
<line x1="649.59" y1="548.50" x2="654.79" y2="548.50" stroke="#333" stroke-width="0.9"/>
<line x1="652.50" y1="551.99" x2="652.50" y2="555.85" stroke="#333" stroke-width="0.9"/>
<line x1="649.59" y1="555.50" x2="654.79" y2="555.50" stroke="#333" stroke-width="0.9"/>
<line x1="664.50" y1="554.90" x2="664.50" y2="552.80" stroke="#333" stroke-width="0.9"/>
<line x1="661.75" y1="552.50" x2="666.95" y2="552.50" stroke="#333" stroke-width="0.9"/>
<line x1="664.50" y1="554.90" x2="664.50" y2="557.00" stroke="#333" stroke-width="0.9"/>
<line x1="661.75" y1="557.50" x2="666.95" y2="557.50" stroke="#333" stroke-width="0.9"/>
<line x1="530.50" y1="507.50" x2="530.50" y2="500.50" stroke="#333" stroke-width="0.9"/>
<line x1="528.05" y1="500.50" x2="533.25" y2="500.50" stroke="#333" stroke-width="0.9"/>
<line x1="530.50" y1="507.50" x2="530.50" y2="514.51" stroke="#333" stroke-width="0.9"/>
<line x1="528.05" y1="514.50" x2="533.25" y2="514.50" stroke="#333" stroke-width="0.9"/>
<line x1="542.50" y1="523.20" x2="542.50" y2="513.39" stroke="#333" stroke-width="0.9"/>
<line x1="540.21" y1="513.50" x2="545.41" y2="513.50" stroke="#333" stroke-width="0.9"/>
<line x1="542.50" y1="523.20" x2="542.50" y2="533.01" stroke="#333" stroke-width="0.9"/>
<line x1="540.21" y1="533.50" x2="545.41" y2="533.50" stroke="#333" stroke-width="0.9"/>
<line x1="554.50" y1="541.10" x2="554.50" y2="533.39" stroke="#333" stroke-width="0.9"/>
<line x1="552.36" y1="533.50" x2="557.56" y2="533.50" stroke="#333" stroke-width="0.9"/>
<line x1="554.50" y1="541.10" x2="554.50" y2="548.81" stroke="#333" stroke-width="0.9"/>
<line x1="552.36" y1="548.50" x2="557.56" y2="548.50" stroke="#333" stroke-width="0.9"/>
<line x1="567.50" y1="542.01" x2="567.50" y2="536.40" stroke="#333" stroke-width="0.9"/>
<line x1="564.52" y1="536.50" x2="569.72" y2="536.50" stroke="#333" stroke-width="0.9"/>
<line x1="567.50" y1="542.01" x2="567.50" y2="547.61" stroke="#333" stroke-width="0.9"/>
<line x1="564.52" y1="547.50" x2="569.72" y2="547.50" stroke="#333" stroke-width="0.9"/>
<line x1="579.50" y1="544.50" x2="579.50" y2="540.64" stroke="#333" stroke-width="0.9"/>
<line x1="576.67" y1="540.50" x2="581.87" y2="540.50" stroke="#333" stroke-width="0.9"/>
<line x1="579.50" y1="544.50" x2="579.50" y2="548.35" stroke="#333" stroke-width="0.9"/>
<line x1="576.67" y1="548.50" x2="581.87" y2="548.50" stroke="#333" stroke-width="0.9"/>
<line x1="591.50" y1="546.11" x2="591.50" y2="541.55" stroke="#333" stroke-width="0.9"/>
<line x1="588.82" y1="541.50" x2="594.02" y2="541.50" stroke="#333" stroke-width="0.9"/>
<line x1="591.50" y1="546.11" x2="591.50" y2="550.66" stroke="#333" stroke-width="0.9"/>
<line x1="588.82" y1="550.50" x2="594.02" y2="550.50" stroke="#333" stroke-width="0.9"/>
<line x1="603.50" y1="548.32" x2="603.50" y2="544.46" stroke="#333" stroke-width="0.9"/>
<line x1="600.98" y1="544.50" x2="606.18" y2="544.50" stroke="#333" stroke-width="0.9"/>
<line x1="603.50" y1="548.32" x2="603.50" y2="552.17" stroke="#333" stroke-width="0.9"/>
<line x1="600.98" y1="552.50" x2="606.18" y2="552.50" stroke="#333" stroke-width="0.9"/>
<line x1="615.50" y1="551.40" x2="615.50" y2="549.30" stroke="#333" stroke-width="0.9"/>
<line x1="613.13" y1="549.50" x2="618.33" y2="549.50" stroke="#333" stroke-width="0.9"/>
<line x1="615.50" y1="551.40" x2="615.50" y2="553.50" stroke="#333" stroke-width="0.9"/>
<line x1="613.13" y1="553.50" x2="618.33" y2="553.50" stroke="#333" stroke-width="0.9"/>
<line x1="627.50" y1="551.40" x2="627.50" y2="547.19" stroke="#333" stroke-width="0.9"/>
<line x1="625.28" y1="547.50" x2="630.48" y2="547.50" stroke="#333" stroke-width="0.9"/>
<line x1="627.50" y1="551.40" x2="627.50" y2="555.60" stroke="#333" stroke-width="0.9"/>
<line x1="625.28" y1="555.50" x2="630.48" y2="555.50" stroke="#333" stroke-width="0.9"/>
<line x1="640.50" y1="546.11" x2="640.50" y2="542.25" stroke="#333" stroke-width="0.9"/>
<line x1="637.44" y1="542.50" x2="642.64" y2="542.50" stroke="#333" stroke-width="0.9"/>
<line x1="640.50" y1="546.11" x2="640.50" y2="549.96" stroke="#333" stroke-width="0.9"/>
<line x1="637.44" y1="549.50" x2="642.64" y2="549.50" stroke="#333" stroke-width="0.9"/>
<line x1="652.50" y1="542.99" x2="652.50" y2="537.39" stroke="#333" stroke-width="0.9"/>
<line x1="649.59" y1="537.50" x2="654.79" y2="537.50" stroke="#333" stroke-width="0.9"/>
<line x1="652.50" y1="542.99" x2="652.50" y2="548.60" stroke="#333" stroke-width="0.9"/>
<line x1="649.59" y1="548.50" x2="654.79" y2="548.50" stroke="#333" stroke-width="0.9"/>
<line x1="664.50" y1="543.90" x2="664.50" y2="539.00" stroke="#333" stroke-width="0.9"/>
<line x1="661.75" y1="538.50" x2="666.95" y2="538.50" stroke="#333" stroke-width="0.9"/>
<line x1="664.50" y1="543.90" x2="664.50" y2="548.81" stroke="#333" stroke-width="0.9"/>
<line x1="661.75" y1="548.50" x2="666.95" y2="548.50" stroke="#333" stroke-width="0.9"/>
<line x1="530.50" y1="493.42" x2="530.50" y2="488.16" stroke="#333" stroke-width="0.9"/>
<line x1="528.05" y1="488.50" x2="533.25" y2="488.50" stroke="#333" stroke-width="0.9"/>
<line x1="530.50" y1="493.42" x2="530.50" y2="498.67" stroke="#333" stroke-width="0.9"/>
<line x1="528.05" y1="498.50" x2="533.25" y2="498.50" stroke="#333" stroke-width="0.9"/>
<line x1="542.50" y1="494.89" x2="542.50" y2="488.23" stroke="#333" stroke-width="0.9"/>
<line x1="540.21" y1="488.50" x2="545.41" y2="488.50" stroke="#333" stroke-width="0.9"/>
<line x1="542.50" y1="494.89" x2="542.50" y2="501.55" stroke="#333" stroke-width="0.9"/>
<line x1="540.21" y1="501.50" x2="545.41" y2="501.50" stroke="#333" stroke-width="0.9"/>
<line x1="554.50" y1="501.20" x2="554.50" y2="494.19" stroke="#333" stroke-width="0.9"/>
<line x1="552.36" y1="494.50" x2="557.56" y2="494.50" stroke="#333" stroke-width="0.9"/>
<line x1="554.50" y1="501.20" x2="554.50" y2="508.20" stroke="#333" stroke-width="0.9"/>
<line x1="552.36" y1="508.50" x2="557.56" y2="508.50" stroke="#333" stroke-width="0.9"/>
<line x1="567.50" y1="502.81" x2="567.50" y2="495.80" stroke="#333" stroke-width="0.9"/>
<line x1="564.52" y1="495.50" x2="569.72" y2="495.50" stroke="#333" stroke-width="0.9"/>
<line x1="567.50" y1="502.81" x2="567.50" y2="509.81" stroke="#333" stroke-width="0.9"/>
<line x1="564.52" y1="509.50" x2="569.72" y2="509.50" stroke="#333" stroke-width="0.9"/>
<line x1="579.50" y1="510.58" x2="579.50" y2="503.93" stroke="#333" stroke-width="0.9"/>
<line x1="576.67" y1="503.50" x2="581.87" y2="503.50" stroke="#333" stroke-width="0.9"/>
<line x1="579.50" y1="510.58" x2="579.50" y2="517.24" stroke="#333" stroke-width="0.9"/>
<line x1="576.67" y1="517.50" x2="581.87" y2="517.50" stroke="#333" stroke-width="0.9"/>
<line x1="591.50" y1="513.81" x2="591.50" y2="506.45" stroke="#333" stroke-width="0.9"/>
<line x1="588.82" y1="506.50" x2="594.02" y2="506.50" stroke="#333" stroke-width="0.9"/>
<line x1="591.50" y1="513.81" x2="591.50" y2="521.16" stroke="#333" stroke-width="0.9"/>
<line x1="588.82" y1="521.50" x2="594.02" y2="521.50" stroke="#333" stroke-width="0.9"/>
<line x1="603.50" y1="515.31" x2="603.50" y2="509.71" stroke="#333" stroke-width="0.9"/>
<line x1="600.98" y1="509.50" x2="606.18" y2="509.50" stroke="#333" stroke-width="0.9"/>
<line x1="603.50" y1="515.31" x2="603.50" y2="520.92" stroke="#333" stroke-width="0.9"/>
<line x1="600.98" y1="520.50" x2="606.18" y2="520.50" stroke="#333" stroke-width="0.9"/>
<line x1="615.50" y1="529.50" x2="615.50" y2="523.90" stroke="#333" stroke-width="0.9"/>
<line x1="613.13" y1="523.50" x2="618.33" y2="523.50" stroke="#333" stroke-width="0.9"/>
<line x1="615.50" y1="529.50" x2="615.50" y2="535.11" stroke="#333" stroke-width="0.9"/>
<line x1="613.13" y1="535.50" x2="618.33" y2="535.50" stroke="#333" stroke-width="0.9"/>
<line x1="627.50" y1="527.89" x2="627.50" y2="521.94" stroke="#333" stroke-width="0.9"/>
<line x1="625.28" y1="521.50" x2="630.48" y2="521.50" stroke="#333" stroke-width="0.9"/>
<line x1="627.50" y1="527.89" x2="627.50" y2="533.85" stroke="#333" stroke-width="0.9"/>
<line x1="625.28" y1="533.50" x2="630.48" y2="533.50" stroke="#333" stroke-width="0.9"/>
<line x1="640.50" y1="532.59" x2="640.50" y2="526.63" stroke="#333" stroke-width="0.9"/>
<line x1="637.44" y1="526.50" x2="642.64" y2="526.50" stroke="#333" stroke-width="0.9"/>
<line x1="640.50" y1="532.59" x2="640.50" y2="538.54" stroke="#333" stroke-width="0.9"/>
<line x1="637.44" y1="538.50" x2="642.64" y2="538.50" stroke="#333" stroke-width="0.9"/>
<line x1="652.50" y1="534.20" x2="652.50" y2="529.29" stroke="#333" stroke-width="0.9"/>
<line x1="649.59" y1="529.50" x2="654.79" y2="529.50" stroke="#333" stroke-width="0.9"/>
<line x1="652.50" y1="534.20" x2="652.50" y2="539.10" stroke="#333" stroke-width="0.9"/>
<line x1="649.59" y1="539.50" x2="654.79" y2="539.50" stroke="#333" stroke-width="0.9"/>
<line x1="664.50" y1="538.89" x2="664.50" y2="534.34" stroke="#333" stroke-width="0.9"/>
<line x1="661.75" y1="534.50" x2="666.95" y2="534.50" stroke="#333" stroke-width="0.9"/>
<line x1="664.50" y1="538.89" x2="664.50" y2="543.45" stroke="#333" stroke-width="0.9"/>
<line x1="661.75" y1="543.50" x2="666.95" y2="543.50" stroke="#333" stroke-width="0.9"/>
<line x1="530.50" y1="473.90" x2="530.50" y2="465.15" stroke="#333" stroke-width="0.9"/>
<line x1="528.05" y1="465.50" x2="533.25" y2="465.50" stroke="#333" stroke-width="0.9"/>
<line x1="530.50" y1="473.90" x2="530.50" y2="482.66" stroke="#333" stroke-width="0.9"/>
<line x1="528.05" y1="482.50" x2="533.25" y2="482.50" stroke="#333" stroke-width="0.9"/>
<line x1="542.50" y1="472.29" x2="542.50" y2="463.53" stroke="#333" stroke-width="0.9"/>
<line x1="540.21" y1="463.50" x2="545.41" y2="463.50" stroke="#333" stroke-width="0.9"/>
<line x1="542.50" y1="472.29" x2="542.50" y2="481.05" stroke="#333" stroke-width="0.9"/>
<line x1="540.21" y1="481.50" x2="545.41" y2="481.50" stroke="#333" stroke-width="0.9"/>
<line x1="554.50" y1="473.90" x2="554.50" y2="464.10" stroke="#333" stroke-width="0.9"/>
<line x1="552.36" y1="464.50" x2="557.56" y2="464.50" stroke="#333" stroke-width="0.9"/>
<line x1="554.50" y1="473.90" x2="554.50" y2="483.71" stroke="#333" stroke-width="0.9"/>
<line x1="552.36" y1="483.50" x2="557.56" y2="483.50" stroke="#333" stroke-width="0.9"/>
<line x1="567.50" y1="479.19" x2="567.50" y2="469.39" stroke="#333" stroke-width="0.9"/>
<line x1="564.52" y1="469.50" x2="569.72" y2="469.50" stroke="#333" stroke-width="0.9"/>
<line x1="567.50" y1="479.19" x2="567.50" y2="489.00" stroke="#333" stroke-width="0.9"/>
<line x1="564.52" y1="489.50" x2="569.72" y2="489.50" stroke="#333" stroke-width="0.9"/>
<line x1="579.50" y1="480.21" x2="579.50" y2="469.70" stroke="#333" stroke-width="0.9"/>
<line x1="576.67" y1="469.50" x2="581.87" y2="469.50" stroke="#333" stroke-width="0.9"/>
<line x1="579.50" y1="480.21" x2="579.50" y2="490.72" stroke="#333" stroke-width="0.9"/>
<line x1="576.67" y1="490.50" x2="581.87" y2="490.50" stroke="#333" stroke-width="0.9"/>
<line x1="591.50" y1="486.10" x2="591.50" y2="475.59" stroke="#333" stroke-width="0.9"/>
<line x1="588.82" y1="475.50" x2="594.02" y2="475.50" stroke="#333" stroke-width="0.9"/>
<line x1="591.50" y1="486.10" x2="591.50" y2="496.61" stroke="#333" stroke-width="0.9"/>
<line x1="588.82" y1="496.50" x2="594.02" y2="496.50" stroke="#333" stroke-width="0.9"/>
<line x1="603.50" y1="482.38" x2="603.50" y2="472.22" stroke="#333" stroke-width="0.9"/>
<line x1="600.98" y1="472.50" x2="606.18" y2="472.50" stroke="#333" stroke-width="0.9"/>
<line x1="603.50" y1="482.38" x2="603.50" y2="492.54" stroke="#333" stroke-width="0.9"/>
<line x1="600.98" y1="492.50" x2="606.18" y2="492.50" stroke="#333" stroke-width="0.9"/>
<line x1="615.50" y1="493.42" x2="615.50" y2="483.61" stroke="#333" stroke-width="0.9"/>
<line x1="613.13" y1="483.50" x2="618.33" y2="483.50" stroke="#333" stroke-width="0.9"/>
<line x1="615.50" y1="493.42" x2="615.50" y2="503.23" stroke="#333" stroke-width="0.9"/>
<line x1="613.13" y1="503.50" x2="618.33" y2="503.50" stroke="#333" stroke-width="0.9"/>
<line x1="627.50" y1="493.42" x2="627.50" y2="483.26" stroke="#333" stroke-width="0.9"/>
<line x1="625.28" y1="483.50" x2="630.48" y2="483.50" stroke="#333" stroke-width="0.9"/>
<line x1="627.50" y1="493.42" x2="627.50" y2="503.58" stroke="#333" stroke-width="0.9"/>
<line x1="625.28" y1="503.50" x2="630.48" y2="503.50" stroke="#333" stroke-width="0.9"/>
<line x1="640.50" y1="494.01" x2="640.50" y2="484.20" stroke="#333" stroke-width="0.9"/>
<line x1="637.44" y1="484.50" x2="642.64" y2="484.50" stroke="#333" stroke-width="0.9"/>
<line x1="640.50" y1="494.01" x2="640.50" y2="503.82" stroke="#333" stroke-width="0.9"/>
<line x1="637.44" y1="503.50" x2="642.64" y2="503.50" stroke="#333" stroke-width="0.9"/>
<line x1="652.50" y1="507.50" x2="652.50" y2="499.44" stroke="#333" stroke-width="0.9"/>
<line x1="649.59" y1="499.50" x2="654.79" y2="499.50" stroke="#333" stroke-width="0.9"/>
<line x1="652.50" y1="507.50" x2="652.50" y2="515.56" stroke="#333" stroke-width="0.9"/>
<line x1="649.59" y1="515.50" x2="654.79" y2="515.50" stroke="#333" stroke-width="0.9"/>
<line x1="664.50" y1="508.10" x2="664.50" y2="499.69" stroke="#333" stroke-width="0.9"/>
<line x1="661.75" y1="499.50" x2="666.95" y2="499.50" stroke="#333" stroke-width="0.9"/>
<line x1="664.50" y1="508.10" x2="664.50" y2="516.51" stroke="#333" stroke-width="0.9"/>
<line x1="661.75" y1="516.50" x2="666.95" y2="516.50" stroke="#333" stroke-width="0.9"/>
<polyline points="530.65,521.62 542.81,538.89 554.96,551.40 567.12,547.30 579.27,549.89 591.42,550.49 603.58,553.61 615.73,551.40 627.88,556.79 640.04,551.40 652.19,551.99 664.35,554.90" fill="none" stroke="#2a2a2a" stroke-width="0.7"/>
<polyline points="530.65,507.50 542.81,523.20 554.96,541.10 567.12,542.01 579.27,544.50 591.42,546.11 603.58,548.32 615.73,551.40 627.88,551.40 640.04,546.11 652.19,542.99 664.35,543.90" fill="none" stroke="#2a2a2a" stroke-width="0.7"/>
<polyline points="530.65,493.42 542.81,494.89 554.96,501.20 567.12,502.81 579.27,510.58 591.42,513.81 603.58,515.31 615.73,529.50 627.88,527.89 640.04,532.59 652.19,534.20 664.35,538.89" fill="none" stroke="#2a2a2a" stroke-width="0.7"/>
<polyline points="530.65,473.90 542.81,472.29 554.96,473.90 567.12,479.19 579.27,480.21 591.42,486.10 603.58,482.38 615.73,493.42 627.88,493.42 640.04,494.01 652.19,507.50 664.35,508.10" fill="none" stroke="#2a2a2a" stroke-width="0.7"/>
<polygon points="528.15,491.82 533.15,491.82 530.65,496.12" fill="#000" stroke="#000" stroke-width="0.85" stroke-linejoin="miter"/>
<polygon points="540.31,493.29 545.31,493.29 542.81,497.59" fill="#000" stroke="#000" stroke-width="0.85" stroke-linejoin="miter"/>
<polygon points="552.46,499.60 557.46,499.60 554.96,503.90" fill="#000" stroke="#000" stroke-width="0.85" stroke-linejoin="miter"/>
<polygon points="564.62,501.21 569.62,501.21 567.12,505.51" fill="#000" stroke="#000" stroke-width="0.85" stroke-linejoin="miter"/>
<polygon points="576.77,508.98 581.77,508.98 579.27,513.28" fill="#000" stroke="#000" stroke-width="0.85" stroke-linejoin="miter"/>
<polygon points="588.92,512.21 593.92,512.21 591.42,516.51" fill="#000" stroke="#000" stroke-width="0.85" stroke-linejoin="miter"/>
<polygon points="601.08,513.71 606.08,513.71 603.58,518.01" fill="#000" stroke="#000" stroke-width="0.85" stroke-linejoin="miter"/>
<polygon points="613.23,527.90 618.23,527.90 615.73,532.20" fill="#000" stroke="#000" stroke-width="0.85" stroke-linejoin="miter"/>
<polygon points="625.38,526.29 630.38,526.29 627.88,530.59" fill="#000" stroke="#000" stroke-width="0.85" stroke-linejoin="miter"/>
<polygon points="637.54,530.99 642.54,530.99 640.04,535.29" fill="#000" stroke="#000" stroke-width="0.85" stroke-linejoin="miter"/>
<polygon points="649.69,532.60 654.69,532.60 652.19,536.90" fill="#000" stroke="#000" stroke-width="0.85" stroke-linejoin="miter"/>
<polygon points="661.85,537.29 666.85,537.29 664.35,541.59" fill="#000" stroke="#000" stroke-width="0.85" stroke-linejoin="miter"/>
<polygon points="528.15,472.30 533.15,472.30 530.65,476.60" fill="#fff" stroke="#000" stroke-width="0.7" stroke-linejoin="miter"/>
<polygon points="540.31,470.69 545.31,470.69 542.81,474.99" fill="#fff" stroke="#000" stroke-width="0.7" stroke-linejoin="miter"/>
<polygon points="552.46,472.30 557.46,472.30 554.96,476.60" fill="#fff" stroke="#000" stroke-width="0.7" stroke-linejoin="miter"/>
<polygon points="564.62,477.59 569.62,477.59 567.12,481.89" fill="#fff" stroke="#000" stroke-width="0.7" stroke-linejoin="miter"/>
<polygon points="576.77,478.61 581.77,478.61 579.27,482.91" fill="#fff" stroke="#000" stroke-width="0.7" stroke-linejoin="miter"/>
<polygon points="588.92,484.50 593.92,484.50 591.42,488.80" fill="#fff" stroke="#000" stroke-width="0.7" stroke-linejoin="miter"/>
<polygon points="601.08,480.78 606.08,480.78 603.58,485.08" fill="#fff" stroke="#000" stroke-width="0.7" stroke-linejoin="miter"/>
<polygon points="613.23,491.82 618.23,491.82 615.73,496.12" fill="#fff" stroke="#000" stroke-width="0.7" stroke-linejoin="miter"/>
<polygon points="625.38,491.82 630.38,491.82 627.88,496.12" fill="#fff" stroke="#000" stroke-width="0.7" stroke-linejoin="miter"/>
<polygon points="637.54,492.41 642.54,492.41 640.04,496.71" fill="#fff" stroke="#000" stroke-width="0.7" stroke-linejoin="miter"/>
<polygon points="649.69,505.90 654.69,505.90 652.19,510.20" fill="#fff" stroke="#000" stroke-width="0.7" stroke-linejoin="miter"/>
<polygon points="661.85,506.50 666.85,506.50 664.35,510.80" fill="#fff" stroke="#000" stroke-width="0.7" stroke-linejoin="miter"/>
<circle cx="530.65" cy="521.62" r="2.58" fill="#000" stroke="#000" stroke-width="0.85"/>
<circle cx="542.81" cy="538.89" r="2.58" fill="#000" stroke="#000" stroke-width="0.85"/>
<circle cx="554.96" cy="551.40" r="2.58" fill="#000" stroke="#000" stroke-width="0.85"/>
<circle cx="567.12" cy="547.30" r="2.58" fill="#000" stroke="#000" stroke-width="0.85"/>
<circle cx="579.27" cy="549.89" r="2.58" fill="#000" stroke="#000" stroke-width="0.85"/>
<circle cx="591.42" cy="550.49" r="2.58" fill="#000" stroke="#000" stroke-width="0.85"/>
<circle cx="603.58" cy="553.61" r="2.58" fill="#000" stroke="#000" stroke-width="0.85"/>
<circle cx="615.73" cy="551.40" r="2.58" fill="#000" stroke="#000" stroke-width="0.85"/>
<circle cx="627.88" cy="556.79" r="2.58" fill="#000" stroke="#000" stroke-width="0.85"/>
<circle cx="640.04" cy="551.40" r="2.58" fill="#000" stroke="#000" stroke-width="0.85"/>
<circle cx="652.19" cy="551.99" r="2.58" fill="#000" stroke="#000" stroke-width="0.85"/>
<circle cx="664.35" cy="554.90" r="2.58" fill="#000" stroke="#000" stroke-width="0.85"/>
<circle cx="530.65" cy="507.50" r="2.58" fill="#fff" stroke="#000" stroke-width="0.7"/>
<circle cx="542.81" cy="523.20" r="2.58" fill="#fff" stroke="#000" stroke-width="0.7"/>
<circle cx="554.96" cy="541.10" r="2.58" fill="#fff" stroke="#000" stroke-width="0.7"/>
<circle cx="567.12" cy="542.01" r="2.58" fill="#fff" stroke="#000" stroke-width="0.7"/>
<circle cx="579.27" cy="544.50" r="2.58" fill="#fff" stroke="#000" stroke-width="0.7"/>
<circle cx="591.42" cy="546.11" r="2.58" fill="#fff" stroke="#000" stroke-width="0.7"/>
<circle cx="603.58" cy="548.32" r="2.58" fill="#fff" stroke="#000" stroke-width="0.7"/>
<circle cx="615.73" cy="551.40" r="2.58" fill="#fff" stroke="#000" stroke-width="0.7"/>
<circle cx="627.88" cy="551.40" r="2.58" fill="#fff" stroke="#000" stroke-width="0.7"/>
<circle cx="640.04" cy="546.11" r="2.58" fill="#fff" stroke="#000" stroke-width="0.7"/>
<circle cx="652.19" cy="542.99" r="2.58" fill="#fff" stroke="#000" stroke-width="0.7"/>
<circle cx="664.35" cy="543.90" r="2.58" fill="#fff" stroke="#000" stroke-width="0.7"/>
</svg></body></html>
